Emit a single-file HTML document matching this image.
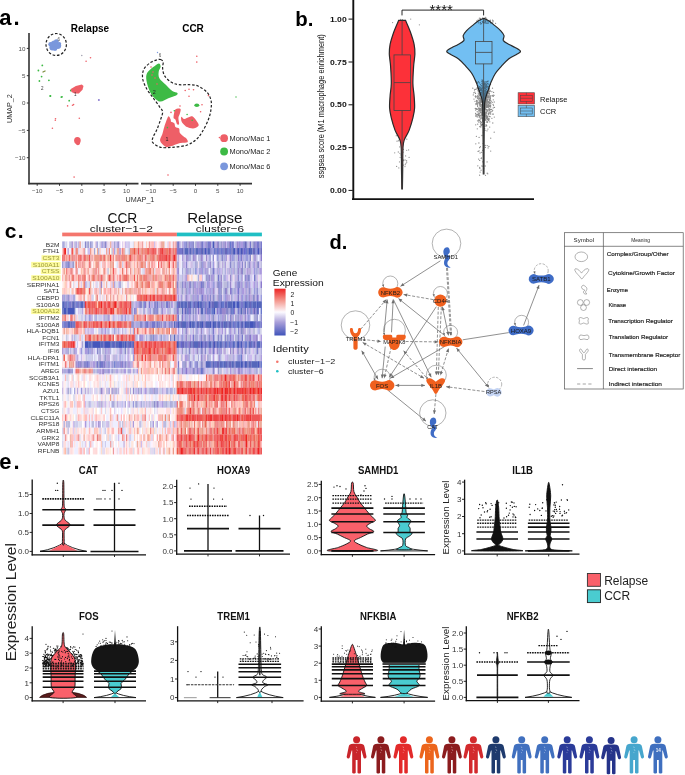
<!DOCTYPE html>
<html><head><meta charset="utf-8"><style>
html,body{margin:0;padding:0;background:#fff;width:685px;height:775px;overflow:hidden}
svg{display:block;font-family:"Liberation Sans",sans-serif;will-change:transform}
.hm rect{height:1.02px}
.hm rect:not([width]){width:1.05px}
</style></head><body>
<svg width="685" height="775" viewBox="0 0 685 775">
<text x="-0.8" y="24.6" font-size="22" font-weight="bold" fill="#000" letter-spacing="2">a.</text>
<text x="90" y="31.5" font-size="10" text-anchor="middle" font-weight="bold" fill="#000">Relapse</text>
<text x="193" y="31.5" font-size="10" text-anchor="middle" font-weight="bold" fill="#000">CCR</text>
<line x1="29" y1="33" x2="29" y2="184.3" stroke="#333" stroke-width="1.6"/>
<line x1="28.2" y1="183.6" x2="138.5" y2="183.6" stroke="#333" stroke-width="1.6"/>
<line x1="141" y1="183.6" x2="252" y2="183.6" stroke="#333" stroke-width="1.6"/>
<line x1="26.8" y1="48.4" x2="29" y2="48.4" stroke="#333" stroke-width="1"/>
<text x="25.5" y="50.6" font-size="6.2" text-anchor="end" fill="#4d4d4d">10</text>
<line x1="26.8" y1="75.7" x2="29" y2="75.7" stroke="#333" stroke-width="1"/>
<text x="25.5" y="77.9" font-size="6.2" text-anchor="end" fill="#4d4d4d">5</text>
<line x1="26.8" y1="103" x2="29" y2="103" stroke="#333" stroke-width="1"/>
<text x="25.5" y="105.2" font-size="6.2" text-anchor="end" fill="#4d4d4d">0</text>
<line x1="26.8" y1="130.4" x2="29" y2="130.4" stroke="#333" stroke-width="1"/>
<text x="25.5" y="132.6" font-size="6.2" text-anchor="end" fill="#4d4d4d">−5</text>
<line x1="26.8" y1="157.7" x2="29" y2="157.7" stroke="#333" stroke-width="1"/>
<text x="25.5" y="159.9" font-size="6.2" text-anchor="end" fill="#4d4d4d">−10</text>
<line x1="37.2" y1="183.6" x2="37.2" y2="185.8" stroke="#333" stroke-width="1"/>
<text x="37.2" y="192.8" font-size="6.2" text-anchor="middle" fill="#4d4d4d">−10</text>
<line x1="150.9" y1="183.6" x2="150.9" y2="185.8" stroke="#333" stroke-width="1"/>
<text x="150.9" y="192.8" font-size="6.2" text-anchor="middle" fill="#4d4d4d">−10</text>
<line x1="59.5" y1="183.6" x2="59.5" y2="185.8" stroke="#333" stroke-width="1"/>
<text x="59.5" y="192.8" font-size="6.2" text-anchor="middle" fill="#4d4d4d">−5</text>
<line x1="173.2" y1="183.6" x2="173.2" y2="185.8" stroke="#333" stroke-width="1"/>
<text x="173.2" y="192.8" font-size="6.2" text-anchor="middle" fill="#4d4d4d">−5</text>
<line x1="81.8" y1="183.6" x2="81.8" y2="185.8" stroke="#333" stroke-width="1"/>
<text x="81.8" y="192.8" font-size="6.2" text-anchor="middle" fill="#4d4d4d">0</text>
<line x1="195.5" y1="183.6" x2="195.5" y2="185.8" stroke="#333" stroke-width="1"/>
<text x="195.5" y="192.8" font-size="6.2" text-anchor="middle" fill="#4d4d4d">0</text>
<line x1="104.1" y1="183.6" x2="104.1" y2="185.8" stroke="#333" stroke-width="1"/>
<text x="104.1" y="192.8" font-size="6.2" text-anchor="middle" fill="#4d4d4d">5</text>
<line x1="217.8" y1="183.6" x2="217.8" y2="185.8" stroke="#333" stroke-width="1"/>
<text x="217.8" y="192.8" font-size="6.2" text-anchor="middle" fill="#4d4d4d">5</text>
<line x1="126.4" y1="183.6" x2="126.4" y2="185.8" stroke="#333" stroke-width="1"/>
<text x="126.4" y="192.8" font-size="6.2" text-anchor="middle" fill="#4d4d4d">10</text>
<line x1="240.1" y1="183.6" x2="240.1" y2="185.8" stroke="#333" stroke-width="1"/>
<text x="240.1" y="192.8" font-size="6.2" text-anchor="middle" fill="#4d4d4d">10</text>
<text x="140" y="201.6" font-size="7.2" text-anchor="middle" fill="#333">UMAP_1</text>
<text transform="translate(11.8,108.6) rotate(-90)" font-size="7.2" text-anchor="middle" fill="#333">UMAP_2</text>
<circle cx="54.5" cy="44.8" r="4.3" fill="#7a97dc"/>
<circle cx="57.8" cy="45.6" r="3.4" fill="#7a97dc"/>
<circle cx="52.4" cy="47.6" r="3" fill="#7a97dc"/>
<circle cx="56.4" cy="41.6" r="2.4" fill="#7a97dc"/>
<circle cx="50.6" cy="44.2" r="2.3" fill="#7a97dc"/>
<circle cx="55" cy="48.6" r="2.4" fill="#7a97dc"/>
<circle cx="59.5" cy="43.5" r="1.6" fill="#7a97dc"/>
<ellipse cx="56.2" cy="44.5" rx="10.2" ry="11" fill="none" stroke="#222" stroke-width="1.2" stroke-dasharray="2.6,1.8"/>
<text x="57.5" y="40.5" font-size="4.5" fill="#555">6</text>
<circle cx="42.3" cy="65.4" r="0.9" fill="#3dba45"/>
<circle cx="38.4" cy="70.5" r="0.9" fill="#3dba45"/>
<circle cx="41.6" cy="76.6" r="0.9" fill="#3dba45"/>
<circle cx="39.4" cy="81" r="0.9" fill="#3dba45"/>
<circle cx="48.9" cy="80.3" r="0.9" fill="#3dba45"/>
<circle cx="50.4" cy="96" r="0.9" fill="#3dba45"/>
<circle cx="61.3" cy="97.1" r="0.9" fill="#3dba45"/>
<circle cx="70.8" cy="90.5" r="0.9" fill="#3dba45"/>
<circle cx="62" cy="96.8" r="0.9" fill="#3dba45"/>
<circle cx="69.2" cy="100.7" r="0.9" fill="#3dba45"/>
<circle cx="50.3" cy="96" r="0.9" fill="#3dba45"/>
<path d="M42.5,72.3 L45.5,70.8" stroke="#7a8a3a" stroke-width="1.2"/>
<text x="42.3" y="89.5" font-size="4.5" text-anchor="middle" fill="#333">2</text>
<path d="M70.8,89 75.9,86.1 81.8,84.4 83.5,86.1 82.5,89.8 78.8,93.4 74.5,93.4 71.5,92Z" fill="#ee5f67" stroke="none" stroke-width="1"/>
<text x="75.2" y="96" font-size="4.5" text-anchor="middle" fill="#333">1</text>
<ellipse cx="77.4" cy="140.5" rx="3.3" ry="3.6" fill="#ee5f67"/>
<ellipse cx="77.9" cy="143.2" rx="2" ry="2" fill="#ee5f67"/>
<circle cx="67.6" cy="105.9" r="0.8" fill="#ee5f67"/>
<circle cx="73.6" cy="104.6" r="0.8" fill="#ee5f67"/>
<circle cx="72.5" cy="105.3" r="0.8" fill="#ee5f67"/>
<circle cx="55.5" cy="118.8" r="0.8" fill="#ee5f67"/>
<circle cx="55.3" cy="120.3" r="0.8" fill="#ee5f67"/>
<circle cx="79.3" cy="118.3" r="0.8" fill="#ee5f67"/>
<circle cx="52.4" cy="128.3" r="0.8" fill="#ee5f67"/>
<circle cx="74.1" cy="177.1" r="0.8" fill="#ee5f67"/>
<circle cx="86.1" cy="61.3" r="0.8" fill="#ee5f67"/>
<circle cx="90.5" cy="57.7" r="0.8" fill="#ee5f67"/>
<circle cx="81.8" cy="55.5" r="0.7" fill="#99a"/>
<circle cx="98.9" cy="99.9" r="1" fill="#8a7bd0"/>
<path d="M158.7,63.4C160,63.3 160.6,65.2 160.6,66.6C160.6,68 158.9,69.9 158.7,71.8C158.5,73.7 158.2,76 159.4,78.2C160.6,80.4 163.7,82.6 165.8,84.7C168,86.8 170.4,89.7 172.3,91.1C174.2,92.5 176.8,92.3 177.4,93.1C178,93.8 177.6,94.8 176.1,95.6C174.6,96.4 171,97.2 168.4,98.2C165.8,99.2 162.8,101.4 160.6,101.5C158.4,101.6 157.2,100.4 155.5,98.9C153.8,97.4 151.8,95.4 150.3,92.4C148.8,89.4 147,84 146.5,80.8C146,77.6 146,75.3 147.1,73.1C148.2,70.8 151,68.9 152.9,67.3C154.8,65.7 157.4,63.5 158.7,63.4Z" fill="#3dba45"/>
<path d="M168.5,116.3C169.3,115.9 170.3,118.7 170.7,119.6C171.1,120.5 170.5,121.2 171.1,121.8C171.7,122.4 173.6,122.3 174.3,123.2C175,124.1 174.6,126 175.4,126.9C176.2,127.8 178.4,127.4 179.1,128.4C179.8,129.4 179.2,131.5 179.8,132.7C180.4,133.9 181.6,134.7 182.7,135.7C183.8,136.7 185.6,137.5 186.4,138.6C187.2,139.7 188.5,141.5 187.5,142.2C186.5,142.9 183.5,142.3 180.5,143C177.5,143.7 172.2,146 169.6,146.6C167,147.2 166.8,147.6 165.2,146.6C163.6,145.6 160.6,142.9 160.1,140.8C159.6,138.7 161.7,136.3 162.3,134.2C162.9,132.1 163.2,130.5 163.8,128.4C164.4,126.3 165.2,123.8 166,121.8C166.8,119.8 167.7,116.7 168.5,116.3Z" fill="#ee5f67"/>
<path d="M175.4,109.4C176.5,108.6 179.8,108.3 180.5,109C181.2,109.7 180.2,112.3 179.8,113.8C179.5,115.3 178.5,116.4 178.4,118.1C178.3,119.8 179.3,123 179.1,124C178.8,125 177.5,124.7 176.9,124C176.3,123.3 176,120.6 175.4,119.6C174.8,118.6 173.8,119.1 173.6,118.1C173.4,117.1 173.7,115.2 174,113.8C174.3,112.3 174.3,110.2 175.4,109.4Z" fill="#ee5f67"/>
<path d="M181.3,116.7C181.7,116.3 182.9,118.9 184.2,118.9C185.5,119 187.8,117.4 189.3,117C190.8,116.6 191.5,115.7 193,116.7C194.5,117.7 197.2,121.6 198.1,123.2C198.9,124.8 198.9,125.3 198.1,126.2C197.2,127.1 194.8,128.3 193,128.4C191.2,128.5 188.4,127.4 187.1,126.9C185.8,126.4 185.8,126.3 184.9,125.4C184,124.5 182.2,122.9 181.6,121.4C181,120 180.9,117.1 181.3,116.7Z" fill="#ee5f67"/>
<circle cx="174.3" cy="110.8" r="0.8" fill="#3dba45"/>
<circle cx="187.1" cy="114.5" r="0.8" fill="#3dba45"/>
<circle cx="192.2" cy="120.3" r="0.8" fill="#3dba45"/>
<circle cx="167.4" cy="127.6" r="0.8" fill="#3dba45"/>
<ellipse cx="196.8" cy="105.3" rx="2.5" ry="1.8" fill="#3dba45"/>
<path d="M160.6,59.5C161.7,59.9 162.9,60.7 163.2,62.1C163.5,63.5 162.4,65.7 162.6,67.9C162.8,70.2 163.1,73.2 164.5,75.6C165.9,78 168.6,80.6 171,82.1C173.4,83.6 175.7,84.3 178.7,84.7C181.7,85.1 185.8,84.5 189,84.7C192.2,84.9 195,84.7 198,86C201,87.3 204.9,90 207.1,92.4C209.3,94.8 210.3,97.4 211,100.2C211.7,103 211.4,106 211,109.2C210.6,112.4 209.9,115.6 208.4,119.5C206.9,123.4 204.1,129 201.9,132.4C199.8,135.8 198.1,138 195.5,140.2C192.9,142.3 190.4,144.1 186.5,145.3C182.6,146.5 176.6,147 172.3,147.3C168,147.6 163.8,148.1 160.6,147.3C157.4,146.5 154.2,144.3 152.9,142.7C151.6,141.1 152.2,139.8 152.9,137.6C153.6,135.4 155.5,132.8 156.8,129.8C158.1,126.8 159.6,122.5 160.6,119.5C161.6,116.5 162.8,114 162.6,111.8C162.4,109.6 161,109 159.4,106.6C157.8,104.2 155.1,100.6 152.9,97.6C150.8,94.6 148.2,91.7 146.5,88.5C144.8,85.3 143,81.4 142.6,78.2C142.2,75 142.6,71.8 143.9,69.2C145.2,66.6 148.2,64.2 150.3,62.7C152.5,61.2 155.1,60.4 156.8,59.9C158.5,59.4 159.5,59.1 160.6,59.5Z" fill="none" stroke="#222" stroke-width="1.2" stroke-dasharray="2.6,1.8"/>
<circle cx="196.8" cy="56.3" r="0.8" fill="#ee5f67"/>
<circle cx="196.8" cy="62.1" r="0.8" fill="#ee5f67"/>
<circle cx="185.2" cy="90.5" r="0.8" fill="#ee5f67"/>
<circle cx="189" cy="89.2" r="0.8" fill="#ee5f67"/>
<circle cx="193.5" cy="89.8" r="0.8" fill="#ee5f67"/>
<circle cx="189" cy="96.3" r="0.8" fill="#ee5f67"/>
<circle cx="208.4" cy="95.6" r="0.8" fill="#ee5f67"/>
<circle cx="202" cy="104.7" r="0.8" fill="#ee5f67"/>
<circle cx="200.6" cy="111.8" r="0.8" fill="#ee5f67"/>
<circle cx="180" cy="106" r="0.8" fill="#ee5f67"/>
<circle cx="171" cy="112.4" r="0.8" fill="#ee5f67"/>
<circle cx="219.4" cy="137.6" r="0.8" fill="#ee5f67"/>
<circle cx="168" cy="175" r="0.8" fill="#ee5f67"/>
<circle cx="151" cy="67" r="0.8" fill="#ee5f67"/>
<circle cx="153" cy="72" r="0.8" fill="#ee5f67"/>
<circle cx="155" cy="78" r="0.8" fill="#ee5f67"/>
<circle cx="157" cy="84" r="0.8" fill="#ee5f67"/>
<circle cx="152" cy="75" r="0.8" fill="#ee5f67"/>
<circle cx="236" cy="97" r="0.7" fill="#3dba45"/>
<circle cx="157.5" cy="52.5" r="0.7" fill="#7a97dc"/>
<text x="158.8" y="57.2" font-size="4.5" fill="#555">6</text>
<text x="154.2" y="93.7" font-size="5.4" text-anchor="middle" fill="#222">2</text>
<text x="167.1" y="140.5" font-size="5.4" text-anchor="middle" fill="#222">1</text>
<circle cx="224.1" cy="138.2" r="3.9" fill="#ee5f67"/>
<text x="229.6" y="140.8" font-size="7.4" fill="#222">Mono/Mac 1</text>
<circle cx="224.1" cy="151.5" r="3.9" fill="#3dba45"/>
<text x="229.6" y="154.1" font-size="7.4" fill="#222">Mono/Mac 2</text>
<circle cx="224.1" cy="166.3" r="3.9" fill="#7a97dc"/>
<text x="229.6" y="168.9" font-size="7.4" fill="#222">Mono/Mac 6</text>
<text x="295.2" y="26.1" font-size="20.4" font-weight="bold" fill="#000">b.</text>
<line x1="353.3" y1="0" x2="353.3" y2="199.8" stroke="#111" stroke-width="1.9"/>
<line x1="352" y1="199.2" x2="534" y2="199.2" stroke="#111" stroke-width="1.8"/>
<line x1="348.5" y1="19.1" x2="352.8" y2="19.1" stroke="#111" stroke-width="1"/>
<text x="329.9" y="21.7" font-size="7.4" font-weight="bold" fill="#111" textLength="16.8" lengthAdjust="spacingAndGlyphs">1.00</text>
<line x1="348.5" y1="62" x2="352.8" y2="62" stroke="#111" stroke-width="1"/>
<text x="329.9" y="64.6" font-size="7.4" font-weight="bold" fill="#111" textLength="16.8" lengthAdjust="spacingAndGlyphs">0.75</text>
<line x1="348.5" y1="104.8" x2="352.8" y2="104.8" stroke="#111" stroke-width="1"/>
<text x="329.9" y="107.4" font-size="7.4" font-weight="bold" fill="#111" textLength="16.8" lengthAdjust="spacingAndGlyphs">0.50</text>
<line x1="348.5" y1="147.6" x2="352.8" y2="147.6" stroke="#111" stroke-width="1"/>
<text x="329.9" y="150.2" font-size="7.4" font-weight="bold" fill="#111" textLength="16.8" lengthAdjust="spacingAndGlyphs">0.25</text>
<line x1="348.5" y1="190.4" x2="352.8" y2="190.4" stroke="#111" stroke-width="1"/>
<text x="329.9" y="193" font-size="7.4" font-weight="bold" fill="#111" textLength="16.8" lengthAdjust="spacingAndGlyphs">0.00</text>
<text transform="translate(324,106.2) rotate(-90)" font-size="9" text-anchor="middle" fill="#111" textLength="144" lengthAdjust="spacingAndGlyphs">ssgsea score (M1 macrophage enrichment)</text>
<path d="M402,15.4 V10.1 H483.6 V15.4" fill="none" stroke="#111" stroke-width="0.9"/>
<text x="441.2" y="15.3" font-size="15" text-anchor="middle" fill="#111">****</text>
<path d="M402.1,143.8h0M403.7,134.2h0M405.3,164.7h0M403.5,160h0M402.2,149.5h0M399.5,139.1h0M402.8,136.6h0M403.5,165.1h0M405.1,160h0M396.3,135.7h0M400.1,157.3h0M406.7,162.2h0M403.1,152.2h0M401,154.9h0M399.7,146.9h0M401.9,131.6h0M408.6,149.9h0M399.1,140h0M405.9,163.3h0M399.5,161.9h0M398.3,152h0M401.8,145.2h0M403.6,160.5h0M404.6,129.7h0M406.8,139.2h0M403.4,149.4h0M398.8,167.9h0M402.6,135.8h0M399.9,153.3h0M403.3,139.1h0M398.3,140.8h0M406.7,150.3h0M403.4,130.5h0M401.1,137.2h0M402.5,137.5h0M397,141.2h0M403.8,129.7h0M405.6,155.9h0M409.1,157.4h0M396.6,166.4h0M405,166.6h0M402.3,159h0M394.7,152.8h0M406.6,160.7h0M401.4,145.8h0M405.1,20.5h0M392.6,22.6h0M410.7,19.1h0M404.9,27.6h0M402.8,23h0M401.4,29.8h0M404.2,23.7h0M402.5,19.6h0M403.7,20.9h0M400.7,19.4h0M399.4,24.4h0M402.1,20.3h0M419.4,24.8h0M402.8,29.9h0" stroke="#1a1a1a" stroke-opacity="0.45" stroke-width="1.3" stroke-linecap="round"/>
<path d="M405.5,20.3C406.3,22.2 409,28 410.4,32C411.8,36 413.4,40.6 414.1,44.3C414.9,48 415,50.4 414.9,54.1C414.8,57.8 413.9,61.5 413.6,66.4C413.3,71.3 412.8,78.6 412.9,83.5C413,88.4 413.8,91.7 414.1,95.8C414.4,99.9 414.8,104.3 414.6,108C414.4,111.7 413.8,114.2 412.9,117.9C412,121.6 410.6,126.4 409.2,130.1C407.8,133.8 405.3,137 404.3,139.9C403.3,142.8 403.3,142.4 403,147.3C402.7,152.2 402.8,162.5 402.7,169.4C402.6,176.3 402.5,185.7 402.4,189L401.8,189C401.8,185.7 401.6,176.3 401.5,169.4C401.4,162.5 401.5,152.2 401.2,147.3C400.9,142.4 400.9,142.8 399.9,139.9C398.9,137 396.4,133.8 395,130.1C393.6,126.4 392.2,121.6 391.3,117.9C390.4,114.2 389.8,111.7 389.6,108C389.4,104.3 389.8,99.9 390.1,95.8C390.4,91.7 391.2,88.4 391.3,83.5C391.4,78.6 390.9,71.3 390.6,66.4C390.3,61.5 389.4,57.8 389.3,54.1C389.2,50.4 389.4,48 390.1,44.3C390.9,40.6 392.4,36 393.8,32C395.2,28 397.9,22.2 398.7,20.3Z" fill="#fc3139" stroke="#2a2a2a" stroke-width="1.2"/>
<rect x="394" y="54.9" width="16.5" height="55.6" fill="none" stroke="#444" stroke-width="0.8"/>
<line x1="394" y1="82.6" x2="410.5" y2="82.6" stroke="#444" stroke-width="0.8"/>
<line x1="402.1" y1="20.5" x2="402.1" y2="54.9" stroke="#444" stroke-width="0.8"/>
<line x1="402.1" y1="110.5" x2="402.1" y2="189" stroke="#444" stroke-width="0.8"/>
<path d="M484.2,18.6C485,19 487.2,19.8 489,21C490.8,22.2 493.2,24.3 495.2,25.9C497.2,27.5 499.3,29.2 500.8,30.8C502.3,32.4 503.6,34.1 504,35.7C504.4,37.3 502.6,39.1 503.4,40.6C504.3,42.1 507.2,43.4 509.1,44.5C511.1,45.6 513.2,46.4 515.1,47.5C517,48.6 520,50.1 520.4,51.2C520.8,52.3 519.2,52.8 517.2,54.1C515.2,55.4 511.2,57 508.6,59C506,61 503.5,64 501.3,66.4C499.1,68.9 496.8,71.2 495.2,73.7C493.6,76.2 492.6,78.6 491.5,81.1C490.4,83.6 489.6,86.2 488.8,88.5C488,90.8 487.2,92.6 486.6,94.6C486,96.6 485.4,97.6 485,100.7C484.6,103.8 484.5,100.8 484.3,113C484.1,125.2 484,163.7 483.9,173.8L483.3,173.8C483.2,163.7 483.1,125.2 482.9,113C482.7,100.8 482.6,103.8 482.2,100.7C481.8,97.6 481.2,96.6 480.6,94.6C480,92.6 479.2,90.8 478.4,88.5C477.6,86.2 476.8,83.6 475.7,81.1C474.6,78.6 473.6,76.2 472,73.7C470.4,71.2 468.1,68.9 465.9,66.4C463.7,64 461.2,61 458.6,59C456,57 452,55.4 450,54.1C448,52.8 446.4,52.3 446.8,51.2C447.2,50.1 450.2,48.6 452.1,47.5C454,46.4 456.2,45.6 458.1,44.5C460.1,43.4 462.9,42.1 463.8,40.6C464.7,39.1 462.8,37.3 463.2,35.7C463.6,34.1 464.9,32.4 466.4,30.8C467.9,29.2 470,27.5 472,25.9C474,24.3 476.4,22.2 478.2,21C480,19.8 482.2,19 483,18.6Z" fill="#72bff2" stroke="#2a2a2a" stroke-width="1.2"/>
<path d="M488.4,103h0M487.4,91.8h0M482.6,99.1h0M484.2,122.9h0M486.4,101.5h0M483.5,114.4h0M479.9,108.5h0M481.9,98h0M477.9,87.3h0M482.7,84.1h0M482.4,100.1h0M478.5,102.8h0M484.5,101.1h0M480.4,110.3h0M475.9,97.6h0M475.3,96.5h0M487.8,86.4h0M486.6,125.9h0M484.8,106.9h0M493.2,107.9h0M485.7,87.8h0M487.9,97.9h0M485.9,94.3h0M481,89.5h0M480.3,115.7h0M480.4,121.5h0M483.3,118.4h0M490,113.3h0M481.8,125.3h0M481.1,86.2h0M490.6,107h0M482.2,93.9h0M486.5,121.9h0M483.5,106.7h0M479.9,105.5h0M486.2,107.4h0M475.9,104.6h0M485,116.6h0M485.3,118.8h0M490.4,90.9h0M483.1,115h0M483.6,111.5h0M486,115.2h0M484.1,109.2h0M486.5,89.4h0M484.5,103.8h0M481.2,108.4h0M481.5,124.7h0M486.5,93.2h0M482.9,86.3h0M480.8,90.4h0M477.4,83h0M483.4,90.3h0M480.8,100.5h0M493.6,92.4h0M483,88.3h0M483.9,113.4h0M483.2,100.1h0M480,90.4h0M485.6,116.4h0M484.8,85.8h0M488.4,91.6h0M482.8,101.8h0M485.7,117.3h0M482.9,110.1h0M485,87.8h0M486.9,97.5h0M487,97.9h0M481.8,94.3h0M488.2,88.4h0M484.4,116.1h0M480.3,101.1h0M490.4,105.4h0M486,102.5h0M485.9,86.4h0M485.6,109.8h0M489.8,91.5h0M486.4,82h0M486.6,106.8h0M477.2,88.6h0M484.4,94.5h0M486.8,111.8h0M490,109.2h0M481.5,105.7h0M490.4,98.4h0M478.2,89.5h0M485.3,98.7h0M490.1,96.9h0M487.1,100.7h0M485.6,92.1h0M488.2,81.1h0M483.9,102.6h0M480.9,123.2h0M483.3,113.7h0M480.9,126h0M489.8,105.2h0M478.8,110.4h0M483.2,93h0M485.9,97.7h0M485.7,115.3h0M490.3,97.4h0M485.9,124.8h0M475.5,93.4h0M478.7,120.8h0M483.3,100.4h0M481.3,101.8h0M488.9,97h0M483,90.8h0M481.6,116h0M486,97.4h0M480.3,110.1h0M480.1,104.1h0M488,106.4h0M481.5,104.7h0M475.3,108.4h0M477,109.1h0M483.9,117.5h0M482.7,104.3h0M486.6,100.8h0M482.9,90.6h0M484.7,83.2h0M483.6,105.7h0M485,106h0M487.9,129.1h0M482.3,104.8h0M483.6,92.4h0M486.8,98h0M479.6,93.2h0M485.5,97.4h0M485.3,99.3h0M481.5,85.6h0M484.7,98.7h0M486.9,106.6h0M479.5,86.8h0M488.3,87.6h0M480.8,93.6h0M486.8,93h0M479.8,98.6h0M479.6,97.8h0M488.3,102.4h0M482.2,100.6h0M485.4,91.7h0M477.5,120.8h0M489.4,85.5h0M480.7,104.2h0M484,96.5h0M478.4,108.3h0M479.2,116.8h0M478.2,93.1h0M482.9,97.3h0M483.4,101.1h0M488.7,113.8h0M484.1,106.6h0M488.2,120.4h0M484.3,103h0M482,105h0M478.9,111.2h0M475.6,116h0M480.4,84.7h0M485.1,120.3h0M483.2,84.6h0M487.5,116.3h0M483.1,105.6h0M488,95.6h0M481.1,105.9h0M486.2,105.6h0M479.4,88.3h0M485.9,93.7h0M485.7,93.9h0M484.4,98h0M483.6,102.6h0M481.4,101.9h0M477.7,95.3h0M479.5,95.9h0M484.2,86.3h0M482.3,107h0M487.2,117.1h0M481.3,113.5h0M485.7,85.6h0M486.4,105.4h0M488.4,106.6h0M486.1,98.8h0M474.8,92.2h0M489.3,97.1h0M487.5,83.6h0M482.1,94.5h0M484.4,102.5h0M484.1,91.3h0M486.8,106.9h0M489.5,93.7h0M492.8,123h0M484.3,87.3h0M485,81.6h0M479.2,108.1h0M484.3,84.6h0M480.6,108.9h0M474,99.1h0M484.2,94.2h0M489.6,103.7h0M475,89.4h0M481.4,107h0M486.3,105.2h0M489.1,108.6h0M477.3,116.9h0M491.2,101.3h0M487.3,97.5h0M482,101.4h0M487.6,119.4h0M487,99.3h0M480.8,87.6h0M483.7,111.9h0M485.3,90.3h0M488.5,105.6h0M482.6,112.5h0M483.1,96.7h0M489.2,99.5h0M488.8,119.5h0M482.7,106.2h0M482.3,111.9h0M477.3,104.6h0M489.1,97.3h0M477.9,90.7h0M489.9,100.2h0M482.2,118h0M483.2,96.7h0M483.7,91.8h0M478,98.7h0M482.6,95.6h0M479.3,92.5h0M490.8,112h0M482,98.8h0M482.7,107.5h0M488.9,93.4h0M480.8,90.5h0M480.2,94.7h0M485.8,99.4h0M486.1,117.9h0M478.8,102.4h0M480,101.3h0M487.3,100.9h0M482.8,104.2h0M483.5,93.7h0M480.1,103.2h0M487,96.4h0M481.9,83.7h0M489.5,89.2h0M485.6,108.7h0M484.7,106.4h0M477.6,105.2h0M485.9,104.8h0M486.7,86.3h0M477.8,109.3h0M482.4,96.8h0M485.1,96.2h0M482.8,88h0M486.4,104.5h0M482.7,102.5h0M476,109.6h0M482.4,112.3h0M482,88.2h0M475.8,81.8h0M480.6,98.4h0M480.2,110.1h0M480,87.8h0M483.7,120.9h0M479.8,95.3h0M483,89.9h0M488,106.7h0M484.6,114.6h0M480.3,94.7h0M479.7,126.6h0M488.7,114.8h0M482.7,99.5h0M485.7,96.9h0M485.8,114.1h0M482.2,110.8h0M479.3,113.6h0M489.2,116.4h0M478.4,81.7h0M477.5,98.2h0M489.3,90.9h0M480.5,121.9h0M486.1,84.9h0M483.8,96.7h0M484,106.3h0M485.7,104h0M483.7,85h0M482.7,90.8h0M481,96.5h0M485,84h0M485,96.3h0M480,116.2h0M486.3,94.9h0M482.7,87.4h0M483.9,102.1h0M490,106.9h0M486.9,109.6h0M486.1,104.5h0M487,107.3h0M484.4,103.3h0M485.1,107.1h0M483.7,98.1h0M484.2,113.9h0M486.8,87.7h0M484.8,112.6h0M484.1,100h0M483,109.6h0M486,112.4h0M488.2,109.8h0M485.2,98.8h0M485.6,118.8h0M490.2,99h0M485.5,97h0M486.6,102h0M478.7,108.1h0M485,99.3h0M474.5,90h0M483.4,101.2h0M483.9,106.7h0M484.5,103.4h0M485.4,117.1h0M482.1,108h0M482.9,114.4h0M475.6,110.1h0M483.2,104.7h0M488.5,96.9h0M483.1,106.5h0M490.7,96.2h0M486.1,110.2h0M488.6,93.6h0M482.6,108.1h0M477.4,100.9h0M479.5,109.2h0M481.9,111.3h0M485,95.2h0M479.3,104.3h0M485.9,101.2h0M478.5,99.2h0M480,99.3h0M483.8,95.7h0M482.8,101.4h0M484.9,83.9h0M482.1,99.8h0M490.9,103.7h0M477.5,87.9h0M480.6,110.4h0M479.9,116.3h0M486.8,96.7h0M485.3,112h0M483.1,107h0M482.8,97.2h0M486.3,115.9h0M484.8,102.2h0M488.1,111.1h0M483.3,100.6h0M493.5,105.6h0M488.4,104.6h0M486.8,85.2h0M479.5,86.6h0M483.1,95.1h0M485,104h0M481.9,104.5h0M485.1,130.3h0M491.2,109.3h0M485.8,112.6h0M490.6,105.5h0M480,90.2h0M475.9,103.6h0M487.9,93.5h0M484.2,97h0M479.2,109.6h0M481.2,105h0M482.6,90.1h0M482.1,101.4h0M487.2,94.8h0M485.7,114.6h0M479.6,100.9h0M479.4,93.1h0M487,104.3h0M483.5,111.9h0M484.3,97.8h0M485.8,103.3h0M481,118.1h0M475.7,124.8h0M477.9,82.6h0M482.7,90.8h0M481,124.5h0M482.2,114h0M479.8,103.7h0M483.5,126.7h0M492.2,95.3h0M485.2,104h0M480.5,100.4h0M482.9,86.4h0M485.2,119.6h0M487.6,100.1h0M488.8,91.8h0M480.5,101.8h0M485.5,109.4h0M484.4,98.3h0M488.9,112.7h0M473.7,92.8h0M482.6,124.3h0M485.2,97.5h0M487.5,97.3h0M482.8,88.4h0M489.3,88.3h0M487.7,99.3h0M479.1,117.1h0M486.3,99.6h0M483.1,102.5h0M487,111.2h0M483.1,95.5h0M484.4,109.1h0M479.4,103.5h0M482.7,121.1h0M483.5,104.9h0M484.2,102.7h0M485,92.9h0M485.1,115.1h0M485.4,109.9h0M490.4,102.3h0M485.1,94.6h0M484.7,113.2h0M479.5,90.5h0M480,119.1h0M485.7,102.1h0M476.9,103h0M483.2,81.3h0M482.6,93.6h0M484.2,103h0M477.3,87.4h0M481.2,112.3h0M476.1,89.2h0M478.8,107.8h0M486,90.6h0M485.7,105.3h0M472.8,88.2h0M482.5,91.2h0M487,94.8h0M479.7,105.9h0M483,108.2h0M487.8,96.7h0M487.5,83.7h0M475.8,113.9h0M483,99.9h0M481.4,89.6h0M483.8,93.1h0M475.5,95.9h0M487,115.1h0M486.9,92.9h0M477.7,124.2h0M481.6,97.5h0M482.5,108.1h0M488.4,86.7h0M486.4,98.5h0M480.8,127.1h0M487.1,97.5h0M485.6,100.8h0M494.2,102h0M484.9,109h0M485.1,103.4h0M482.6,84.1h0M479,110.2h0M483.2,102.5h0M493.1,96.4h0M484.9,109.9h0M483.9,93.4h0M483.3,98.7h0M493.1,104.4h0M490.1,116.7h0M494.3,117.1h0M478.7,94.8h0M484.6,104.3h0M481.2,102.4h0M490.2,109.6h0M482.7,104.5h0M482.5,115.2h0M484.8,98.1h0M490.8,96h0M485.2,106.2h0M486.1,109.2h0M482.8,105.8h0M492,111.3h0M483.4,132.7h0M487.2,102.3h0M482.3,114.1h0M480.4,99.2h0M484.1,112h0M477,101.8h0M481.8,90.8h0M482.6,90.5h0M482.1,81.7h0M488.5,106.5h0M480.6,121.5h0M492.4,114.1h0M481.7,105.6h0M486.1,101.3h0M487,130.8h0M487.8,83.2h0M484,103.4h0M478.7,115.4h0M483.3,118.7h0M482.6,83.5h0M486.2,113.5h0M484.4,96.2h0M481.6,94.2h0M483.5,91.4h0M486.9,97.7h0M477.3,128.8h0M478.1,115.5h0M493.7,95.1h0M485.5,101.3h0M483.6,84.1h0M488.2,93.4h0M493.3,96.2h0M484.9,90h0M482.1,80h0M483.2,115.4h0M485.5,87.8h0M485.3,112.5h0M478.2,113h0M486.3,122.1h0M490.7,100.3h0M488.3,105.1h0M480.9,110.7h0M479.2,113.7h0M486.1,96h0M483.5,90.9h0M487.6,90.9h0M480,112.3h0M485.7,106.7h0M487.4,91.5h0M484.8,104.9h0M486.4,98.1h0M484.5,115.5h0M481.4,114h0M476.5,100.4h0M476.4,114.7h0M485.7,86.5h0M489,118.4h0M486.6,93h0M481.6,109h0M490.2,109.6h0M482.7,98.2h0M484.2,112.1h0M483.9,122.8h0M486.4,105.6h0M486.5,91.9h0M485.8,87.9h0M480.2,95.7h0M489.7,127.1h0M482.1,100.3h0M485.9,84.8h0M483.5,106.1h0M483.9,114.6h0M487.4,81.4h0M480.6,106.6h0M486.1,89.3h0M481.9,107.5h0M484.6,98.3h0M482.9,100.4h0M481.8,114.3h0M482.9,97.8h0M487.8,103.4h0M479.9,110.6h0M494.1,95.3h0M479.6,94.9h0M486.7,104.7h0M482.4,106.7h0M482.6,87h0M488.7,90.5h0M479.6,120.3h0M481,101.4h0M485.1,112.9h0M485.9,99.3h0M481.7,107.3h0M475.6,113.4h0M489.3,119.8h0M485.2,95.9h0M484.6,103.2h0M483.6,91.2h0M477.8,114.4h0M484.9,112.4h0M485.1,96.7h0M486.6,102h0M480.3,98.6h0M485.3,107.9h0M485.3,88.7h0M489.5,102.5h0M489.1,105.5h0M482.1,96.7h0M479.8,102.1h0M482.3,87.6h0M480.6,93.8h0M485.9,120.2h0M480.2,110.1h0M482.2,94.4h0M480.2,115.5h0M490.5,105.6h0M483.3,112.1h0M483.5,114.6h0M489,109.6h0M488.8,92.5h0M482.7,97.5h0M482.3,80.9h0M484.3,88.4h0M480.5,109.8h0M483.8,87.5h0M481.3,105.3h0M487.2,117.5h0M482.6,93.2h0M478.6,119.8h0M480.7,123.8h0M480.4,101.9h0M484,118.5h0M480.1,101h0M484.3,87.9h0M489.5,102h0M482.2,92h0M486.7,112.8h0M489.1,94.5h0M487,107.2h0M487.3,105.7h0M482.8,97.4h0M485.1,113.9h0M487.9,105.9h0M485.1,104.5h0M481.6,125.4h0M483.2,91h0M484.8,110.1h0M491.9,91.7h0M489.8,121.8h0M484.2,90.4h0M493.3,99.8h0M488.2,107.6h0M483.4,94.7h0M494.5,107.4h0M477.6,106.5h0M482.6,106.1h0M477.5,96.7h0M487.7,103.9h0M483.1,111.7h0M481.3,102.5h0M481,97.7h0M483.4,91.4h0M479,114.5h0M483.4,85.2h0M486.6,84.1h0M488.4,101.4h0M481.7,92.6h0M484.3,108.4h0M481.6,97.2h0M479.1,102.7h0M481.5,122.4h0M480,100.5h0M484.9,115.5h0M475,101.3h0M485.7,103.9h0M482.8,119.9h0M484.2,84.1h0M487.4,110.1h0M479.1,94.7h0M485.3,105.2h0M478,85.8h0M483.9,102.8h0M486.9,118.7h0M486.3,92.6h0M483.4,117.1h0M489.5,100.6h0M483.6,110.9h0M481.4,99.9h0M484.5,115h0M492.5,88.2h0M487.7,117.9h0M488,86.8h0M485.5,86.6h0M486,98.4h0M485.6,83.1h0M485.9,97.5h0M484.5,97.7h0M488.1,96.2h0M482.2,87.8h0M484.4,101.4h0M484.2,111.9h0M488.3,106.7h0M490,100.2h0M480.3,89h0M479,100.8h0M485.1,93.5h0M486.2,120.1h0M483.6,97h0M481.4,115h0M480.7,93.6h0M494.2,132.2h0M486.8,107.2h0M483.6,107.6h0M483.6,89.4h0M492.2,102.4h0M483.9,100.6h0M483.7,100.9h0M476.2,96.3h0M482.9,104.9h0M480.7,97.8h0M484.1,92.8h0M485.5,100h0M482.4,98.7h0M483.3,105.2h0M483,109h0M486.7,117.7h0M482.3,83.5h0M483.3,86.5h0M486.4,116.3h0M482.8,82.3h0M486,117h0M481.8,112.3h0M478.9,98.6h0M486.3,92.5h0M483.1,99.9h0M489.4,95.8h0M487.9,101.4h0M487.2,101.6h0M478.5,91.4h0M482.4,114.1h0M486.9,104.9h0M484.6,109.6h0M481,89h0M486,102.4h0M485,107.6h0M483.6,93.6h0M480.3,112.6h0M487,95.7h0M485.1,119.3h0M480,102.1h0M480.6,100.7h0M486.3,103.5h0M488.5,106.9h0M478.8,90.9h0M487.5,116.9h0M484.1,91.4h0M483.5,90.3h0M487.2,105.4h0M478.8,91.4h0M482.3,108.2h0M479.3,117.3h0M473.3,94.9h0M488.6,114.3h0M482.5,106.5h0M478.4,96.7h0M477.1,116.7h0M484.4,96.3h0M490.6,106.4h0M485.2,93.5h0M486.7,94.7h0M484.7,128.7h0M487,97.6h0M483.1,110.8h0M487.7,121.7h0M486.3,102.3h0M482.6,109.3h0M481.6,110.1h0M486.1,99.5h0M482.3,88.4h0M486.3,91.5h0M490.5,95.8h0M481,118.8h0M482.3,103.8h0M486.2,102h0M491.9,118.3h0M478.9,122.2h0M482.9,96.9h0M484.2,98.6h0M481.9,109.1h0M492.5,95.7h0M491.8,109.6h0M488.8,95.9h0M488.6,120.4h0M485.7,93.9h0M479.4,93.7h0M485.6,102h0M483.2,99.8h0M481.1,109h0M486.6,106.7h0M485.8,109.2h0M482.6,91.2h0M486.3,97.4h0M484.2,83h0M486.1,84.6h0M483.8,96.5h0M490.1,112.3h0M484.1,91.3h0M482.9,80.8h0M486.1,94.6h0M484,100.9h0M482.4,89.9h0M483.7,89.9h0M484.6,84.8h0M493.5,114.1h0M488.6,118.6h0M489.6,110.9h0M485.1,101.7h0M481.8,81.7h0M477.2,114.7h0M483.4,105.6h0M484.8,98.2h0M479.4,102.4h0M476.8,101.3h0M483.6,118.5h0M480.2,111.8h0M487.5,122.3h0M484.5,105.9h0M480.9,106.3h0M482.8,100.6h0M489.4,106.3h0M484.7,114.8h0M482.6,109.1h0M477.6,96.9h0M479.2,88.3h0M483,101.4h0M488,106.9h0M483.1,109.6h0M482.6,97.1h0M480.2,108.8h0M482.8,85.8h0M488.2,113.6h0M476.4,108.7h0M486.3,100.4h0M490.6,114h0M485,91.9h0M482.8,85.1h0M486.7,97.9h0M477.1,103.9h0M485,100.8h0M480.9,118h0M481.4,92.7h0M482.6,113.3h0M485.3,103.1h0M487.7,93.2h0M490.5,84.4h0M480.2,94.8h0M479.2,94h0M480.6,92.5h0M483,89.3h0M481.4,105.5h0M480.5,104h0M482.4,104.5h0M484,90.2h0M481.1,100.2h0M485.6,101.5h0M481.7,88.6h0M483.6,108.9h0M492.7,110.6h0M485,88.4h0M489,98h0M478.4,108.3h0M483.6,113.8h0M483.7,98.7h0M480.4,104.4h0M488.7,97.9h0M481.3,90.9h0M480,110.4h0M484.8,99.8h0M482.4,92.1h0M482.8,92.1h0M483.6,105.1h0M485,104.7h0M479.6,110.6h0M489.6,103.2h0M482.6,99.4h0M480.9,102.1h0M483.6,108.1h0M486.4,100.1h0M478.3,115.2h0M482.6,96.5h0M486.2,86.6h0M486.6,125.2h0M476.2,115.8h0M478.6,97.2h0M483.1,110.6h0M485.4,100.1h0M489.8,110.3h0M487.1,117h0M488.3,84.1h0M477.8,103h0M482.7,103.8h0M487.2,101h0M486,87.2h0M479.3,115.1h0M481.1,117.3h0M487.1,93.9h0M476.6,101.8h0M486.2,94.9h0M481.8,96h0M483.6,102.1h0M480.1,94.5h0M488.2,106.8h0M485.2,126.2h0M479.6,82.9h0M482.1,106.9h0M477.2,111.7h0M490.7,151.1h0M483.2,143.5h0M481.9,166h0M481.2,158.5h0M485.4,147.4h0M480.1,172.1h0M481.5,158h0M480.1,152.9h0M480.4,146.7h0M479.6,175.2h0M488.9,146.4h0M478.9,143h0M482.7,161.8h0M475.8,143.8h0M482.7,150.3h0M478.6,159.1h0M477.8,165.8h0M485.5,175.3h0M487.8,173.8h0M487.1,161.9h0M476.4,136.3h0M479.7,167.5h0M479.6,147.7h0M479.7,160.4h0M487.2,145.6h0M487.2,173.2h0M485.2,166h0M479.1,150.8h0M481.1,170.2h0M483.2,166.3h0M483.7,168.6h0M481.9,135.5h0M479.1,137.4h0M481.7,152.3h0M488.1,147.9h0M479.8,168.4h0M478.1,151.4h0M490.7,138.2h0M485.2,145.4h0M483.3,166.6h0M488.3,23h0M487.7,21.1h0M478.7,22.8h0M490.5,21.1h0M480.5,19.9h0M480.4,23.9h0M483.9,18.4h0M483.5,18.6h0M484.5,18.2h0M480.4,22.4h0M490.3,20.2h0M495.6,23.3h0M485,22.5h0M480.5,19.9h0M483.9,21.9h0M485.1,20.9h0M480.5,18.4h0M492.5,20.1h0M487.6,23.2h0M486,20.5h0M485.7,21.5h0M486.6,18.9h0M484.9,23.1h0M482.4,21.4h0M485.7,17.5h0M479.4,18.2h0M482.8,17.8h0M482.8,22.5h0M490.7,22.9h0M476.8,20.9h0M489.1,20.9h0M478.1,20h0M485.7,18.7h0M483.9,20.2h0M493.2,21h0M492.7,22.2h0M486.4,23.2h0M481.4,23.7h0M483.3,22.6h0M486.2,23.2h0" stroke="#1a1a1a" stroke-opacity="0.5" stroke-width="1.3" stroke-linecap="round"/>
<rect x="475.5" y="41.4" width="16.5" height="22.5" fill="none" stroke="#444" stroke-width="0.8"/>
<line x1="475.5" y1="52.4" x2="492" y2="52.4" stroke="#444" stroke-width="0.8"/>
<line x1="483.6" y1="18.8" x2="483.6" y2="41.4" stroke="#444" stroke-width="0.8"/>
<line x1="483.6" y1="63.9" x2="483.6" y2="174" stroke="#444" stroke-width="0.8"/>
<rect x="518.1" y="92.7" width="16.5" height="11.3" fill="#fc3139" stroke="#555" stroke-width="0.6"/>
<rect x="520.5" y="95.3" width="11.7" height="6" fill="none" stroke="#444" stroke-width="0.5"/>
<line x1="520.5" y1="98.3" x2="532.2" y2="98.3" stroke="#444" stroke-width="0.5"/>
<line x1="526.4" y1="92.7" x2="526.4" y2="95.3" stroke="#444" stroke-width="0.5"/>
<line x1="526.4" y1="101.3" x2="526.4" y2="104" stroke="#444" stroke-width="0.5"/>
<rect x="518.1" y="105.4" width="16.5" height="11.3" fill="#72bff2" stroke="#555" stroke-width="0.6"/>
<rect x="520.5" y="108" width="11.7" height="6" fill="none" stroke="#444" stroke-width="0.5"/>
<line x1="520.5" y1="111" x2="532.2" y2="111" stroke="#444" stroke-width="0.5"/>
<line x1="526.4" y1="105.4" x2="526.4" y2="108" stroke="#444" stroke-width="0.5"/>
<line x1="526.4" y1="114" x2="526.4" y2="116.7" stroke="#444" stroke-width="0.5"/>
<text x="540" y="102.2" font-size="7.5" fill="#111">Relapse</text>
<text x="540" y="114.1" font-size="7.5" fill="#111">CCR</text>
<text x="4.8" y="238" font-size="21" font-weight="bold" fill="#000" letter-spacing="1.2">c.</text>
<g class="hm" transform="translate(62.2,241.4) scale(1.3313,6.6531)"><g transform="translate(0,0)"><rect x="0" width="2" fill="#aad"/><rect x="2" fill="#dde"/><rect x="3" fill="#cce"/><rect x="4" fill="#fff"/><rect x="5" fill="#cce"/><rect x="6" fill="#bbd"/><rect x="7" fill="#98c"/><rect x="8" fill="#ede"/><rect x="9" fill="#bbd"/><rect x="10" fill="#a9d"/><rect x="11" fill="#dde"/><rect x="12" fill="#bad"/><rect x="13" fill="#e98"/><rect x="14" fill="#eef"/><rect x="15" fill="#dde"/><rect x="16" fill="#eef"/><rect x="17" fill="#88c"/><rect x="18" fill="#bbd"/><rect x="19" fill="#88c"/><rect x="20" fill="#dde"/><rect x="21" fill="#88c"/><rect x="22" fill="#aad"/><rect x="23" fill="#eef"/><rect x="24" fill="#fee"/><rect x="25" fill="#bad"/><rect x="26" fill="#aad"/><rect x="27" fill="#eef"/><rect x="28" fill="#cce"/><rect x="29" fill="#bad"/><rect x="30" fill="#99d"/><rect x="31" fill="#bad"/><rect x="32" fill="#88c"/><rect x="33" fill="#bad"/><rect x="34" width="2" fill="#ede"/><rect x="36" fill="#ea9"/><rect x="37" fill="#cbe"/><rect x="38" fill="#dce"/><rect x="39" fill="#99c"/><rect x="40" fill="#cbe"/><rect x="41" fill="#aad"/><rect x="42" fill="#98c"/><rect x="43" fill="#edf"/><rect x="44" fill="#fff"/><rect x="45" fill="#dce"/><rect x="46" fill="#fee"/><rect x="47" fill="#cbe"/><rect x="48" fill="#cce"/><rect x="49" fill="#cbe"/><rect x="50" fill="#cce"/><rect x="51" width="2" fill="#eef"/><rect x="53" fill="#dde"/><rect x="54" fill="#fcb"/><rect x="55" fill="#fdd"/><rect x="56" fill="#fdc"/><rect x="57" fill="#e98"/><rect x="58" width="2" fill="#fcc"/><rect x="60" fill="#e99"/><rect x="61" fill="#fee"/><rect x="62" fill="#eef"/><rect x="63" fill="#fcb"/><rect x="64" fill="#fee"/><rect x="65" fill="#e99"/><rect x="66" fill="#fcc"/><rect x="67" fill="#faa"/><rect x="68" fill="#fbb"/><rect x="69" fill="#cbe"/><rect x="70" fill="#fcc"/><rect x="71" fill="#fef"/><rect x="72" fill="#fee"/><rect x="73" fill="#fcc"/><rect x="74" fill="#eaa"/><rect x="75" width="2" fill="#ea9"/><rect x="77" fill="#eef"/><rect x="78" fill="#fee"/><rect x="79" fill="#dce"/><rect x="80" fill="#fbb"/><rect x="81" fill="#fcc"/><rect x="82" fill="#eef"/><rect x="83" fill="#eaa"/><rect x="84" fill="#fcc"/><rect x="85" fill="#e99"/><rect x="86" fill="#88c"/><rect x="87" fill="#77c"/><rect x="88" fill="#a9d"/><rect x="89" fill="#dde"/><rect x="90" fill="#bad"/><rect x="91" width="2" fill="#99d"/><rect x="93" fill="#88c"/><rect x="94" fill="#99c"/><rect x="95" fill="#98c"/><rect x="96" fill="#99d"/><rect x="97" fill="#77c"/><rect x="98" fill="#88c"/><rect x="99" fill="#dde"/><rect x="100" fill="#99c"/><rect x="101" width="2" fill="#a9d"/><rect x="103" fill="#98c"/><rect x="104" fill="#88c"/><rect x="105" fill="#77c"/><rect x="106" fill="#99d"/><rect x="107" fill="#a9d"/><rect x="108" fill="#99c"/><rect x="109" width="2" fill="#77c"/><rect x="111" fill="#87c"/><rect x="112" fill="#aad"/><rect x="113" fill="#45b"/><rect x="114" fill="#99c"/><rect x="115" fill="#a9d"/><rect x="116" fill="#98c"/><rect x="117" fill="#88c"/><rect x="118" fill="#aad"/><rect x="119" fill="#99c"/><rect x="120" fill="#bad"/><rect x="121" fill="#88c"/><rect x="122" fill="#98c"/><rect x="123" fill="#cbe"/><rect x="124" fill="#88c"/><rect x="125" fill="#98c"/><rect x="126" fill="#67c"/><rect x="127" width="2" fill="#77c"/><rect x="129" fill="#cce"/><rect x="130" fill="#aad"/><rect x="131" fill="#98c"/><rect x="132" fill="#a9d"/><rect x="133" fill="#77c"/><rect x="134" width="2" fill="#a9d"/><rect x="136" fill="#77c"/><rect x="137" fill="#66b"/><rect x="138" fill="#88c"/><rect x="139" fill="#aad"/><rect x="140" fill="#bad"/><rect x="141" fill="#77c"/><rect x="142" fill="#bbd"/><rect x="143" fill="#99c"/><rect x="144" fill="#88c"/><rect x="145" fill="#87c"/><rect x="146" width="2" fill="#77c"/><rect x="148" fill="#88c"/><rect x="149" fill="#77c"/></g><g transform="translate(0,1)"><rect x="0" fill="#fbb"/><rect x="1" fill="#e33"/><rect x="2" fill="#e22"/><rect x="3" fill="#fee"/><rect x="4" fill="#a9d"/><rect x="5" fill="#fee"/><rect x="6" fill="#eef"/><rect x="7" fill="#e33"/><rect x="8" fill="#fba"/><rect x="9" fill="#dde"/><rect x="10" fill="#e77"/><rect x="11" fill="#e98"/><rect x="12" fill="#dce"/><rect x="13" width="2" fill="#fdd"/><rect x="15" fill="#fcc"/><rect x="16" fill="#e88"/><rect x="17" fill="#dde"/><rect x="18" fill="#fff"/><rect x="19" width="2" fill="#cbe"/><rect x="21" fill="#e87"/><rect x="22" width="2" fill="#fdd"/><rect x="24" fill="#99c"/><rect x="25" fill="#fff"/><rect x="26" fill="#ea9"/><rect x="27" fill="#aad"/><rect x="28" fill="#fcb"/><rect x="29" fill="#eef"/><rect x="30" fill="#fee"/><rect x="31" width="2" fill="#eef"/><rect x="33" fill="#e98"/><rect x="34" fill="#dce"/><rect x="35" fill="#e87"/><rect x="36" fill="#ffe"/><rect x="37" fill="#bbd"/><rect x="38" fill="#faa"/><rect x="39" fill="#a9d"/><rect x="40" fill="#dde"/><rect x="41" fill="#ea9"/><rect x="42" fill="#e99"/><rect x="43" fill="#98c"/><rect x="44" fill="#fcc"/><rect x="45" fill="#e77"/><rect x="46" fill="#e98"/><rect x="47" fill="#dde"/><rect x="48" fill="#eef"/><rect x="49" fill="#dde"/><rect x="50" fill="#bbd"/><rect x="51" fill="#e87"/><rect x="52" fill="#e76"/><rect x="53" fill="#e87"/><rect x="54" fill="#e43"/><rect x="55" fill="#e87"/><rect x="56" fill="#e99"/><rect x="57" fill="#e44"/><rect x="58" fill="#e99"/><rect x="59" fill="#e98"/><rect x="60" fill="#e76"/><rect x="61" fill="#e77"/><rect x="62" width="2" fill="#e87"/><rect x="64" fill="#e22"/><rect x="65" fill="#e87"/><rect x="66" fill="#e77"/><rect x="67" fill="#e44"/><rect x="68" fill="#e55"/><rect x="69" width="2" fill="#e66"/><rect x="71" fill="#fcc"/><rect x="72" fill="#e88"/><rect x="73" width="2" fill="#e55"/><rect x="75" fill="#e33"/><rect x="76" fill="#e55"/><rect x="77" fill="#e77"/><rect x="78" width="2" fill="#e76"/><rect x="80" fill="#e55"/><rect x="81" fill="#e66"/><rect x="82" fill="#e88"/><rect x="83" fill="#e77"/><rect x="84" fill="#e98"/><rect x="85" fill="#e44"/><rect x="86" fill="#87c"/><rect x="87" width="3" fill="#77c"/><rect x="90" fill="#66b"/><rect x="91" fill="#77c"/><rect x="92" width="3" fill="#56b"/><rect x="95" fill="#77c"/><rect x="96" fill="#56b"/><rect x="97" fill="#66b"/><rect x="98" fill="#67c"/><rect x="99" fill="#88c"/><rect x="100" width="2" fill="#56b"/><rect x="102" fill="#77c"/><rect x="103" fill="#45b"/><rect x="104" fill="#66b"/><rect x="105" fill="#56b"/><rect x="106" fill="#66b"/><rect x="107" fill="#45b"/><rect x="108" fill="#77c"/><rect x="109" width="2" fill="#56b"/><rect x="111" fill="#88c"/><rect x="112" fill="#77c"/><rect x="113" fill="#99d"/><rect x="114" fill="#67c"/><rect x="115" fill="#66b"/><rect x="116" fill="#67c"/><rect x="117" fill="#77c"/><rect x="118" fill="#66b"/><rect x="119" fill="#67c"/><rect x="120" fill="#77c"/><rect x="121" fill="#56b"/><rect x="122" width="2" fill="#66b"/><rect x="124" fill="#45b"/><rect x="125" fill="#77c"/><rect x="126" fill="#67c"/><rect x="127" fill="#66b"/><rect x="128" fill="#56b"/><rect x="129" fill="#45b"/><rect x="130" fill="#77c"/><rect x="131" fill="#66b"/><rect x="132" fill="#45b"/><rect x="133" fill="#66b"/><rect x="134" fill="#45b"/><rect x="135" fill="#66b"/><rect x="136" width="2" fill="#66c"/><rect x="138" fill="#67c"/><rect x="139" fill="#66b"/><rect x="140" fill="#45b"/><rect x="141" width="2" fill="#56b"/><rect x="143" width="2" fill="#66b"/><rect x="145" fill="#67c"/><rect x="146" fill="#77c"/><rect x="147" fill="#45b"/><rect x="148" fill="#77c"/><rect x="149" fill="#66b"/></g><g transform="translate(0,2)"><rect x="0" fill="#e55"/><rect x="1" fill="#e66"/><rect x="2" fill="#faa"/><rect x="3" fill="#e87"/><rect x="4" fill="#faa"/><rect x="5" fill="#e66"/><rect x="6" fill="#ea9"/><rect x="7" fill="#e77"/><rect x="8" width="2" fill="#e99"/><rect x="10" fill="#e88"/><rect x="11" fill="#fbb"/><rect x="12" fill="#e65"/><rect x="13" fill="#e55"/><rect x="14" fill="#e88"/><rect x="15" fill="#faa"/><rect x="16" fill="#e55"/><rect x="17" fill="#e77"/><rect x="18" width="2" fill="#e98"/><rect x="20" fill="#e55"/><rect x="21" fill="#eaa"/><rect x="22" fill="#e99"/><rect x="23" fill="#fcc"/><rect x="24" width="4" fill="#e98"/><rect x="28" fill="#e66"/><rect x="29" fill="#e87"/><rect x="30" fill="#ea9"/><rect x="31" fill="#e44"/><rect x="32" fill="#ea9"/><rect x="33" fill="#fcb"/><rect x="34" fill="#e87"/><rect x="35" fill="#ea9"/><rect x="36" fill="#e22"/><rect x="37" fill="#fba"/><rect x="38" fill="#e88"/><rect x="39" fill="#fdd"/><rect x="40" fill="#e87"/><rect x="41" fill="#e99"/><rect x="42" width="2" fill="#e88"/><rect x="44" fill="#e98"/><rect x="45" fill="#e77"/><rect x="46" fill="#e65"/><rect x="47" fill="#e98"/><rect x="48" fill="#e87"/><rect x="49" fill="#fba"/><rect x="50" fill="#e76"/><rect x="51" fill="#e44"/><rect x="52" fill="#e87"/><rect x="53" fill="#faa"/><rect x="54" fill="#e88"/><rect x="55" fill="#faa"/><rect x="56" fill="#e98"/><rect x="57" fill="#e87"/><rect x="58" fill="#e55"/><rect x="59" fill="#e98"/><rect x="60" fill="#e88"/><rect x="61" fill="#fbb"/><rect x="62" fill="#e66"/><rect x="63" fill="#e88"/><rect x="64" width="2" fill="#ea9"/><rect x="66" fill="#e87"/><rect x="67" fill="#e66"/><rect x="68" fill="#e76"/><rect x="69" fill="#e88"/><rect x="70" fill="#ea9"/><rect x="71" fill="#e87"/><rect x="72" fill="#e77"/><rect x="73" fill="#e22"/><rect x="74" fill="#e66"/><rect x="75" fill="#e55"/><rect x="76" fill="#e33"/><rect x="77" fill="#e55"/><rect x="78" fill="#e33"/><rect x="79" fill="#e55"/><rect x="80" fill="#e44"/><rect x="81" fill="#e76"/><rect x="82" fill="#e88"/><rect x="83" fill="#e55"/><rect x="84" fill="#e22"/><rect x="85" fill="#e44"/><rect x="86" fill="#cce"/><rect x="87" fill="#bad"/><rect x="88" fill="#ede"/><rect x="89" fill="#eef"/><rect x="90" fill="#a9d"/><rect x="91" fill="#bad"/><rect x="92" fill="#cce"/><rect x="93" fill="#98c"/><rect x="94" fill="#87c"/><rect x="95" width="2" fill="#aad"/><rect x="97" fill="#cce"/><rect x="98" fill="#98c"/><rect x="99" fill="#a9d"/><rect x="100" fill="#98c"/><rect x="101" fill="#eef"/><rect x="102" fill="#bbd"/><rect x="103" fill="#aad"/><rect x="104" fill="#98c"/><rect x="105" fill="#a9d"/><rect x="106" fill="#cce"/><rect x="107" fill="#dde"/><rect x="108" fill="#98c"/><rect x="109" fill="#cbe"/><rect x="110" width="2" fill="#aad"/><rect x="112" fill="#eef"/><rect x="113" fill="#88c"/><rect x="114" fill="#fef"/><rect x="115" fill="#eef"/><rect x="116" fill="#99d"/><rect x="117" fill="#aad"/><rect x="118" fill="#bbd"/><rect x="119" fill="#aad"/><rect x="120" fill="#88c"/><rect x="121" width="2" fill="#aad"/><rect x="123" fill="#a9d"/><rect x="124" fill="#ede"/><rect x="125" fill="#cbe"/><rect x="126" fill="#98c"/><rect x="127" width="2" fill="#99d"/><rect x="129" fill="#aad"/><rect x="130" width="2" fill="#bbd"/><rect x="132" fill="#87c"/><rect x="133" fill="#99d"/><rect x="134" fill="#77c"/><rect x="135" fill="#bad"/><rect x="136" fill="#99d"/><rect x="137" fill="#aad"/><rect x="138" width="2" fill="#99d"/><rect x="140" fill="#aad"/><rect x="141" fill="#88c"/><rect x="142" fill="#fee"/><rect x="143" fill="#bbd"/><rect x="144" fill="#a9d"/><rect x="145" fill="#98c"/><rect x="146" fill="#cce"/><rect x="147" fill="#eef"/><rect x="148" fill="#cce"/><rect x="149" fill="#87c"/></g><g transform="translate(0,3)"><rect x="0" fill="#88c"/><rect x="1" fill="#cbe"/><rect x="2" fill="#aad"/><rect x="3" fill="#88c"/><rect x="4" fill="#77c"/><rect x="5" fill="#99c"/><rect x="6" fill="#bad"/><rect x="7" fill="#aad"/><rect x="8" fill="#99c"/><rect x="9" fill="#dde"/><rect x="10" fill="#e65"/><rect x="11" fill="#fdd"/><rect x="12" fill="#e88"/><rect x="13" fill="#e99"/><rect x="14" fill="#fbb"/><rect x="15" fill="#e88"/><rect x="16" fill="#e98"/><rect x="17" fill="#fcc"/><rect x="18" fill="#fdc"/><rect x="19" fill="#fcc"/><rect x="20" fill="#e77"/><rect x="21" fill="#e88"/><rect x="22" fill="#fff"/><rect x="23" fill="#fcc"/><rect x="24" fill="#fdc"/><rect x="25" fill="#e87"/><rect x="26" fill="#e98"/><rect x="27" fill="#e88"/><rect x="28" fill="#fdd"/><rect x="29" fill="#eef"/><rect x="30" fill="#fbb"/><rect x="31" fill="#eaa"/><rect x="32" fill="#fbb"/><rect x="33" fill="#fee"/><rect x="34" fill="#fbb"/><rect x="35" fill="#fcc"/><rect x="36" fill="#e98"/><rect x="37" fill="#ea9"/><rect x="38" fill="#e98"/><rect x="39" fill="#fff"/><rect x="40" fill="#eef"/><rect x="41" fill="#dde"/><rect x="42" fill="#fcc"/><rect x="43" fill="#e77"/><rect x="44" fill="#fba"/><rect x="45" fill="#cce"/><rect x="46" fill="#fcc"/><rect x="47" fill="#faa"/><rect x="48" fill="#e55"/><rect x="49" fill="#e88"/><rect x="50" fill="#e98"/><rect x="51" fill="#eaa"/><rect x="52" fill="#fcc"/><rect x="53" fill="#fdc"/><rect x="54" fill="#faa"/><rect x="55" fill="#fdd"/><rect x="56" fill="#e98"/><rect x="57" fill="#fbb"/><rect x="58" fill="#e99"/><rect x="59" width="2" fill="#e87"/><rect x="61" fill="#e98"/><rect x="62" fill="#e99"/><rect x="63" fill="#eef"/><rect x="64" fill="#faa"/><rect x="65" fill="#e98"/><rect x="66" fill="#fdd"/><rect x="67" fill="#e77"/><rect x="68" fill="#fbb"/><rect x="69" fill="#faa"/><rect x="70" fill="#fdd"/><rect x="71" fill="#fff"/><rect x="72" fill="#e55"/><rect x="73" fill="#fcc"/><rect x="74" fill="#e77"/><rect x="75" fill="#fbb"/><rect x="76" fill="#e98"/><rect x="77" fill="#fcc"/><rect x="78" fill="#fcb"/><rect x="79" fill="#e87"/><rect x="80" fill="#e44"/><rect x="81" fill="#fdd"/><rect x="82" fill="#fbb"/><rect x="83" fill="#e66"/><rect x="84" fill="#fcc"/><rect x="85" fill="#e87"/><rect x="86" width="2" fill="#aad"/><rect x="88" fill="#ede"/><rect x="89" fill="#eef"/><rect x="90" fill="#bbd"/><rect x="91" fill="#a9d"/><rect x="92" fill="#cbe"/><rect x="93" fill="#88c"/><rect x="94" fill="#cbe"/><rect x="95" fill="#dde"/><rect x="96" fill="#dce"/><rect x="97" fill="#bad"/><rect x="98" width="2" fill="#cce"/><rect x="100" fill="#88c"/><rect x="101" fill="#bbd"/><rect x="102" fill="#ede"/><rect x="103" fill="#aad"/><rect x="104" fill="#99c"/><rect x="105" fill="#99d"/><rect x="106" fill="#98c"/><rect x="107" fill="#bad"/><rect x="108" fill="#dce"/><rect x="109" width="2" fill="#aad"/><rect x="111" fill="#98c"/><rect x="112" fill="#cce"/><rect x="113" fill="#99d"/><rect x="114" fill="#dce"/><rect x="115" fill="#eef"/><rect x="116" fill="#bbd"/><rect x="117" fill="#99c"/><rect x="118" fill="#bad"/><rect x="119" fill="#dde"/><rect x="120" fill="#bad"/><rect x="121" fill="#bbd"/><rect x="122" fill="#a9d"/><rect x="123" fill="#dde"/><rect x="124" fill="#dce"/><rect x="125" fill="#cce"/><rect x="126" fill="#88c"/><rect x="127" fill="#aad"/><rect x="128" fill="#bbd"/><rect x="129" fill="#aad"/><rect x="130" fill="#cce"/><rect x="131" fill="#aad"/><rect x="132" fill="#a9d"/><rect x="133" fill="#88c"/><rect x="134" fill="#cbe"/><rect x="135" fill="#88c"/><rect x="136" fill="#dce"/><rect x="137" fill="#88c"/><rect x="138" fill="#dde"/><rect x="139" fill="#aad"/><rect x="140" fill="#88c"/><rect x="141" fill="#bad"/><rect x="142" fill="#cbe"/><rect x="143" fill="#aad"/><rect x="144" fill="#a9d"/><rect x="145" fill="#bad"/><rect x="146" fill="#99c"/><rect x="147" fill="#88c"/><rect x="148" fill="#cbe"/><rect x="149" fill="#bbd"/></g><g transform="translate(0,4)"><rect x="0" fill="#fcc"/><rect x="1" fill="#e98"/><rect x="2" fill="#fdc"/><rect x="3" fill="#e66"/><rect x="4" width="2" fill="#fbb"/><rect x="6" width="2" fill="#e88"/><rect x="8" fill="#fdd"/><rect x="9" fill="#fef"/><rect x="10" fill="#e88"/><rect x="11" fill="#eaa"/><rect x="12" fill="#eef"/><rect x="13" fill="#fee"/><rect x="14" fill="#fba"/><rect x="15" fill="#fcb"/><rect x="16" fill="#e88"/><rect x="17" fill="#faa"/><rect x="18" fill="#fcc"/><rect x="19" fill="#e98"/><rect x="20" width="2" fill="#fdd"/><rect x="22" fill="#fbb"/><rect x="23" fill="#ea9"/><rect x="24" fill="#e99"/><rect x="25" fill="#e77"/><rect x="26" fill="#fcc"/><rect x="27" fill="#e88"/><rect x="28" fill="#fdc"/><rect x="29" width="2" fill="#fee"/><rect x="31" fill="#e76"/><rect x="32" fill="#fbb"/><rect x="33" fill="#fdd"/><rect x="34" fill="#bbd"/><rect x="35" fill="#fed"/><rect x="36" fill="#ea9"/><rect x="37" fill="#fcb"/><rect x="38" fill="#e55"/><rect x="39" width="2" fill="#fbb"/><rect x="41" fill="#fee"/><rect x="42" fill="#eef"/><rect x="43" fill="#fcc"/><rect x="44" fill="#fdd"/><rect x="45" fill="#e65"/><rect x="46" fill="#fcc"/><rect x="47" fill="#fee"/><rect x="48" fill="#e77"/><rect x="49" fill="#fcc"/><rect x="50" fill="#fee"/><rect x="51" fill="#e88"/><rect x="52" fill="#fcb"/><rect x="53" fill="#ede"/><rect x="54" fill="#ea9"/><rect x="55" fill="#fba"/><rect x="56" fill="#fbb"/><rect x="57" fill="#e98"/><rect x="58" fill="#e99"/><rect x="59" fill="#eef"/><rect x="60" fill="#dde"/><rect x="61" fill="#cce"/><rect x="62" fill="#faa"/><rect x="63" fill="#e98"/><rect x="64" fill="#e88"/><rect x="65" fill="#e87"/><rect x="66" fill="#e76"/><rect x="67" fill="#fbb"/><rect x="68" fill="#e98"/><rect x="69" fill="#dde"/><rect x="70" width="4" fill="#fbb"/><rect x="74" fill="#fee"/><rect x="75" fill="#eaa"/><rect x="76" fill="#e87"/><rect x="77" fill="#fcc"/><rect x="78" fill="#eaa"/><rect x="79" fill="#fdd"/><rect x="80" fill="#e98"/><rect x="81" fill="#fef"/><rect x="82" fill="#fcb"/><rect x="83" fill="#eaa"/><rect x="84" fill="#fba"/><rect x="85" fill="#fcc"/><rect x="86" fill="#a9d"/><rect x="87" fill="#98c"/><rect x="88" width="2" fill="#eef"/><rect x="90" fill="#aad"/><rect x="91" fill="#cce"/><rect x="92" fill="#bbd"/><rect x="93" fill="#a9d"/><rect x="94" fill="#88c"/><rect x="95" fill="#bbd"/><rect x="96" fill="#aad"/><rect x="97" fill="#cce"/><rect x="98" fill="#bbd"/><rect x="99" fill="#cce"/><rect x="100" fill="#67c"/><rect x="101" fill="#cbe"/><rect x="102" fill="#cce"/><rect x="103" fill="#88c"/><rect x="104" fill="#a9d"/><rect x="105" fill="#99d"/><rect x="106" fill="#aad"/><rect x="107" fill="#a9d"/><rect x="108" fill="#aad"/><rect x="109" fill="#98c"/><rect x="110" fill="#eef"/><rect x="111" fill="#bbd"/><rect x="112" fill="#aad"/><rect x="113" fill="#77c"/><rect x="114" fill="#aad"/><rect x="115" fill="#cbe"/><rect x="116" fill="#aad"/><rect x="117" fill="#bad"/><rect x="118" fill="#99d"/><rect x="119" fill="#cbe"/><rect x="120" fill="#bbd"/><rect x="121" fill="#cce"/><rect x="122" fill="#aad"/><rect x="123" fill="#dce"/><rect x="124" fill="#aad"/><rect x="125" fill="#bad"/><rect x="126" fill="#bbd"/><rect x="127" fill="#99d"/><rect x="128" fill="#bad"/><rect x="129" fill="#aad"/><rect x="130" fill="#bbd"/><rect x="131" fill="#aad"/><rect x="132" fill="#98c"/><rect x="133" fill="#aad"/><rect x="134" fill="#98c"/><rect x="135" fill="#88c"/><rect x="136" width="2" fill="#bbd"/><rect x="138" fill="#cbe"/><rect x="139" fill="#98c"/><rect x="140" width="2" fill="#bad"/><rect x="142" fill="#bbd"/><rect x="143" fill="#cbe"/><rect x="144" fill="#99d"/><rect x="145" width="2" fill="#aad"/><rect x="147" fill="#bbd"/><rect x="148" width="2" fill="#a9d"/></g><g transform="translate(0,5)"><rect x="0" fill="#faa"/><rect x="1" fill="#fdd"/><rect x="2" fill="#ea9"/><rect x="3" fill="#e98"/><rect x="4" fill="#fbb"/><rect x="5" fill="#e99"/><rect x="6" fill="#fcc"/><rect x="7" fill="#e76"/><rect x="8" fill="#e77"/><rect x="9" fill="#fbb"/><rect x="10" fill="#faa"/><rect x="11" fill="#fcb"/><rect x="12" fill="#e66"/><rect x="13" fill="#e88"/><rect x="14" fill="#fbb"/><rect x="15" fill="#e77"/><rect x="16" fill="#e65"/><rect x="17" fill="#e88"/><rect x="18" fill="#fee"/><rect x="19" fill="#fbb"/><rect x="20" fill="#e88"/><rect x="21" fill="#fcc"/><rect x="22" fill="#e87"/><rect x="23" fill="#e76"/><rect x="24" fill="#e77"/><rect x="25" fill="#faa"/><rect x="26" fill="#ea9"/><rect x="27" fill="#e77"/><rect x="28" fill="#e99"/><rect x="29" fill="#e66"/><rect x="30" fill="#e88"/><rect x="31" fill="#ea9"/><rect x="32" fill="#fcc"/><rect x="33" fill="#fee"/><rect x="34" fill="#e98"/><rect x="35" fill="#e55"/><rect x="36" fill="#e77"/><rect x="37" fill="#fba"/><rect x="38" fill="#e77"/><rect x="39" fill="#eaa"/><rect x="40" fill="#fdd"/><rect x="41" fill="#faa"/><rect x="42" fill="#fcc"/><rect x="43" fill="#e55"/><rect x="44" fill="#fbb"/><rect x="45" fill="#e98"/><rect x="46" fill="#e55"/><rect x="47" fill="#e76"/><rect x="48" fill="#e55"/><rect x="49" fill="#e76"/><rect x="50" fill="#fcb"/><rect x="51" fill="#faa"/><rect x="52" fill="#eaa"/><rect x="53" fill="#fba"/><rect x="54" fill="#e44"/><rect x="55" fill="#fed"/><rect x="56" fill="#e77"/><rect x="57" fill="#fcb"/><rect x="58" fill="#e76"/><rect x="59" fill="#e87"/><rect x="60" fill="#ea9"/><rect x="61" fill="#e55"/><rect x="62" fill="#e87"/><rect x="63" fill="#e77"/><rect x="64" fill="#e88"/><rect x="65" width="2" fill="#eaa"/><rect x="67" fill="#e99"/><rect x="68" fill="#e87"/><rect x="69" fill="#ea9"/><rect x="70" fill="#e66"/><rect x="71" fill="#faa"/><rect x="72" fill="#ea9"/><rect x="73" fill="#e99"/><rect x="74" fill="#eaa"/><rect x="75" fill="#fcb"/><rect x="76" fill="#fba"/><rect x="77" fill="#e77"/><rect x="78" width="2" fill="#e98"/><rect x="80" fill="#e77"/><rect x="81" fill="#e87"/><rect x="82" fill="#e98"/><rect x="83" fill="#e66"/><rect x="84" fill="#faa"/><rect x="85" fill="#e98"/><rect x="86" fill="#bad"/><rect x="87" fill="#a9d"/><rect x="88" width="2" fill="#cce"/><rect x="90" fill="#bbd"/><rect x="91" fill="#cbe"/><rect x="92" fill="#bad"/><rect x="93" fill="#a9d"/><rect x="94" fill="#e99"/><rect x="95" fill="#fdd"/><rect x="96" fill="#fee"/><rect x="97" fill="#fcb"/><rect x="98" fill="#eef"/><rect x="99" fill="#fee"/><rect x="100" fill="#fed"/><rect x="101" fill="#dde"/><rect x="102" fill="#aad"/><rect x="103" width="2" fill="#fcc"/><rect x="105" fill="#cbe"/><rect x="106" fill="#eef"/><rect x="107" fill="#cce"/><rect x="108" fill="#99c"/><rect x="109" fill="#88c"/><rect x="110" fill="#98c"/><rect x="111" fill="#bbd"/><rect x="112" fill="#87c"/><rect x="113" fill="#a9d"/><rect x="114" fill="#bbd"/><rect x="115" fill="#dde"/><rect x="116" fill="#bbd"/><rect x="117" fill="#77c"/><rect x="118" fill="#aad"/><rect x="119" fill="#98c"/><rect x="120" fill="#dde"/><rect x="121" width="2" fill="#aad"/><rect x="123" width="2" fill="#cbe"/><rect x="125" fill="#ede"/><rect x="126" fill="#98c"/><rect x="127" fill="#aad"/><rect x="128" fill="#ede"/><rect x="129" fill="#dce"/><rect x="130" fill="#aad"/><rect x="131" fill="#bad"/><rect x="132" fill="#88c"/><rect x="133" fill="#bbe"/><rect x="134" fill="#aad"/><rect x="135" fill="#bad"/><rect x="136" fill="#eef"/><rect x="137" fill="#88c"/><rect x="138" fill="#a9d"/><rect x="139" width="2" fill="#88c"/><rect x="141" fill="#cce"/><rect x="142" fill="#cbe"/><rect x="143" fill="#eef"/><rect x="144" fill="#77c"/><rect x="145" fill="#99c"/><rect x="146" fill="#cbe"/><rect x="147" fill="#ede"/><rect x="148" fill="#dde"/><rect x="149" fill="#cbe"/></g><g transform="translate(0,6)"><rect x="0" fill="#fee"/><rect x="1" fill="#fdc"/><rect x="2" fill="#fcb"/><rect x="3" fill="#fbb"/><rect x="4" fill="#fef"/><rect x="5" fill="#fcc"/><rect x="6" fill="#e88"/><rect x="7" fill="#fff"/><rect x="8" fill="#dde"/><rect x="9" fill="#fdd"/><rect x="10" width="2" fill="#eef"/><rect x="12" fill="#e87"/><rect x="13" fill="#fdd"/><rect x="14" fill="#dce"/><rect x="15" fill="#fdc"/><rect x="16" fill="#e65"/><rect x="17" fill="#bad"/><rect x="18" fill="#bbe"/><rect x="19" fill="#dde"/><rect x="20" fill="#cce"/><rect x="21" fill="#e98"/><rect x="22" fill="#fff"/><rect x="23" fill="#dde"/><rect x="24" fill="#fee"/><rect x="25" fill="#dce"/><rect x="26" fill="#dde"/><rect x="27" fill="#eef"/><rect x="28" fill="#eaa"/><rect x="29" fill="#98c"/><rect x="30" fill="#ede"/><rect x="31" fill="#fcb"/><rect x="32" fill="#eef"/><rect x="33" fill="#ea9"/><rect x="34" width="2" fill="#eef"/><rect x="36" fill="#fcc"/><rect x="37" fill="#cbe"/><rect x="38" fill="#ea9"/><rect x="39" fill="#a9d"/><rect x="40" width="2" fill="#dde"/><rect x="42" fill="#cbe"/><rect x="43" fill="#88c"/><rect x="44" width="2" fill="#dde"/><rect x="46" fill="#fff"/><rect x="47" width="2" fill="#fee"/><rect x="49" fill="#cbe"/><rect x="50" width="2" fill="#fee"/><rect x="52" fill="#fbb"/><rect x="53" fill="#fee"/><rect x="54" fill="#fbb"/><rect x="55" fill="#e87"/><rect x="56" fill="#e76"/><rect x="57" fill="#fbb"/><rect x="58" fill="#ea9"/><rect x="59" fill="#e98"/><rect x="60" fill="#e76"/><rect x="61" fill="#fbb"/><rect x="62" fill="#e98"/><rect x="63" fill="#e87"/><rect x="64" fill="#e55"/><rect x="65" fill="#e76"/><rect x="66" fill="#fcc"/><rect x="67" fill="#e98"/><rect x="68" fill="#faa"/><rect x="69" fill="#fba"/><rect x="70" fill="#fdd"/><rect x="71" fill="#fcb"/><rect x="72" fill="#e99"/><rect x="73" fill="#e55"/><rect x="74" width="2" fill="#e87"/><rect x="76" fill="#e98"/><rect x="77" fill="#fbb"/><rect x="78" fill="#faa"/><rect x="79" width="2" fill="#e76"/><rect x="81" fill="#e66"/><rect x="82" fill="#faa"/><rect x="83" fill="#e87"/><rect x="84" fill="#fed"/><rect x="85" fill="#e88"/><rect x="86" fill="#88c"/><rect x="87" fill="#bad"/><rect x="88" width="2" fill="#bbd"/><rect x="90" fill="#88c"/><rect x="91" fill="#a9d"/><rect x="92" fill="#98c"/><rect x="93" width="2" fill="#aad"/><rect x="95" fill="#98c"/><rect x="96" fill="#88c"/><rect x="97" fill="#aad"/><rect x="98" fill="#99c"/><rect x="99" width="2" fill="#a9d"/><rect x="101" fill="#aad"/><rect x="102" fill="#bad"/><rect x="103" fill="#98c"/><rect x="104" fill="#77c"/><rect x="105" width="2" fill="#88c"/><rect x="107" fill="#bbd"/><rect x="108" fill="#cbe"/><rect x="109" fill="#77c"/><rect x="110" fill="#a9d"/><rect x="111" fill="#cbe"/><rect x="112" fill="#a9d"/><rect x="113" fill="#99d"/><rect x="114" fill="#aad"/><rect x="115" fill="#cbe"/><rect x="116" fill="#99c"/><rect x="117" fill="#88c"/><rect x="118" fill="#77c"/><rect x="119" fill="#98c"/><rect x="120" fill="#cce"/><rect x="121" width="3" fill="#bbd"/><rect x="124" fill="#88c"/><rect x="125" fill="#cce"/><rect x="126" fill="#98c"/><rect x="127" fill="#cbe"/><rect x="128" fill="#dde"/><rect x="129" fill="#cce"/><rect x="130" fill="#98c"/><rect x="131" fill="#99d"/><rect x="132" width="2" fill="#88c"/><rect x="134" fill="#a9d"/><rect x="135" fill="#aad"/><rect x="136" fill="#bbd"/><rect x="137" fill="#a9d"/><rect x="138" fill="#99d"/><rect x="139" fill="#98c"/><rect x="140" fill="#99d"/><rect x="141" fill="#cbe"/><rect x="142" fill="#cce"/><rect x="143" fill="#cbe"/><rect x="144" fill="#a9d"/><rect x="145" fill="#aad"/><rect x="146" fill="#a9d"/><rect x="147" fill="#dde"/><rect x="148" fill="#cce"/><rect x="149" fill="#87c"/></g><g transform="translate(0,7)"><rect x="0" fill="#fcb"/><rect x="1" fill="#fbb"/><rect x="2" fill="#fcc"/><rect x="3" fill="#fcb"/><rect x="4" fill="#fdd"/><rect x="5" fill="#fdc"/><rect x="6" fill="#eef"/><rect x="7" fill="#fba"/><rect x="8" fill="#fcc"/><rect x="9" fill="#fee"/><rect x="10" fill="#e87"/><rect x="11" fill="#e55"/><rect x="12" fill="#e44"/><rect x="13" fill="#e55"/><rect x="14" fill="#e65"/><rect x="15" fill="#e76"/><rect x="16" fill="#e55"/><rect x="17" fill="#fba"/><rect x="18" fill="#fed"/><rect x="19" fill="#fdc"/><rect x="20" fill="#e55"/><rect x="21" fill="#ea9"/><rect x="22" fill="#fcc"/><rect x="23" fill="#eef"/><rect x="24" fill="#fbb"/><rect x="25" fill="#e99"/><rect x="26" width="2" fill="#fcc"/><rect x="28" fill="#bbd"/><rect x="29" fill="#ea9"/><rect x="30" fill="#fff"/><rect x="31" width="2" fill="#faa"/><rect x="33" fill="#fcc"/><rect x="34" fill="#faa"/><rect x="35" fill="#fbb"/><rect x="36" fill="#e88"/><rect x="37" fill="#fcc"/><rect x="38" fill="#fdd"/><rect x="39" fill="#faa"/><rect x="40" fill="#eaa"/><rect x="41" fill="#fdd"/><rect x="42" fill="#ea9"/><rect x="43" fill="#fdd"/><rect x="44" fill="#eef"/><rect x="45" fill="#eaa"/><rect x="46" fill="#fee"/><rect x="47" fill="#ea9"/><rect x="48" fill="#e99"/><rect x="49" fill="#faa"/><rect x="50" fill="#ea9"/><rect x="51" fill="#e98"/><rect x="52" fill="#ea9"/><rect x="53" fill="#fbb"/><rect x="54" fill="#eaa"/><rect x="55" fill="#e99"/><rect x="56" fill="#fbb"/><rect x="57" fill="#e98"/><rect x="58" fill="#e88"/><rect x="59" fill="#fdd"/><rect x="60" fill="#ea9"/><rect x="61" fill="#fcc"/><rect x="62" fill="#fba"/><rect x="63" fill="#fcb"/><rect x="64" fill="#fcc"/><rect x="65" fill="#fdd"/><rect x="66" fill="#fcb"/><rect x="67" fill="#fbb"/><rect x="68" width="2" fill="#fba"/><rect x="70" fill="#dde"/><rect x="71" fill="#e98"/><rect x="72" fill="#fbb"/><rect x="73" fill="#fcc"/><rect x="74" fill="#fbb"/><rect x="75" fill="#e99"/><rect x="76" fill="#e98"/><rect x="77" fill="#fcc"/><rect x="78" fill="#fbb"/><rect x="79" fill="#fff"/><rect x="80" fill="#e99"/><rect x="81" fill="#fcc"/><rect x="82" fill="#fed"/><rect x="83" width="2" fill="#e87"/><rect x="85" fill="#e88"/><rect x="86" fill="#a9d"/><rect x="87" fill="#bad"/><rect x="88" fill="#cbe"/><rect x="89" fill="#bbd"/><rect x="90" fill="#99c"/><rect x="91" fill="#bbd"/><rect x="92" fill="#bad"/><rect x="93" fill="#99c"/><rect x="94" fill="#99d"/><rect x="95" fill="#a9d"/><rect x="96" fill="#aad"/><rect x="97" fill="#cbe"/><rect x="98" fill="#99c"/><rect x="99" fill="#bad"/><rect x="100" fill="#98c"/><rect x="101" fill="#a9d"/><rect x="102" fill="#bad"/><rect x="103" fill="#87c"/><rect x="104" fill="#98c"/><rect x="105" width="2" fill="#a9d"/><rect x="107" fill="#cce"/><rect x="108" fill="#aad"/><rect x="109" fill="#a9d"/><rect x="110" fill="#aad"/><rect x="111" fill="#a9d"/><rect x="112" fill="#99d"/><rect x="113" fill="#98c"/><rect x="114" fill="#bad"/><rect x="115" fill="#cce"/><rect x="116" fill="#dce"/><rect x="117" fill="#99c"/><rect x="118" fill="#77c"/><rect x="119" fill="#99c"/><rect x="120" fill="#dde"/><rect x="121" fill="#aad"/><rect x="122" fill="#88c"/><rect x="123" fill="#98c"/><rect x="124" fill="#aad"/><rect x="125" fill="#dde"/><rect x="126" fill="#87c"/><rect x="127" fill="#77c"/><rect x="128" fill="#bbd"/><rect x="129" width="2" fill="#aad"/><rect x="131" fill="#a9d"/><rect x="132" fill="#77c"/><rect x="133" fill="#a9d"/><rect x="134" fill="#aad"/><rect x="135" width="2" fill="#a9d"/><rect x="137" fill="#bad"/><rect x="138" fill="#aad"/><rect x="139" fill="#bad"/><rect x="140" fill="#88c"/><rect x="141" fill="#bad"/><rect x="142" fill="#bbd"/><rect x="143" fill="#cce"/><rect x="144" fill="#99d"/><rect x="145" fill="#aad"/><rect x="146" fill="#88c"/><rect x="147" width="2" fill="#cce"/><rect x="149" fill="#bbd"/></g><g transform="translate(0,8)"><rect x="0" fill="#98c"/><rect x="1" fill="#99d"/><rect x="2" fill="#bbd"/><rect x="3" fill="#a9d"/><rect x="4" fill="#88c"/><rect x="5" fill="#bad"/><rect x="6" width="2" fill="#cbe"/><rect x="8" fill="#aad"/><rect x="9" fill="#99d"/><rect x="10" width="2" fill="#fee"/><rect x="12" fill="#fcc"/><rect x="13" fill="#faa"/><rect x="14" fill="#fbb"/><rect x="15" fill="#fdd"/><rect x="16" fill="#e87"/><rect x="17" fill="#eef"/><rect x="18" fill="#fee"/><rect x="19" fill="#fba"/><rect x="20" fill="#fcc"/><rect x="21" fill="#faa"/><rect x="22" fill="#cce"/><rect x="23" fill="#dde"/><rect x="24" fill="#fff"/><rect x="25" fill="#ea9"/><rect x="26" fill="#e88"/><rect x="27" fill="#fee"/><rect x="28" fill="#dce"/><rect x="29" fill="#fee"/><rect x="30" fill="#dde"/><rect x="31" fill="#fcc"/><rect x="32" fill="#eef"/><rect x="33" fill="#e98"/><rect x="34" fill="#fcc"/><rect x="35" fill="#fee"/><rect x="36" fill="#e98"/><rect x="37" fill="#fdd"/><rect x="38" fill="#eaa"/><rect x="39" fill="#fcc"/><rect x="40" fill="#fee"/><rect x="41" fill="#eaa"/><rect x="42" fill="#fcb"/><rect x="43" fill="#fdc"/><rect x="44" fill="#fcc"/><rect x="45" fill="#fdc"/><rect x="46" fill="#fdd"/><rect x="47" fill="#eef"/><rect x="48" fill="#e88"/><rect x="49" width="2" fill="#fed"/><rect x="51" fill="#fcc"/><rect x="52" fill="#eef"/><rect x="53" fill="#fed"/><rect x="54" fill="#fff"/><rect x="55" fill="#fee"/><rect x="56" fill="#e77"/><rect x="57" fill="#e66"/><rect x="58" fill="#e44"/><rect x="59" fill="#e65"/><rect x="60" fill="#e76"/><rect x="61" fill="#e33"/><rect x="62" fill="#e65"/><rect x="63" fill="#e33"/><rect x="64" fill="#e66"/><rect x="65" fill="#e77"/><rect x="66" fill="#e33"/><rect x="67" fill="#e65"/><rect x="68" width="2" fill="#e44"/><rect x="70" fill="#e77"/><rect x="71" fill="#e55"/><rect x="72" fill="#e66"/><rect x="73" fill="#e44"/><rect x="74" fill="#e55"/><rect x="75" fill="#e76"/><rect x="76" fill="#e55"/><rect x="77" fill="#e44"/><rect x="78" fill="#e65"/><rect x="79" fill="#e44"/><rect x="80" fill="#e65"/><rect x="81" width="2" fill="#e55"/><rect x="83" fill="#e54"/><rect x="84" fill="#e33"/><rect x="85" fill="#e44"/><rect x="86" fill="#cbe"/><rect x="87" fill="#a9d"/><rect x="88" fill="#cce"/><rect x="89" fill="#a9d"/><rect x="90" fill="#bbd"/><rect x="91" fill="#dce"/><rect x="92" fill="#aad"/><rect x="93" fill="#98c"/><rect x="94" fill="#a9d"/><rect x="95" fill="#cbe"/><rect x="96" fill="#bbd"/><rect x="97" fill="#99c"/><rect x="98" fill="#a9d"/><rect x="99" fill="#aad"/><rect x="100" fill="#98c"/><rect x="101" fill="#99d"/><rect x="102" fill="#a9d"/><rect x="103" fill="#bbd"/><rect x="104" fill="#99d"/><rect x="105" fill="#77c"/><rect x="106" fill="#98c"/><rect x="107" fill="#a9d"/><rect x="108" fill="#bad"/><rect x="109" fill="#77c"/><rect x="110" fill="#bad"/><rect x="111" fill="#88c"/><rect x="112" fill="#bad"/><rect x="113" fill="#88c"/><rect x="114" fill="#aad"/><rect x="115" fill="#bbd"/><rect x="116" fill="#bad"/><rect x="117" fill="#99c"/><rect x="118" fill="#77c"/><rect x="119" fill="#88c"/><rect x="120" fill="#dce"/><rect x="121" fill="#aad"/><rect x="122" fill="#99d"/><rect x="123" fill="#a9d"/><rect x="124" fill="#98c"/><rect x="125" fill="#bad"/><rect x="126" fill="#dce"/><rect x="127" fill="#88c"/><rect x="128" fill="#cce"/><rect x="129" fill="#cbe"/><rect x="130" fill="#bad"/><rect x="131" fill="#aad"/><rect x="132" fill="#87c"/><rect x="133" fill="#bbd"/><rect x="134" fill="#a9d"/><rect x="135" fill="#99d"/><rect x="136" fill="#aad"/><rect x="137" fill="#a9d"/><rect x="138" fill="#99c"/><rect x="139" fill="#99d"/><rect x="140" fill="#98c"/><rect x="141" width="2" fill="#bad"/><rect x="143" fill="#88c"/><rect x="144" fill="#99c"/><rect x="145" fill="#bad"/><rect x="146" fill="#77c"/><rect x="147" fill="#a9d"/><rect x="148" fill="#cce"/><rect x="149" fill="#99d"/></g><g transform="translate(0,9)"><rect x="0" width="2" fill="#56b"/><rect x="2" fill="#77c"/><rect x="3" fill="#56b"/><rect x="4" fill="#67c"/><rect x="5" width="2" fill="#77c"/><rect x="7" fill="#66b"/><rect x="8" fill="#56b"/><rect x="9" fill="#66b"/><rect x="10" fill="#67c"/><rect x="11" fill="#77c"/><rect x="12" fill="#66b"/><rect x="13" fill="#67c"/><rect x="14" width="2" fill="#56b"/><rect x="16" fill="#77c"/><rect x="17" fill="#e33"/><rect x="18" fill="#e66"/><rect x="19" width="2" fill="#e54"/><rect x="21" fill="#e55"/><rect x="22" fill="#e44"/><rect x="23" fill="#e66"/><rect x="24" fill="#e44"/><rect x="25" fill="#e54"/><rect x="26" fill="#fcb"/><rect x="27" width="2" fill="#e54"/><rect x="29" fill="#e22"/><rect x="30" fill="#e77"/><rect x="31" width="2" fill="#e55"/><rect x="33" fill="#e77"/><rect x="34" fill="#e33"/><rect x="35" fill="#e44"/><rect x="36" fill="#e65"/><rect x="37" fill="#e77"/><rect x="38" fill="#e65"/><rect x="39" width="2" fill="#e22"/><rect x="41" fill="#ea9"/><rect x="42" fill="#e88"/><rect x="43" fill="#e44"/><rect x="44" fill="#e55"/><rect x="45" fill="#e76"/><rect x="46" fill="#e44"/><rect x="47" fill="#e55"/><rect x="48" fill="#e44"/><rect x="49" fill="#e55"/><rect x="50" fill="#e77"/><rect x="51" fill="#e33"/><rect x="52" fill="#99c"/><rect x="53" fill="#bbd"/><rect x="54" fill="#cbe"/><rect x="55" fill="#99d"/><rect x="56" fill="#bad"/><rect x="57" fill="#a9d"/><rect x="58" fill="#66b"/><rect x="59" fill="#88c"/><rect x="60" fill="#bbd"/><rect x="61" fill="#67c"/><rect x="62" fill="#87c"/><rect x="63" fill="#bbd"/><rect x="64" fill="#cbe"/><rect x="65" fill="#77c"/><rect x="66" fill="#bad"/><rect x="67" fill="#99d"/><rect x="68" fill="#cbe"/><rect x="69" width="2" fill="#88c"/><rect x="71" fill="#77c"/><rect x="72" width="2" fill="#aad"/><rect x="74" fill="#98c"/><rect x="75" fill="#a9d"/><rect x="76" fill="#88c"/><rect x="77" fill="#bbd"/><rect x="78" width="2" fill="#77c"/><rect x="80" fill="#98c"/><rect x="81" fill="#bbd"/><rect x="82" fill="#87c"/><rect x="83" fill="#dce"/><rect x="84" fill="#bbd"/><rect x="85" fill="#99c"/><rect x="86" fill="#67c"/><rect x="87" width="2" fill="#66b"/><rect x="89" width="2" fill="#56b"/><rect x="91" fill="#45b"/><rect x="92" width="2" fill="#56b"/><rect x="94" width="2" fill="#66b"/><rect x="96" fill="#56b"/><rect x="97" fill="#67c"/><rect x="98" fill="#77c"/><rect x="99" fill="#66b"/><rect x="100" fill="#45b"/><rect x="101" fill="#66b"/><rect x="102" fill="#45b"/><rect x="103" width="2" fill="#56b"/><rect x="105" fill="#77c"/><rect x="106" fill="#56b"/><rect x="107" fill="#77c"/><rect x="108" fill="#88c"/><rect x="109" fill="#77c"/><rect x="110" fill="#45b"/><rect x="111" fill="#77c"/><rect x="112" width="2" fill="#66b"/><rect x="114" width="3" fill="#56b"/><rect x="117" fill="#77c"/><rect x="118" fill="#66c"/><rect x="119" fill="#56b"/><rect x="120" width="2" fill="#67c"/><rect x="122" width="2" fill="#66b"/><rect x="124" width="4" fill="#56b"/><rect x="128" width="2" fill="#45b"/><rect x="130" fill="#67c"/><rect x="131" width="2" fill="#45b"/><rect x="133" fill="#56b"/><rect x="134" width="2" fill="#77c"/><rect x="136" fill="#56b"/><rect x="137" fill="#45b"/><rect x="138" fill="#56b"/><rect x="139" fill="#45b"/><rect x="140" fill="#56b"/><rect x="141" fill="#66b"/><rect x="142" fill="#45b"/><rect x="143" width="3" fill="#56b"/><rect x="146" fill="#45b"/><rect x="147" width="3" fill="#56b"/></g><g transform="translate(0,10)"><rect x="0" fill="#56b"/><rect x="1" width="2" fill="#45b"/><rect x="3" fill="#56b"/><rect x="4" width="5" fill="#45b"/><rect x="9" fill="#56b"/><rect x="10" width="2" fill="#eef"/><rect x="12" fill="#cbe"/><rect x="13" width="2" fill="#cce"/><rect x="15" fill="#a9d"/><rect x="16" fill="#fee"/><rect x="17" fill="#e87"/><rect x="18" fill="#e66"/><rect x="19" fill="#e99"/><rect x="20" fill="#e55"/><rect x="21" fill="#e66"/><rect x="22" fill="#e54"/><rect x="23" fill="#e88"/><rect x="24" fill="#e66"/><rect x="25" fill="#e22"/><rect x="26" fill="#e77"/><rect x="27" fill="#e55"/><rect x="28" fill="#e77"/><rect x="29" fill="#e66"/><rect x="30" fill="#e87"/><rect x="31" fill="#e44"/><rect x="32" width="2" fill="#e55"/><rect x="34" fill="#e66"/><rect x="35" fill="#e87"/><rect x="36" width="2" fill="#e33"/><rect x="38" fill="#e43"/><rect x="39" fill="#eaa"/><rect x="40" fill="#fba"/><rect x="41" fill="#e76"/><rect x="42" fill="#e66"/><rect x="43" width="2" fill="#e76"/><rect x="45" fill="#e66"/><rect x="46" fill="#e44"/><rect x="47" fill="#e66"/><rect x="48" fill="#e22"/><rect x="49" fill="#e99"/><rect x="50" fill="#e54"/><rect x="51" fill="#e55"/><rect x="52" fill="#88c"/><rect x="53" fill="#cce"/><rect x="54" fill="#87c"/><rect x="55" fill="#77c"/><rect x="56" fill="#fcb"/><rect x="57" fill="#ede"/><rect x="58" fill="#bbd"/><rect x="59" fill="#dce"/><rect x="60" fill="#dde"/><rect x="61" fill="#88c"/><rect x="62" fill="#dce"/><rect x="63" fill="#dde"/><rect x="64" fill="#aad"/><rect x="65" fill="#bad"/><rect x="66" fill="#99d"/><rect x="67" fill="#cce"/><rect x="68" fill="#99c"/><rect x="69" fill="#88c"/><rect x="70" fill="#77c"/><rect x="71" fill="#88c"/><rect x="72" fill="#bbd"/><rect x="73" fill="#dce"/><rect x="74" fill="#aad"/><rect x="75" fill="#98c"/><rect x="76" width="2" fill="#cbe"/><rect x="78" fill="#dde"/><rect x="79" fill="#a9d"/><rect x="80" width="2" fill="#bbd"/><rect x="82" fill="#dde"/><rect x="83" fill="#cce"/><rect x="84" fill="#aad"/><rect x="85" fill="#99c"/><rect x="86" fill="#87c"/><rect x="87" fill="#88c"/><rect x="88" width="2" fill="#bbd"/><rect x="90" fill="#56b"/><rect x="91" fill="#a9d"/><rect x="92" fill="#66b"/><rect x="93" fill="#88c"/><rect x="94" fill="#45b"/><rect x="95" fill="#87c"/><rect x="96" fill="#77c"/><rect x="97" fill="#aad"/><rect x="98" fill="#88c"/><rect x="99" fill="#bbd"/><rect x="100" fill="#66b"/><rect x="101" fill="#cbe"/><rect x="102" fill="#87c"/><rect x="103" fill="#bad"/><rect x="104" width="2" fill="#56b"/><rect x="106" fill="#99d"/><rect x="107" fill="#77c"/><rect x="108" fill="#98c"/><rect x="109" fill="#45b"/><rect x="110" fill="#77c"/><rect x="111" fill="#88c"/><rect x="112" width="2" fill="#67c"/><rect x="114" fill="#45b"/><rect x="115" fill="#bbd"/><rect x="116" fill="#87c"/><rect x="117" fill="#99d"/><rect x="118" width="2" fill="#77c"/><rect x="120" width="3" fill="#98c"/><rect x="123" fill="#88c"/><rect x="124" fill="#66b"/><rect x="125" fill="#aad"/><rect x="126" fill="#88c"/><rect x="127" fill="#45b"/><rect x="128" fill="#67c"/><rect x="129" fill="#87c"/><rect x="130" fill="#bbd"/><rect x="131" fill="#aad"/><rect x="132" fill="#77c"/><rect x="133" fill="#88c"/><rect x="134" fill="#56b"/><rect x="135" fill="#99c"/><rect x="136" fill="#77c"/><rect x="137" fill="#66b"/><rect x="138" fill="#cbe"/><rect x="139" fill="#56b"/><rect x="140" fill="#a9d"/><rect x="141" fill="#88c"/><rect x="142" fill="#67c"/><rect x="143" fill="#98c"/><rect x="144" fill="#66b"/><rect x="145" fill="#87c"/><rect x="146" fill="#56b"/><rect x="147" fill="#77c"/><rect x="148" fill="#eef"/><rect x="149" fill="#67c"/></g><g transform="translate(0,11)"><rect x="0" fill="#e88"/><rect x="1" fill="#e98"/><rect x="2" fill="#e77"/><rect x="3" width="2" fill="#fcc"/><rect x="5" fill="#eef"/><rect x="6" width="2" fill="#e77"/><rect x="8" fill="#fcc"/><rect x="9" fill="#e98"/><rect x="10" fill="#dce"/><rect x="11" fill="#fdd"/><rect x="12" width="2" fill="#dde"/><rect x="14" width="2" fill="#cce"/><rect x="16" fill="#dde"/><rect x="17" fill="#aad"/><rect x="18" fill="#cbe"/><rect x="19" fill="#cce"/><rect x="20" fill="#99d"/><rect x="21" fill="#a9d"/><rect x="22" fill="#bad"/><rect x="23" fill="#eef"/><rect x="24" fill="#bbd"/><rect x="25" fill="#99d"/><rect x="26" fill="#dde"/><rect x="27" width="3" fill="#cce"/><rect x="30" fill="#dce"/><rect x="31" fill="#a9d"/><rect x="32" width="2" fill="#bbd"/><rect x="34" fill="#98c"/><rect x="35" fill="#bad"/><rect x="36" fill="#fdd"/><rect x="37" fill="#dce"/><rect x="38" fill="#bbd"/><rect x="39" fill="#cbe"/><rect x="40" fill="#cce"/><rect x="41" fill="#dde"/><rect x="42" fill="#cbe"/><rect x="43" fill="#cce"/><rect x="44" width="2" fill="#aad"/><rect x="46" fill="#cbe"/><rect x="47" fill="#99d"/><rect x="48" fill="#cce"/><rect x="49" fill="#bad"/><rect x="50" fill="#cce"/><rect x="51" fill="#dce"/><rect x="52" fill="#bad"/><rect x="53" fill="#aad"/><rect x="54" fill="#e87"/><rect x="55" fill="#ea9"/><rect x="56" fill="#e77"/><rect x="57" fill="#e98"/><rect x="58" fill="#e77"/><rect x="59" fill="#faa"/><rect x="60" fill="#eaa"/><rect x="61" fill="#e77"/><rect x="62" fill="#e55"/><rect x="63" fill="#fdd"/><rect x="64" fill="#e98"/><rect x="65" fill="#e88"/><rect x="66" fill="#e77"/><rect x="67" fill="#e66"/><rect x="68" fill="#e98"/><rect x="69" fill="#fcc"/><rect x="70" fill="#e98"/><rect x="71" width="2" fill="#e87"/><rect x="73" fill="#e77"/><rect x="74" fill="#e99"/><rect x="75" fill="#e44"/><rect x="76" fill="#faa"/><rect x="77" fill="#fba"/><rect x="78" fill="#e77"/><rect x="79" fill="#e87"/><rect x="80" fill="#e66"/><rect x="81" fill="#e98"/><rect x="82" fill="#e77"/><rect x="83" fill="#e55"/><rect x="84" fill="#ea9"/><rect x="85" fill="#e66"/><rect x="86" fill="#99d"/><rect x="87" fill="#77c"/><rect x="88" fill="#eef"/><rect x="89" fill="#bbd"/><rect x="90" fill="#87c"/><rect x="91" fill="#bad"/><rect x="92" fill="#99d"/><rect x="93" width="2" fill="#aad"/><rect x="95" fill="#a9d"/><rect x="96" fill="#aad"/><rect x="97" fill="#cbe"/><rect x="98" fill="#99c"/><rect x="99" fill="#cbe"/><rect x="100" fill="#88c"/><rect x="101" fill="#cbe"/><rect x="102" fill="#ede"/><rect x="103" fill="#bad"/><rect x="104" width="2" fill="#aad"/><rect x="106" fill="#99c"/><rect x="107" fill="#aad"/><rect x="108" fill="#cbe"/><rect x="109" fill="#a9d"/><rect x="110" fill="#99d"/><rect x="111" fill="#cbe"/><rect x="112" fill="#99c"/><rect x="113" fill="#88c"/><rect x="114" fill="#bbd"/><rect x="115" fill="#bad"/><rect x="116" fill="#cce"/><rect x="117" fill="#99d"/><rect x="118" width="2" fill="#aad"/><rect x="120" fill="#a9d"/><rect x="121" fill="#98c"/><rect x="122" fill="#99c"/><rect x="123" fill="#dde"/><rect x="124" fill="#99d"/><rect x="125" fill="#dce"/><rect x="126" fill="#88c"/><rect x="127" fill="#98c"/><rect x="128" fill="#aad"/><rect x="129" fill="#dde"/><rect x="130" fill="#98c"/><rect x="131" fill="#aad"/><rect x="132" fill="#99c"/><rect x="133" width="2" fill="#a9d"/><rect x="135" fill="#bad"/><rect x="136" fill="#bbd"/><rect x="137" fill="#98c"/><rect x="138" fill="#cbe"/><rect x="139" width="2" fill="#99d"/><rect x="141" fill="#cce"/><rect x="142" fill="#eef"/><rect x="143" fill="#dde"/><rect x="144" fill="#aad"/><rect x="145" fill="#99c"/><rect x="146" fill="#88c"/><rect x="147" fill="#eef"/><rect x="148" fill="#cce"/><rect x="149" fill="#88c"/></g><g transform="translate(0,12)"><rect x="0" fill="#77c"/><rect x="1" fill="#67c"/><rect x="2" fill="#77c"/><rect x="3" fill="#66b"/><rect x="4" fill="#45b"/><rect x="5" fill="#56b"/><rect x="6" width="2" fill="#66b"/><rect x="8" fill="#77c"/><rect x="9" fill="#56b"/><rect x="10" width="2" fill="#e55"/><rect x="12" fill="#e44"/><rect x="13" fill="#e66"/><rect x="14" fill="#e87"/><rect x="15" fill="#ea9"/><rect x="16" fill="#e33"/><rect x="17" width="2" fill="#e66"/><rect x="19" fill="#e88"/><rect x="20" fill="#e65"/><rect x="21" width="2" fill="#e77"/><rect x="23" fill="#e55"/><rect x="24" fill="#e54"/><rect x="25" fill="#e44"/><rect x="26" fill="#e55"/><rect x="27" fill="#e66"/><rect x="28" fill="#e55"/><rect x="29" fill="#e33"/><rect x="30" fill="#e87"/><rect x="31" fill="#e77"/><rect x="32" fill="#e66"/><rect x="33" fill="#e55"/><rect x="34" fill="#e87"/><rect x="35" fill="#e22"/><rect x="36" fill="#e65"/><rect x="37" fill="#e77"/><rect x="38" fill="#e54"/><rect x="39" fill="#e55"/><rect x="40" fill="#e98"/><rect x="41" fill="#e65"/><rect x="42" fill="#e44"/><rect x="43" fill="#e33"/><rect x="44" fill="#e66"/><rect x="45" fill="#e76"/><rect x="46" width="2" fill="#e66"/><rect x="48" fill="#e65"/><rect x="49" fill="#e99"/><rect x="50" fill="#e77"/><rect x="51" fill="#e65"/><rect x="52" fill="#77c"/><rect x="53" fill="#99c"/><rect x="54" fill="#bad"/><rect x="55" fill="#99d"/><rect x="56" width="2" fill="#aad"/><rect x="58" width="2" fill="#88c"/><rect x="60" fill="#99d"/><rect x="61" fill="#a9d"/><rect x="62" fill="#88c"/><rect x="63" width="2" fill="#77c"/><rect x="65" fill="#a9d"/><rect x="66" fill="#98c"/><rect x="67" width="3" fill="#77c"/><rect x="70" fill="#88c"/><rect x="71" fill="#77c"/><rect x="72" width="2" fill="#88c"/><rect x="74" fill="#98c"/><rect x="75" fill="#bbd"/><rect x="76" fill="#87c"/><rect x="77" fill="#88c"/><rect x="78" fill="#bad"/><rect x="79" fill="#a9d"/><rect x="80" fill="#88c"/><rect x="81" fill="#99d"/><rect x="82" fill="#66b"/><rect x="83" fill="#bad"/><rect x="84" fill="#56b"/><rect x="85" width="2" fill="#77c"/><rect x="87" fill="#45b"/><rect x="88" fill="#56b"/><rect x="89" fill="#66b"/><rect x="90" width="3" fill="#56b"/><rect x="93" width="2" fill="#77c"/><rect x="95" fill="#66b"/><rect x="96" fill="#45b"/><rect x="97" width="2" fill="#56b"/><rect x="99" fill="#67c"/><rect x="100" fill="#77c"/><rect x="101" fill="#56b"/><rect x="102" fill="#66b"/><rect x="103" width="2" fill="#56b"/><rect x="105" fill="#45b"/><rect x="106" fill="#66b"/><rect x="107" fill="#77c"/><rect x="108" width="3" fill="#56b"/><rect x="111" fill="#45b"/><rect x="112" fill="#77c"/><rect x="113" fill="#45b"/><rect x="114" width="2" fill="#56b"/><rect x="116" fill="#77c"/><rect x="117" width="2" fill="#56b"/><rect x="119" fill="#77c"/><rect x="120" fill="#66b"/><rect x="121" width="2" fill="#56b"/><rect x="123" fill="#66b"/><rect x="124" fill="#56b"/><rect x="125" fill="#66b"/><rect x="126" fill="#56b"/><rect x="127" fill="#66b"/><rect x="128" fill="#67c"/><rect x="129" fill="#77c"/><rect x="130" fill="#56b"/><rect x="131" fill="#67c"/><rect x="132" fill="#56b"/><rect x="133" fill="#67c"/><rect x="134" fill="#66b"/><rect x="135" fill="#56b"/><rect x="136" fill="#77c"/><rect x="137" fill="#45b"/><rect x="138" width="3" fill="#56b"/><rect x="141" width="3" fill="#45b"/><rect x="144" fill="#56b"/><rect x="145" fill="#55b"/><rect x="146" width="2" fill="#77c"/><rect x="148" fill="#56b"/><rect x="149" fill="#77c"/></g><g transform="translate(0,13)"><rect x="0" fill="#fdd"/><rect x="1" fill="#e98"/><rect x="2" fill="#fdd"/><rect x="3" fill="#ea9"/><rect x="4" fill="#fba"/><rect x="5" width="2" fill="#fdd"/><rect x="7" fill="#fbb"/><rect x="8" fill="#fdc"/><rect x="9" fill="#e87"/><rect x="10" fill="#e77"/><rect x="11" fill="#e87"/><rect x="12" fill="#faa"/><rect x="13" width="2" fill="#fbb"/><rect x="15" fill="#fdd"/><rect x="16" fill="#ea9"/><rect x="17" fill="#cbe"/><rect x="18" fill="#dce"/><rect x="19" fill="#bad"/><rect x="20" fill="#dce"/><rect x="21" width="3" fill="#cbe"/><rect x="24" fill="#eef"/><rect x="25" fill="#dde"/><rect x="26" fill="#fee"/><rect x="27" width="2" fill="#cce"/><rect x="29" fill="#bad"/><rect x="30" fill="#aad"/><rect x="31" fill="#cbe"/><rect x="32" fill="#a9d"/><rect x="33" fill="#cce"/><rect x="34" fill="#aad"/><rect x="35" fill="#cce"/><rect x="36" fill="#eef"/><rect x="37" width="2" fill="#cce"/><rect x="39" fill="#99d"/><rect x="40" fill="#bbd"/><rect x="41" fill="#dce"/><rect x="42" fill="#aad"/><rect x="43" fill="#dce"/><rect x="44" fill="#eef"/><rect x="45" fill="#bad"/><rect x="46" fill="#dde"/><rect x="47" fill="#cce"/><rect x="48" fill="#dce"/><rect x="49" fill="#ede"/><rect x="50" fill="#fdc"/><rect x="51" fill="#bad"/><rect x="52" fill="#fdd"/><rect x="53" fill="#aad"/><rect x="54" fill="#e66"/><rect x="55" fill="#fdd"/><rect x="56" fill="#e66"/><rect x="57" fill="#e98"/><rect x="58" fill="#fcb"/><rect x="59" fill="#fcc"/><rect x="60" fill="#faa"/><rect x="61" fill="#fba"/><rect x="62" fill="#e77"/><rect x="63" fill="#faa"/><rect x="64" fill="#fdd"/><rect x="65" fill="#e99"/><rect x="66" fill="#e88"/><rect x="67" fill="#e98"/><rect x="68" fill="#e76"/><rect x="69" fill="#fed"/><rect x="70" fill="#eaa"/><rect x="71" fill="#ea9"/><rect x="72" fill="#e87"/><rect x="73" fill="#eaa"/><rect x="74" fill="#fba"/><rect x="75" fill="#e98"/><rect x="76" fill="#e88"/><rect x="77" fill="#fcc"/><rect x="78" width="2" fill="#e98"/><rect x="80" fill="#e76"/><rect x="81" fill="#fff"/><rect x="82" fill="#e99"/><rect x="83" fill="#e98"/><rect x="84" fill="#eaa"/><rect x="85" fill="#e77"/><rect x="86" fill="#edf"/><rect x="87" fill="#a9d"/><rect x="88" fill="#dce"/><rect x="89" fill="#eef"/><rect x="90" fill="#a9d"/><rect x="91" fill="#bbd"/><rect x="92" fill="#aad"/><rect x="93" fill="#98c"/><rect x="94" fill="#bad"/><rect x="95" fill="#ede"/><rect x="96" width="2" fill="#cce"/><rect x="98" fill="#bad"/><rect x="99" fill="#dde"/><rect x="100" width="2" fill="#aad"/><rect x="102" fill="#cbe"/><rect x="103" fill="#cce"/><rect x="104" fill="#98c"/><rect x="105" fill="#bbe"/><rect x="106" fill="#bad"/><rect x="107" fill="#eef"/><rect x="108" fill="#dce"/><rect x="109" fill="#bad"/><rect x="110" fill="#aad"/><rect x="111" fill="#cce"/><rect x="112" fill="#aad"/><rect x="113" fill="#77c"/><rect x="114" fill="#cbe"/><rect x="115" fill="#bbd"/><rect x="116" fill="#ede"/><rect x="117" fill="#bad"/><rect x="118" fill="#aad"/><rect x="119" fill="#cbe"/><rect x="120" fill="#a9d"/><rect x="121" fill="#dde"/><rect x="122" fill="#a9d"/><rect x="123" fill="#dde"/><rect x="124" fill="#eef"/><rect x="125" fill="#aad"/><rect x="126" fill="#a9d"/><rect x="127" fill="#bad"/><rect x="128" fill="#cce"/><rect x="129" fill="#a9d"/><rect x="130" fill="#aad"/><rect x="131" fill="#dde"/><rect x="132" fill="#88c"/><rect x="133" fill="#bad"/><rect x="134" fill="#88c"/><rect x="135" fill="#99c"/><rect x="136" fill="#98c"/><rect x="137" fill="#bad"/><rect x="138" fill="#dde"/><rect x="139" fill="#bad"/><rect x="140" fill="#aad"/><rect x="141" fill="#bbd"/><rect x="142" fill="#cbe"/><rect x="143" width="2" fill="#bbd"/><rect x="145" fill="#dde"/><rect x="146" fill="#cce"/><rect x="147" fill="#bbe"/><rect x="148" fill="#aad"/><rect x="149" fill="#dde"/></g><g transform="translate(0,14)"><rect x="0" fill="#dde"/><rect x="1" fill="#fee"/><rect x="2" fill="#eef"/><rect x="3" fill="#bbd"/><rect x="4" fill="#dde"/><rect x="5" fill="#fef"/><rect x="6" fill="#fee"/><rect x="7" fill="#bad"/><rect x="8" fill="#dde"/><rect x="9" fill="#aad"/><rect x="10" fill="#cce"/><rect x="11" fill="#dde"/><rect x="12" fill="#dce"/><rect x="13" fill="#faa"/><rect x="14" fill="#dde"/><rect x="15" fill="#cce"/><rect x="16" fill="#eef"/><rect x="17" fill="#e76"/><rect x="18" fill="#e88"/><rect x="19" fill="#e77"/><rect x="20" width="2" fill="#e55"/><rect x="22" fill="#ea9"/><rect x="23" fill="#e87"/><rect x="24" fill="#e76"/><rect x="25" fill="#e98"/><rect x="26" fill="#e55"/><rect x="27" fill="#e77"/><rect x="28" fill="#e98"/><rect x="29" fill="#e65"/><rect x="30" fill="#ea9"/><rect x="31" fill="#e44"/><rect x="32" fill="#e66"/><rect x="33" fill="#e87"/><rect x="34" fill="#e76"/><rect x="35" width="2" fill="#e55"/><rect x="37" fill="#e87"/><rect x="38" fill="#e55"/><rect x="39" fill="#fee"/><rect x="40" fill="#ea9"/><rect x="41" width="2" fill="#e66"/><rect x="43" fill="#e88"/><rect x="44" fill="#e55"/><rect x="45" fill="#e44"/><rect x="46" fill="#e66"/><rect x="47" fill="#e87"/><rect x="48" fill="#e55"/><rect x="49" fill="#e99"/><rect x="50" fill="#e55"/><rect x="51" fill="#e76"/><rect x="52" width="2" fill="#e55"/><rect x="54" fill="#e66"/><rect x="55" fill="#aad"/><rect x="56" fill="#cce"/><rect x="57" fill="#eef"/><rect x="58" fill="#87c"/><rect x="59" width="2" fill="#a9d"/><rect x="61" fill="#bad"/><rect x="62" fill="#dde"/><rect x="63" fill="#aad"/><rect x="64" fill="#cce"/><rect x="65" fill="#bbd"/><rect x="66" width="2" fill="#99c"/><rect x="68" fill="#88c"/><rect x="69" fill="#aad"/><rect x="70" fill="#98c"/><rect x="71" fill="#bbe"/><rect x="72" fill="#dce"/><rect x="73" fill="#aad"/><rect x="74" fill="#99c"/><rect x="75" fill="#cce"/><rect x="76" fill="#99d"/><rect x="77" fill="#bbd"/><rect x="78" fill="#cbe"/><rect x="79" fill="#aad"/><rect x="80" fill="#fee"/><rect x="81" fill="#88c"/><rect x="82" fill="#aad"/><rect x="83" fill="#bbd"/><rect x="84" fill="#56b"/><rect x="85" fill="#bad"/><rect x="86" fill="#aad"/><rect x="87" fill="#99d"/><rect x="88" fill="#cbe"/><rect x="89" fill="#aad"/><rect x="90" fill="#99d"/><rect x="91" fill="#aad"/><rect x="92" fill="#bad"/><rect x="93" fill="#98c"/><rect x="94" width="2" fill="#bbd"/><rect x="96" fill="#a9d"/><rect x="97" fill="#cbe"/><rect x="98" fill="#77c"/><rect x="99" fill="#bbd"/><rect x="100" fill="#88c"/><rect x="101" fill="#aad"/><rect x="102" fill="#cce"/><rect x="103" fill="#a9d"/><rect x="104" fill="#88c"/><rect x="105" fill="#bad"/><rect x="106" width="2" fill="#99c"/><rect x="108" fill="#cce"/><rect x="109" fill="#a9d"/><rect x="110" fill="#88c"/><rect x="111" width="2" fill="#bad"/><rect x="113" fill="#77c"/><rect x="114" fill="#aad"/><rect x="115" fill="#cce"/><rect x="116" fill="#bbd"/><rect x="117" fill="#88c"/><rect x="118" fill="#aad"/><rect x="119" fill="#88c"/><rect x="120" fill="#cce"/><rect x="121" fill="#dde"/><rect x="122" fill="#88c"/><rect x="123" fill="#bbd"/><rect x="124" fill="#77c"/><rect x="125" fill="#aad"/><rect x="126" fill="#87c"/><rect x="127" fill="#99d"/><rect x="128" fill="#a9d"/><rect x="129" fill="#dde"/><rect x="130" fill="#99c"/><rect x="131" fill="#aad"/><rect x="132" fill="#88c"/><rect x="133" fill="#a9d"/><rect x="134" fill="#aad"/><rect x="135" fill="#77c"/><rect x="136" fill="#dde"/><rect x="137" fill="#99c"/><rect x="138" fill="#a9d"/><rect x="139" fill="#88c"/><rect x="140" fill="#98c"/><rect x="141" fill="#87c"/><rect x="142" fill="#aad"/><rect x="143" width="2" fill="#a9d"/><rect x="145" width="2" fill="#98c"/><rect x="147" fill="#eef"/><rect x="148" fill="#dce"/><rect x="149" fill="#a9d"/></g><g transform="translate(0,15)"><rect x="0" fill="#e76"/><rect x="1" fill="#e43"/><rect x="2" width="2" fill="#e76"/><rect x="4" fill="#e44"/><rect x="5" fill="#e66"/><rect x="6" width="2" fill="#e44"/><rect x="8" fill="#e33"/><rect x="9" fill="#e44"/><rect x="10" fill="#eef"/><rect x="11" fill="#cce"/><rect x="12" fill="#fef"/><rect x="13" fill="#fee"/><rect x="14" fill="#dce"/><rect x="15" fill="#99c"/><rect x="16" fill="#eef"/><rect x="17" width="3" fill="#45b"/><rect x="20" fill="#56b"/><rect x="21" fill="#45b"/><rect x="22" fill="#56b"/><rect x="23" width="6" fill="#45b"/><rect x="29" fill="#56b"/><rect x="30" fill="#45b"/><rect x="31" fill="#55b"/><rect x="32" width="4" fill="#45b"/><rect x="36" fill="#56b"/><rect x="37" fill="#45b"/><rect x="38" fill="#56b"/><rect x="39" fill="#55b"/><rect x="40" width="2" fill="#56b"/><rect x="42" width="3" fill="#45b"/><rect x="45" width="2" fill="#56b"/><rect x="47" fill="#45b"/><rect x="48" fill="#66b"/><rect x="49" fill="#45b"/><rect x="50" fill="#66b"/><rect x="51" fill="#45b"/><rect x="52" fill="#55b"/><rect x="53" fill="#56b"/><rect x="54" fill="#e66"/><rect x="55" fill="#e55"/><rect x="56" fill="#e33"/><rect x="57" fill="#e54"/><rect x="58" fill="#e66"/><rect x="59" fill="#e65"/><rect x="60" fill="#e55"/><rect x="61" fill="#e66"/><rect x="62" width="2" fill="#e44"/><rect x="64" fill="#e55"/><rect x="65" fill="#e44"/><rect x="66" width="2" fill="#e55"/><rect x="68" fill="#e66"/><rect x="69" width="2" fill="#e44"/><rect x="71" width="2" fill="#e66"/><rect x="73" fill="#e44"/><rect x="74" fill="#e55"/><rect x="75" fill="#e44"/><rect x="76" fill="#e54"/><rect x="77" fill="#e55"/><rect x="78" fill="#e76"/><rect x="79" fill="#e44"/><rect x="80" fill="#e54"/><rect x="81" fill="#e76"/><rect x="82" fill="#e77"/><rect x="83" fill="#e76"/><rect x="84" fill="#e54"/><rect x="85" fill="#e55"/><rect x="86" fill="#45b"/><rect x="87" fill="#56b"/><rect x="88" fill="#66b"/><rect x="89" fill="#66c"/><rect x="90" width="2" fill="#66b"/><rect x="92" width="2" fill="#77c"/><rect x="94" fill="#66b"/><rect x="95" fill="#87c"/><rect x="96" fill="#66b"/><rect x="97" fill="#56b"/><rect x="98" fill="#66b"/><rect x="99" width="3" fill="#56b"/><rect x="102" width="2" fill="#66b"/><rect x="104" fill="#45b"/><rect x="105" fill="#66b"/><rect x="106" fill="#66c"/><rect x="107" fill="#66b"/><rect x="108" fill="#77c"/><rect x="109" fill="#66b"/><rect x="110" width="2" fill="#56b"/><rect x="112" fill="#67c"/><rect x="113" fill="#66b"/><rect x="114" fill="#45b"/><rect x="115" fill="#66b"/><rect x="116" fill="#56b"/><rect x="117" fill="#67c"/><rect x="118" width="2" fill="#56b"/><rect x="120" fill="#88c"/><rect x="121" fill="#67c"/><rect x="122" fill="#66b"/><rect x="123" fill="#67c"/><rect x="124" fill="#66b"/><rect x="125" fill="#67c"/><rect x="126" fill="#77c"/><rect x="127" fill="#66c"/><rect x="128" fill="#56b"/><rect x="129" fill="#67c"/><rect x="130" fill="#88c"/><rect x="131" fill="#56b"/><rect x="132" fill="#45b"/><rect x="133" fill="#66b"/><rect x="134" fill="#45b"/><rect x="135" fill="#88c"/><rect x="136" fill="#77c"/><rect x="137" width="2" fill="#67c"/><rect x="139" fill="#88c"/><rect x="140" fill="#56b"/><rect x="141" fill="#66b"/><rect x="142" fill="#45b"/><rect x="143" fill="#77c"/><rect x="144" fill="#66b"/><rect x="145" fill="#87c"/><rect x="146" width="3" fill="#56b"/><rect x="149" fill="#77c"/></g><g transform="translate(0,16)"><rect x="0" fill="#98c"/><rect x="1" fill="#cbe"/><rect x="2" fill="#bbd"/><rect x="3" fill="#a9d"/><rect x="4" fill="#99c"/><rect x="5" fill="#dde"/><rect x="6" fill="#aad"/><rect x="7" fill="#dce"/><rect x="8" fill="#bbd"/><rect x="9" fill="#98c"/><rect x="10" fill="#a9d"/><rect x="11" fill="#eef"/><rect x="12" fill="#fee"/><rect x="13" fill="#cbe"/><rect x="14" fill="#99d"/><rect x="15" fill="#cce"/><rect x="16" fill="#dde"/><rect x="17" width="2" fill="#a9d"/><rect x="19" fill="#77c"/><rect x="20" fill="#aad"/><rect x="21" fill="#99d"/><rect x="22" fill="#98c"/><rect x="23" fill="#cce"/><rect x="24" fill="#cbe"/><rect x="25" fill="#eef"/><rect x="26" fill="#88c"/><rect x="27" fill="#aad"/><rect x="28" fill="#88c"/><rect x="29" fill="#eef"/><rect x="30" width="2" fill="#bbd"/><rect x="32" fill="#a9d"/><rect x="33" fill="#aad"/><rect x="34" fill="#a9d"/><rect x="35" fill="#bad"/><rect x="36" fill="#aad"/><rect x="37" fill="#eef"/><rect x="38" width="2" fill="#dde"/><rect x="40" fill="#dce"/><rect x="41" width="2" fill="#cce"/><rect x="43" fill="#98c"/><rect x="44" fill="#a9d"/><rect x="45" fill="#bbe"/><rect x="46" fill="#bbd"/><rect x="47" fill="#88c"/><rect x="48" fill="#dde"/><rect x="49" fill="#98c"/><rect x="50" fill="#cbe"/><rect x="51" fill="#dde"/><rect x="52" fill="#aad"/><rect x="53" fill="#a9d"/><rect x="54" fill="#e44"/><rect x="55" fill="#e55"/><rect x="56" fill="#e54"/><rect x="57" fill="#e66"/><rect x="58" fill="#e65"/><rect x="59" fill="#e98"/><rect x="60" fill="#e55"/><rect x="61" fill="#e33"/><rect x="62" fill="#e66"/><rect x="63" fill="#e65"/><rect x="64" fill="#e44"/><rect x="65" fill="#e33"/><rect x="66" fill="#e43"/><rect x="67" fill="#e76"/><rect x="68" fill="#e66"/><rect x="69" fill="#e33"/><rect x="70" fill="#e66"/><rect x="71" fill="#e55"/><rect x="72" fill="#e66"/><rect x="73" fill="#e65"/><rect x="74" fill="#e99"/><rect x="75" fill="#e65"/><rect x="76" fill="#e88"/><rect x="77" width="2" fill="#e76"/><rect x="79" fill="#e33"/><rect x="80" fill="#e44"/><rect x="81" fill="#e55"/><rect x="82" fill="#e66"/><rect x="83" fill="#e76"/><rect x="84" fill="#e54"/><rect x="85" fill="#e66"/><rect x="86" fill="#bad"/><rect x="87" fill="#aad"/><rect x="88" fill="#cce"/><rect x="89" fill="#cbe"/><rect x="90" fill="#99c"/><rect x="91" fill="#cce"/><rect x="92" fill="#bbd"/><rect x="93" fill="#aad"/><rect x="94" fill="#cce"/><rect x="95" fill="#88c"/><rect x="96" fill="#bbd"/><rect x="97" fill="#cbe"/><rect x="98" fill="#bad"/><rect x="99" fill="#cbe"/><rect x="100" fill="#aad"/><rect x="101" fill="#98c"/><rect x="102" fill="#bbd"/><rect x="103" fill="#bbe"/><rect x="104" fill="#88c"/><rect x="105" fill="#99c"/><rect x="106" fill="#cbe"/><rect x="107" fill="#88c"/><rect x="108" fill="#cce"/><rect x="109" fill="#bbd"/><rect x="110" width="2" fill="#a9d"/><rect x="112" fill="#bad"/><rect x="113" fill="#77c"/><rect x="114" fill="#a9d"/><rect x="115" fill="#dce"/><rect x="116" fill="#98c"/><rect x="117" fill="#aad"/><rect x="118" fill="#88c"/><rect x="119" fill="#a9d"/><rect x="120" fill="#dde"/><rect x="121" width="2" fill="#bad"/><rect x="123" fill="#dde"/><rect x="124" fill="#cce"/><rect x="125" fill="#fef"/><rect x="126" fill="#98c"/><rect x="127" fill="#bbd"/><rect x="128" fill="#98c"/><rect x="129" width="2" fill="#dce"/><rect x="131" fill="#a9d"/><rect x="132" fill="#99c"/><rect x="133" fill="#bad"/><rect x="134" fill="#99d"/><rect x="135" fill="#98c"/><rect x="136" fill="#dce"/><rect x="137" fill="#88c"/><rect x="138" fill="#bbd"/><rect x="139" fill="#cbe"/><rect x="140" fill="#aad"/><rect x="141" fill="#cce"/><rect x="142" fill="#dce"/><rect x="143" fill="#cbe"/><rect x="144" fill="#cce"/><rect x="145" fill="#bbd"/><rect x="146" fill="#77c"/><rect x="147" fill="#bbd"/><rect x="148" fill="#cbe"/><rect x="149" fill="#aad"/></g><g transform="translate(0,17)"><rect x="0" fill="#dde"/><rect x="1" fill="#e43"/><rect x="2" width="2" fill="#fee"/><rect x="4" fill="#eaa"/><rect x="5" fill="#e99"/><rect x="6" fill="#e55"/><rect x="7" fill="#e88"/><rect x="8" fill="#faa"/><rect x="9" fill="#e99"/><rect x="10" fill="#cbe"/><rect x="11" fill="#bad"/><rect x="12" fill="#dce"/><rect x="13" fill="#eef"/><rect x="14" fill="#cbe"/><rect x="15" width="2" fill="#ede"/><rect x="17" fill="#dde"/><rect x="18" fill="#bbd"/><rect x="19" width="3" fill="#cce"/><rect x="22" fill="#bbd"/><rect x="23" fill="#eef"/><rect x="24" fill="#cce"/><rect x="25" fill="#dde"/><rect x="26" fill="#eef"/><rect x="27" fill="#bad"/><rect x="28" fill="#99c"/><rect x="29" width="2" fill="#dce"/><rect x="31" fill="#aad"/><rect x="32" fill="#99c"/><rect x="33" width="3" fill="#bad"/><rect x="36" fill="#eef"/><rect x="37" fill="#dce"/><rect x="38" fill="#bbd"/><rect x="39" fill="#bad"/><rect x="40" fill="#aad"/><rect x="41" fill="#cce"/><rect x="42" fill="#dce"/><rect x="43" fill="#99d"/><rect x="44" fill="#cce"/><rect x="45" fill="#bbe"/><rect x="46" fill="#cce"/><rect x="47" fill="#cbe"/><rect x="48" fill="#eef"/><rect x="49" fill="#a9d"/><rect x="50" fill="#dce"/><rect x="51" fill="#dde"/><rect x="52" fill="#fff"/><rect x="53" fill="#99d"/><rect x="54" fill="#e88"/><rect x="55" fill="#fbb"/><rect x="56" fill="#e76"/><rect x="57" width="2" fill="#ea9"/><rect x="59" fill="#e77"/><rect x="60" fill="#e33"/><rect x="61" fill="#fcc"/><rect x="62" fill="#e43"/><rect x="63" fill="#faa"/><rect x="64" fill="#e66"/><rect x="65" fill="#e76"/><rect x="66" fill="#e55"/><rect x="67" fill="#e88"/><rect x="68" fill="#e99"/><rect x="69" fill="#e98"/><rect x="70" fill="#e77"/><rect x="71" fill="#faa"/><rect x="72" width="3" fill="#e76"/><rect x="75" fill="#e77"/><rect x="76" width="2" fill="#e66"/><rect x="78" fill="#e88"/><rect x="79" fill="#e87"/><rect x="80" fill="#fba"/><rect x="81" fill="#faa"/><rect x="82" fill="#fcc"/><rect x="83" fill="#e55"/><rect x="84" fill="#ea9"/><rect x="85" fill="#e88"/><rect x="86" fill="#dce"/><rect x="87" fill="#cbe"/><rect x="88" fill="#fee"/><rect x="89" fill="#bbd"/><rect x="90" fill="#cbe"/><rect x="91" fill="#ede"/><rect x="92" width="2" fill="#a9d"/><rect x="94" fill="#98c"/><rect x="95" fill="#aad"/><rect x="96" fill="#dde"/><rect x="97" fill="#cce"/><rect x="98" fill="#bad"/><rect x="99" fill="#bbe"/><rect x="100" width="2" fill="#dde"/><rect x="102" fill="#aad"/><rect x="103" fill="#eef"/><rect x="104" fill="#98c"/><rect x="105" fill="#aad"/><rect x="106" width="2" fill="#bad"/><rect x="108" fill="#ede"/><rect x="109" fill="#88c"/><rect x="110" width="2" fill="#bbd"/><rect x="112" fill="#eef"/><rect x="113" fill="#a9d"/><rect x="114" fill="#dce"/><rect x="115" fill="#eef"/><rect x="116" fill="#dde"/><rect x="117" fill="#bad"/><rect x="118" fill="#77c"/><rect x="119" fill="#cce"/><rect x="120" width="2" fill="#dde"/><rect x="122" width="2" fill="#cbe"/><rect x="124" fill="#a9d"/><rect x="125" width="2" fill="#bbd"/><rect x="127" fill="#bad"/><rect x="128" fill="#aad"/><rect x="129" fill="#cbe"/><rect x="130" fill="#cce"/><rect x="131" fill="#aad"/><rect x="132" width="2" fill="#99d"/><rect x="134" fill="#67c"/><rect x="135" fill="#bad"/><rect x="136" fill="#cbe"/><rect x="137" fill="#cce"/><rect x="138" fill="#eef"/><rect x="139" fill="#aad"/><rect x="140" width="3" fill="#cbe"/><rect x="143" fill="#dde"/><rect x="144" fill="#cce"/><rect x="145" fill="#98c"/><rect x="146" width="2" fill="#cce"/><rect x="148" fill="#bbd"/><rect x="149" fill="#a9d"/></g><g transform="translate(0,18)"><rect x="0" fill="#fdd"/><rect x="1" fill="#fee"/><rect x="2" fill="#e77"/><rect x="3" fill="#faa"/><rect x="4" fill="#eef"/><rect x="5" fill="#e98"/><rect x="6" width="2" fill="#ea9"/><rect x="8" fill="#e99"/><rect x="9" fill="#fdd"/><rect x="10" fill="#98c"/><rect x="11" fill="#a9d"/><rect x="12" fill="#77c"/><rect x="13" fill="#87c"/><rect x="14" fill="#99c"/><rect x="15" fill="#a9d"/><rect x="16" width="2" fill="#88c"/><rect x="18" width="2" fill="#77c"/><rect x="20" fill="#99d"/><rect x="21" width="2" fill="#bad"/><rect x="23" width="2" fill="#a9d"/><rect x="25" fill="#99c"/><rect x="26" fill="#77c"/><rect x="27" fill="#99c"/><rect x="28" fill="#56b"/><rect x="29" width="2" fill="#77c"/><rect x="31" fill="#66b"/><rect x="32" fill="#a9d"/><rect x="33" fill="#99d"/><rect x="34" fill="#88c"/><rect x="35" fill="#99d"/><rect x="36" fill="#cbe"/><rect x="37" fill="#88c"/><rect x="38" fill="#aad"/><rect x="39" fill="#67c"/><rect x="40" fill="#88c"/><rect x="41" width="2" fill="#99d"/><rect x="43" fill="#77c"/><rect x="44" fill="#98c"/><rect x="45" fill="#77c"/><rect x="46" fill="#a9d"/><rect x="47" fill="#88c"/><rect x="48" fill="#aad"/><rect x="49" fill="#98c"/><rect x="50" fill="#a9d"/><rect x="51" fill="#aad"/><rect x="52" fill="#a9d"/><rect x="53" fill="#fbb"/><rect x="54" fill="#fdd"/><rect x="55" fill="#fdc"/><rect x="56" width="2" fill="#e88"/><rect x="58" fill="#fee"/><rect x="59" fill="#fdd"/><rect x="60" fill="#fcb"/><rect x="61" width="2" fill="#fbb"/><rect x="63" fill="#fdd"/><rect x="64" fill="#fbb"/><rect x="65" fill="#fba"/><rect x="66" fill="#e98"/><rect x="67" width="2" fill="#fee"/><rect x="69" fill="#faa"/><rect x="70" fill="#fcb"/><rect x="71" fill="#fdd"/><rect x="72" fill="#fee"/><rect x="73" fill="#e77"/><rect x="74" fill="#fee"/><rect x="75" fill="#e87"/><rect x="76" fill="#faa"/><rect x="77" fill="#fbb"/><rect x="78" fill="#fcc"/><rect x="79" fill="#e98"/><rect x="80" fill="#ea9"/><rect x="81" fill="#dde"/><rect x="82" fill="#fff"/><rect x="83" fill="#eef"/><rect x="84" fill="#faa"/><rect x="85" fill="#e88"/><rect x="86" fill="#dce"/><rect x="87" fill="#77c"/><rect x="88" fill="#fee"/><rect x="89" fill="#fef"/><rect x="90" fill="#aad"/><rect x="91" fill="#88c"/><rect x="92" fill="#99c"/><rect x="93" fill="#bad"/><rect x="94" fill="#dde"/><rect x="95" fill="#a9d"/><rect x="96" fill="#88c"/><rect x="97" fill="#99d"/><rect x="98" fill="#dde"/><rect x="99" fill="#bbe"/><rect x="100" fill="#77c"/><rect x="101" fill="#88c"/><rect x="102" fill="#cce"/><rect x="103" fill="#bbd"/><rect x="104" fill="#88c"/><rect x="105" fill="#99c"/><rect x="106" fill="#bad"/><rect x="107" fill="#aad"/><rect x="108" width="3" fill="#56b"/><rect x="111" fill="#67c"/><rect x="112" fill="#66b"/><rect x="113" fill="#56b"/><rect x="114" fill="#77c"/><rect x="115" fill="#45b"/><rect x="116" width="2" fill="#66b"/><rect x="118" width="2" fill="#56b"/><rect x="120" fill="#67c"/><rect x="121" width="2" fill="#56b"/><rect x="123" fill="#66b"/><rect x="124" fill="#56b"/><rect x="125" width="2" fill="#66b"/><rect x="127" width="2" fill="#56b"/><rect x="129" fill="#88c"/><rect x="130" width="4" fill="#56b"/><rect x="134" fill="#45b"/><rect x="135" fill="#56b"/><rect x="136" fill="#77c"/><rect x="137" fill="#45b"/><rect x="138" fill="#56b"/><rect x="139" fill="#66b"/><rect x="140" fill="#56b"/><rect x="141" fill="#66b"/><rect x="142" width="5" fill="#56b"/><rect x="147" fill="#45b"/><rect x="148" fill="#66b"/><rect x="149" fill="#67c"/></g><g transform="translate(0,19)"><rect x="0" fill="#98c"/><rect x="1" width="2" fill="#aad"/><rect x="3" fill="#a9d"/><rect x="4" width="2" fill="#88c"/><rect x="6" fill="#98c"/><rect x="7" fill="#88c"/><rect x="8" fill="#eef"/><rect x="9" fill="#edf"/><rect x="10" fill="#e66"/><rect x="11" fill="#e87"/><rect x="12" fill="#e66"/><rect x="13" fill="#ea9"/><rect x="14" fill="#fcc"/><rect x="15" fill="#ea9"/><rect x="16" fill="#e76"/><rect x="17" fill="#e88"/><rect x="18" fill="#e99"/><rect x="19" fill="#ea9"/><rect x="20" fill="#e88"/><rect x="21" fill="#e87"/><rect x="22" fill="#e88"/><rect x="23" fill="#bbd"/><rect x="24" fill="#aad"/><rect x="25" fill="#bbd"/><rect x="26" fill="#aad"/><rect x="27" fill="#a9d"/><rect x="28" fill="#98c"/><rect x="29" fill="#cbe"/><rect x="30" width="2" fill="#98c"/><rect x="32" fill="#aad"/><rect x="33" fill="#a9d"/><rect x="34" fill="#88c"/><rect x="35" fill="#a9d"/><rect x="36" fill="#cce"/><rect x="37" fill="#88c"/><rect x="38" width="2" fill="#bbd"/><rect x="40" fill="#a9d"/><rect x="41" fill="#aad"/><rect x="42" fill="#cbe"/><rect x="43" fill="#bbd"/><rect x="44" fill="#bad"/><rect x="45" fill="#bbd"/><rect x="46" width="2" fill="#a9d"/><rect x="48" fill="#dde"/><rect x="49" width="2" fill="#aad"/><rect x="51" fill="#a9d"/><rect x="52" fill="#ede"/><rect x="53" fill="#aad"/><rect x="54" fill="#bbd"/><rect x="55" fill="#cbe"/><rect x="56" fill="#a9d"/><rect x="57" fill="#fba"/><rect x="58" fill="#eef"/><rect x="59" fill="#e98"/><rect x="60" fill="#fdc"/><rect x="61" fill="#faa"/><rect x="62" width="2" fill="#fbb"/><rect x="64" fill="#ea9"/><rect x="65" fill="#fba"/><rect x="66" fill="#fcb"/><rect x="67" fill="#faa"/><rect x="68" fill="#fcb"/><rect x="69" fill="#fdd"/><rect x="70" fill="#fbb"/><rect x="71" fill="#ea9"/><rect x="72" fill="#fee"/><rect x="73" fill="#fcb"/><rect x="74" fill="#fcc"/><rect x="75" fill="#e99"/><rect x="76" fill="#fed"/><rect x="77" fill="#e77"/><rect x="78" fill="#fba"/><rect x="79" fill="#ea9"/><rect x="80" fill="#e77"/><rect x="81" fill="#fdd"/><rect x="82" fill="#fbb"/><rect x="83" width="2" fill="#e88"/><rect x="85" fill="#fdc"/><rect x="86" fill="#bbd"/><rect x="87" fill="#88c"/><rect x="88" fill="#bbd"/><rect x="89" fill="#cbe"/><rect x="90" fill="#98c"/><rect x="91" fill="#99d"/><rect x="92" fill="#a9d"/><rect x="93" fill="#87c"/><rect x="94" fill="#a9d"/><rect x="95" fill="#bad"/><rect x="96" fill="#aad"/><rect x="97" fill="#a9d"/><rect x="98" fill="#88c"/><rect x="99" fill="#99c"/><rect x="100" fill="#a9d"/><rect x="101" fill="#88c"/><rect x="102" fill="#a9d"/><rect x="103" fill="#98c"/><rect x="104" fill="#67c"/><rect x="105" fill="#77c"/><rect x="106" fill="#88c"/><rect x="107" fill="#cbe"/><rect x="108" fill="#cce"/><rect x="109" fill="#bad"/><rect x="110" width="2" fill="#cce"/><rect x="112" fill="#cbe"/><rect x="113" fill="#88c"/><rect x="114" fill="#bad"/><rect x="115" fill="#eef"/><rect x="116" fill="#dce"/><rect x="117" fill="#99c"/><rect x="118" width="2" fill="#bbd"/><rect x="120" fill="#ede"/><rect x="121" width="2" fill="#cce"/><rect x="123" fill="#cbe"/><rect x="124" fill="#bad"/><rect x="125" fill="#dde"/><rect x="126" fill="#a9d"/><rect x="127" fill="#bad"/><rect x="128" fill="#bbd"/><rect x="129" width="2" fill="#bad"/><rect x="131" fill="#cbe"/><rect x="132" width="2" fill="#98c"/><rect x="134" fill="#a9d"/><rect x="135" fill="#aad"/><rect x="136" fill="#cbe"/><rect x="137" fill="#bad"/><rect x="138" fill="#cbe"/><rect x="139" fill="#aad"/><rect x="140" fill="#a9d"/><rect x="141" fill="#aad"/><rect x="142" fill="#bad"/><rect x="143" fill="#cbe"/><rect x="144" fill="#bbd"/><rect x="145" width="2" fill="#aad"/><rect x="147" fill="#dde"/><rect x="148" fill="#bbd"/><rect x="149" fill="#a9d"/></g><g transform="translate(0,20)"><rect x="0" width="2" fill="#eef"/><rect x="2" fill="#fbb"/><rect x="3" width="2" fill="#dde"/><rect x="5" fill="#fee"/><rect x="6" fill="#fff"/><rect x="7" fill="#fcc"/><rect x="8" fill="#dde"/><rect x="9" fill="#fff"/><rect x="10" fill="#fee"/><rect x="11" fill="#fdd"/><rect x="12" fill="#fcb"/><rect x="13" fill="#fff"/><rect x="14" fill="#eef"/><rect x="15" fill="#ede"/><rect x="16" fill="#fcc"/><rect x="17" fill="#fee"/><rect x="18" fill="#eef"/><rect x="19" fill="#fff"/><rect x="20" width="2" fill="#fdd"/><rect x="22" fill="#fee"/><rect x="23" fill="#fff"/><rect x="24" fill="#fee"/><rect x="25" fill="#fdd"/><rect x="26" fill="#fcc"/><rect x="27" fill="#fdd"/><rect x="28" fill="#ede"/><rect x="29" fill="#fee"/><rect x="30" fill="#edf"/><rect x="31" fill="#fdd"/><rect x="32" fill="#eef"/><rect x="33" fill="#fdc"/><rect x="34" fill="#eef"/><rect x="35" fill="#fdd"/><rect x="36" fill="#faa"/><rect x="37" width="2" fill="#fee"/><rect x="39" fill="#eef"/><rect x="40" fill="#fff"/><rect x="41" fill="#fee"/><rect x="42" width="2" fill="#eef"/><rect x="44" fill="#fff"/><rect x="45" fill="#fef"/><rect x="46" fill="#fdd"/><rect x="47" fill="#fef"/><rect x="48" fill="#fcc"/><rect x="49" fill="#ede"/><rect x="50" fill="#fdc"/><rect x="51" width="2" fill="#fee"/><rect x="53" fill="#eef"/><rect x="54" fill="#fcc"/><rect x="55" width="2" fill="#fee"/><rect x="57" fill="#fcb"/><rect x="58" fill="#eef"/><rect x="59" fill="#fee"/><rect x="60" fill="#fdc"/><rect x="61" fill="#fff"/><rect x="62" fill="#fbb"/><rect x="63" fill="#fee"/><rect x="64" width="2" fill="#fdd"/><rect x="66" width="2" fill="#fee"/><rect x="68" width="2" fill="#fff"/><rect x="70" fill="#fee"/><rect x="71" fill="#fff"/><rect x="72" fill="#fcc"/><rect x="73" fill="#fee"/><rect x="74" fill="#fdd"/><rect x="75" fill="#fff"/><rect x="76" fill="#fef"/><rect x="77" fill="#fdd"/><rect x="78" width="2" fill="#fee"/><rect x="80" fill="#fdd"/><rect x="81" fill="#fef"/><rect x="82" fill="#dde"/><rect x="83" fill="#fcc"/><rect x="84" fill="#fff"/><rect x="85" fill="#fee"/><rect x="86" fill="#fdd"/><rect x="87" fill="#dce"/><rect x="88" fill="#fcb"/><rect x="89" fill="#fcc"/><rect x="90" width="3" fill="#fee"/><rect x="93" width="2" fill="#eef"/><rect x="95" width="3" fill="#fee"/><rect x="98" fill="#fff"/><rect x="99" fill="#fee"/><rect x="100" width="2" fill="#fff"/><rect x="102" fill="#fdc"/><rect x="103" fill="#fef"/><rect x="104" fill="#eef"/><rect x="105" fill="#fef"/><rect x="106" width="2" fill="#fee"/><rect x="108" fill="#e65"/><rect x="109" fill="#fbb"/><rect x="110" fill="#e88"/><rect x="111" width="2" fill="#e98"/><rect x="113" fill="#eaa"/><rect x="114" fill="#e88"/><rect x="115" fill="#e55"/><rect x="116" fill="#e77"/><rect x="117" fill="#e99"/><rect x="118" fill="#e77"/><rect x="119" fill="#e66"/><rect x="120" fill="#e87"/><rect x="121" fill="#e77"/><rect x="122" fill="#e22"/><rect x="123" fill="#e66"/><rect x="124" fill="#e76"/><rect x="125" fill="#e77"/><rect x="126" fill="#e66"/><rect x="127" fill="#e55"/><rect x="128" fill="#e65"/><rect x="129" fill="#e66"/><rect x="130" fill="#e76"/><rect x="131" fill="#fbb"/><rect x="132" fill="#e87"/><rect x="133" fill="#e98"/><rect x="134" width="2" fill="#e77"/><rect x="136" fill="#e76"/><rect x="137" fill="#e44"/><rect x="138" fill="#e55"/><rect x="139" fill="#e88"/><rect x="140" fill="#e76"/><rect x="141" fill="#e66"/><rect x="142" fill="#e77"/><rect x="143" fill="#e44"/><rect x="144" fill="#e88"/><rect x="145" width="2" fill="#fbb"/><rect x="147" fill="#e55"/><rect x="148" fill="#e87"/><rect x="149" fill="#e77"/></g><g transform="translate(0,21)"><rect x="0" fill="#dce"/><rect x="1" width="2" fill="#fee"/><rect x="3" fill="#eef"/><rect x="4" fill="#dde"/><rect x="5" fill="#fef"/><rect x="6" width="2" fill="#fdd"/><rect x="8" fill="#ede"/><rect x="9" fill="#eef"/><rect x="10" fill="#fdd"/><rect x="11" fill="#fee"/><rect x="12" fill="#fbb"/><rect x="13" width="2" fill="#fee"/><rect x="15" fill="#fff"/><rect x="16" fill="#fcc"/><rect x="17" fill="#ffe"/><rect x="18" fill="#fff"/><rect x="19" fill="#eef"/><rect x="20" fill="#fee"/><rect x="21" fill="#eef"/><rect x="22" fill="#fff"/><rect x="23" fill="#fee"/><rect x="24" fill="#fdd"/><rect x="25" fill="#fee"/><rect x="26" width="2" fill="#fdd"/><rect x="28" fill="#dde"/><rect x="29" fill="#fee"/><rect x="30" fill="#eef"/><rect x="31" fill="#fee"/><rect x="32" fill="#ede"/><rect x="33" width="2" fill="#eef"/><rect x="35" fill="#fed"/><rect x="36" fill="#fbb"/><rect x="37" fill="#fee"/><rect x="38" fill="#fed"/><rect x="39" fill="#dde"/><rect x="40" fill="#fee"/><rect x="41" fill="#eef"/><rect x="42" fill="#dde"/><rect x="43" fill="#eef"/><rect x="44" fill="#fee"/><rect x="45" fill="#eef"/><rect x="46" fill="#fdd"/><rect x="47" fill="#eef"/><rect x="48" fill="#fcc"/><rect x="49" fill="#eef"/><rect x="50" width="2" fill="#fee"/><rect x="52" fill="#fdd"/><rect x="53" fill="#dde"/><rect x="54" width="2" fill="#fdd"/><rect x="56" fill="#fdc"/><rect x="57" fill="#fff"/><rect x="58" fill="#fee"/><rect x="59" fill="#eef"/><rect x="60" fill="#fee"/><rect x="61" fill="#fdd"/><rect x="62" fill="#fcb"/><rect x="63" fill="#eef"/><rect x="64" width="3" fill="#fee"/><rect x="67" fill="#fdd"/><rect x="68" width="2" fill="#fff"/><rect x="70" fill="#eef"/><rect x="71" fill="#fef"/><rect x="72" fill="#fff"/><rect x="73" fill="#fcc"/><rect x="74" fill="#fee"/><rect x="75" fill="#fdd"/><rect x="76" width="2" fill="#fee"/><rect x="78" fill="#fff"/><rect x="79" fill="#fee"/><rect x="80" fill="#fdd"/><rect x="81" fill="#fef"/><rect x="82" fill="#eef"/><rect x="83" fill="#fcc"/><rect x="84" fill="#fff"/><rect x="85" fill="#fdd"/><rect x="86" fill="#e76"/><rect x="87" fill="#e98"/><rect x="88" width="2" fill="#e66"/><rect x="90" fill="#e76"/><rect x="91" fill="#e88"/><rect x="92" fill="#faa"/><rect x="93" fill="#e87"/><rect x="94" width="2" fill="#e77"/><rect x="96" fill="#e66"/><rect x="97" width="2" fill="#ea9"/><rect x="99" fill="#e76"/><rect x="100" fill="#e98"/><rect x="101" fill="#e99"/><rect x="102" fill="#e66"/><rect x="103" fill="#fcc"/><rect x="104" fill="#e77"/><rect x="105" fill="#fbb"/><rect x="106" fill="#e98"/><rect x="107" fill="#e99"/><rect x="108" fill="#e98"/><rect x="109" fill="#e99"/><rect x="110" fill="#fcc"/><rect x="111" width="2" fill="#e87"/><rect x="113" fill="#fbb"/><rect x="114" fill="#e77"/><rect x="115" fill="#e88"/><rect x="116" fill="#fba"/><rect x="117" fill="#fcb"/><rect x="118" fill="#e66"/><rect x="119" fill="#e77"/><rect x="120" fill="#e98"/><rect x="121" fill="#e44"/><rect x="122" fill="#e76"/><rect x="123" fill="#e54"/><rect x="124" fill="#e66"/><rect x="125" fill="#e44"/><rect x="126" fill="#fcc"/><rect x="127" fill="#e88"/><rect x="128" fill="#e98"/><rect x="129" fill="#e33"/><rect x="130" fill="#e66"/><rect x="131" fill="#e87"/><rect x="132" fill="#faa"/><rect x="133" fill="#fdd"/><rect x="134" fill="#e88"/><rect x="135" fill="#eaa"/><rect x="136" fill="#e55"/><rect x="137" fill="#e76"/><rect x="138" fill="#e77"/><rect x="139" fill="#e88"/><rect x="140" fill="#e66"/><rect x="141" fill="#e98"/><rect x="142" fill="#e65"/><rect x="143" fill="#e76"/><rect x="144" fill="#e98"/><rect x="145" fill="#e77"/><rect x="146" fill="#e66"/><rect x="147" fill="#e99"/><rect x="148" fill="#e55"/><rect x="149" fill="#e76"/></g><g transform="translate(0,22)"><rect x="0" fill="#bad"/><rect x="1" fill="#fee"/><rect x="2" fill="#eef"/><rect x="3" fill="#dce"/><rect x="4" fill="#99c"/><rect x="5" fill="#dde"/><rect x="6" fill="#aad"/><rect x="7" fill="#eef"/><rect x="8" fill="#fff"/><rect x="9" fill="#99d"/><rect x="10" fill="#fee"/><rect x="11" fill="#bad"/><rect x="12" fill="#ede"/><rect x="13" fill="#eef"/><rect x="14" fill="#99d"/><rect x="15" fill="#dce"/><rect x="16" fill="#dde"/><rect x="17" fill="#bad"/><rect x="18" fill="#dde"/><rect x="19" fill="#bad"/><rect x="20" fill="#dde"/><rect x="21" fill="#cce"/><rect x="22" fill="#dce"/><rect x="23" fill="#fff"/><rect x="24" fill="#dce"/><rect x="25" fill="#cce"/><rect x="26" fill="#dde"/><rect x="27" fill="#ede"/><rect x="28" fill="#bbd"/><rect x="29" fill="#98c"/><rect x="30" fill="#bad"/><rect x="31" fill="#dce"/><rect x="32" fill="#fee"/><rect x="33" fill="#bbd"/><rect x="34" fill="#bad"/><rect x="35" fill="#aad"/><rect x="36" fill="#fee"/><rect x="37" fill="#98c"/><rect x="38" fill="#bbd"/><rect x="39" fill="#bad"/><rect x="40" fill="#99c"/><rect x="41" fill="#cce"/><rect x="42" fill="#bad"/><rect x="43" fill="#fff"/><rect x="44" width="2" fill="#fee"/><rect x="46" fill="#dde"/><rect x="47" fill="#dce"/><rect x="48" fill="#faa"/><rect x="49" fill="#bad"/><rect x="50" fill="#fdd"/><rect x="51" fill="#aad"/><rect x="52" fill="#fff"/><rect x="53" fill="#98c"/><rect x="54" fill="#cce"/><rect x="55" fill="#aad"/><rect x="56" fill="#cbe"/><rect x="57" fill="#99c"/><rect x="58" fill="#bbd"/><rect x="59" fill="#a9d"/><rect x="60" fill="#dde"/><rect x="61" fill="#cbe"/><rect x="62" fill="#a9d"/><rect x="63" fill="#bad"/><rect x="64" fill="#cce"/><rect x="65" fill="#bbd"/><rect x="66" fill="#aad"/><rect x="67" fill="#99d"/><rect x="68" fill="#bad"/><rect x="69" fill="#99c"/><rect x="70" fill="#99d"/><rect x="71" fill="#aad"/><rect x="72" fill="#dce"/><rect x="73" fill="#bbd"/><rect x="74" fill="#cce"/><rect x="75" fill="#bad"/><rect x="76" fill="#cbe"/><rect x="77" fill="#dce"/><rect x="78" width="2" fill="#aad"/><rect x="80" fill="#cce"/><rect x="81" fill="#aad"/><rect x="82" fill="#99d"/><rect x="83" fill="#dde"/><rect x="84" fill="#bbd"/><rect x="85" fill="#cce"/><rect x="86" fill="#e54"/><rect x="87" fill="#e33"/><rect x="88" fill="#e22"/><rect x="89" fill="#e44"/><rect x="90" fill="#e22"/><rect x="91" fill="#e33"/><rect x="92" width="2" fill="#e55"/><rect x="94" width="2" fill="#e44"/><rect x="96" width="2" fill="#e33"/><rect x="98" fill="#e43"/><rect x="99" fill="#e33"/><rect x="100" fill="#e54"/><rect x="101" fill="#e55"/><rect x="102" fill="#e44"/><rect x="103" fill="#e55"/><rect x="104" fill="#e33"/><rect x="105" fill="#e66"/><rect x="106" fill="#e22"/><rect x="107" fill="#e66"/><rect x="108" fill="#e33"/><rect x="109" fill="#e44"/><rect x="110" fill="#e54"/><rect x="111" fill="#e44"/><rect x="112" fill="#e33"/><rect x="113" fill="#e55"/><rect x="114" width="2" fill="#e33"/><rect x="116" fill="#e22"/><rect x="117" fill="#e55"/><rect x="118" fill="#e22"/><rect x="119" fill="#e43"/><rect x="120" fill="#e22"/><rect x="121" fill="#e55"/><rect x="122" fill="#e22"/><rect x="123" width="2" fill="#e33"/><rect x="125" fill="#e43"/><rect x="126" fill="#e33"/><rect x="127" fill="#e43"/><rect x="128" fill="#e55"/><rect x="129" fill="#e22"/><rect x="130" fill="#e44"/><rect x="131" fill="#e33"/><rect x="132" width="3" fill="#e44"/><rect x="135" fill="#e33"/><rect x="136" fill="#e22"/><rect x="137" fill="#e32"/><rect x="138" fill="#e55"/><rect x="139" fill="#e33"/><rect x="140" fill="#e55"/><rect x="141" fill="#e22"/><rect x="142" fill="#e33"/><rect x="143" fill="#e22"/><rect x="144" fill="#e43"/><rect x="145" fill="#e33"/><rect x="146" fill="#e54"/><rect x="147" fill="#e22"/><rect x="148" fill="#e33"/><rect x="149" fill="#e22"/></g><g transform="translate(0,23)"><rect x="0" fill="#dde"/><rect x="1" width="2" fill="#fee"/><rect x="3" fill="#eef"/><rect x="4" fill="#dde"/><rect x="5" width="2" fill="#fee"/><rect x="7" fill="#fff"/><rect x="8" width="2" fill="#dde"/><rect x="10" fill="#fdd"/><rect x="11" fill="#fef"/><rect x="12" fill="#fdc"/><rect x="13" fill="#fdd"/><rect x="14" fill="#fff"/><rect x="15" fill="#ede"/><rect x="16" fill="#faa"/><rect x="17" width="5" fill="#eef"/><rect x="22" fill="#fee"/><rect x="23" fill="#fdd"/><rect x="24" fill="#fff"/><rect x="25" fill="#fee"/><rect x="26" fill="#fdd"/><rect x="27" fill="#fff"/><rect x="28" fill="#eef"/><rect x="29" fill="#fdd"/><rect x="30" fill="#ede"/><rect x="31" fill="#fee"/><rect x="32" fill="#dde"/><rect x="33" fill="#fee"/><rect x="34" fill="#eef"/><rect x="35" fill="#fed"/><rect x="36" fill="#e98"/><rect x="37" fill="#eef"/><rect x="38" fill="#fcc"/><rect x="39" fill="#dce"/><rect x="40" fill="#fef"/><rect x="41" fill="#fdc"/><rect x="42" width="3" fill="#fee"/><rect x="45" fill="#eef"/><rect x="46" fill="#fee"/><rect x="47" fill="#eef"/><rect x="48" fill="#fdc"/><rect x="49" fill="#edf"/><rect x="50" fill="#fdc"/><rect x="51" fill="#fff"/><rect x="52" fill="#fcc"/><rect x="53" fill="#fff"/><rect x="54" fill="#fdd"/><rect x="55" fill="#eef"/><rect x="56" fill="#fdd"/><rect x="57" fill="#fee"/><rect x="58" fill="#fff"/><rect x="59" width="2" fill="#eef"/><rect x="61" fill="#fee"/><rect x="62" fill="#fdd"/><rect x="63" fill="#eef"/><rect x="64" fill="#fee"/><rect x="65" fill="#eef"/><rect x="66" fill="#fef"/><rect x="67" fill="#fdd"/><rect x="68" width="2" fill="#eef"/><rect x="70" fill="#dde"/><rect x="71" fill="#eef"/><rect x="72" fill="#fee"/><rect x="73" fill="#fbb"/><rect x="74" fill="#fee"/><rect x="75" fill="#fcc"/><rect x="76" fill="#fee"/><rect x="77" fill="#fed"/><rect x="78" fill="#fdc"/><rect x="79" fill="#fee"/><rect x="80" fill="#fdc"/><rect x="81" fill="#dde"/><rect x="82" fill="#eef"/><rect x="83" fill="#fdc"/><rect x="84" fill="#fee"/><rect x="85" fill="#fdd"/><rect x="86" fill="#fee"/><rect x="87" fill="#dde"/><rect x="88" fill="#fbb"/><rect x="89" fill="#fdd"/><rect x="90" fill="#fee"/><rect x="91" fill="#fdd"/><rect x="92" fill="#fee"/><rect x="93" fill="#eef"/><rect x="94" fill="#e87"/><rect x="95" fill="#e65"/><rect x="96" fill="#e87"/><rect x="97" fill="#e33"/><rect x="98" fill="#e77"/><rect x="99" fill="#e22"/><rect x="100" fill="#e77"/><rect x="101" fill="#e65"/><rect x="102" fill="#e33"/><rect x="103" fill="#e66"/><rect x="104" width="2" fill="#e77"/><rect x="106" fill="#e66"/><rect x="107" fill="#e76"/><rect x="108" fill="#e65"/><rect x="109" fill="#ea9"/><rect x="110" fill="#e66"/><rect x="111" fill="#e76"/><rect x="112" fill="#e44"/><rect x="113" fill="#e55"/><rect x="114" fill="#e33"/><rect x="115" width="2" fill="#e65"/><rect x="117" fill="#e77"/><rect x="118" fill="#e98"/><rect x="119" fill="#e44"/><rect x="120" fill="#e33"/><rect x="121" fill="#e55"/><rect x="122" fill="#e33"/><rect x="123" fill="#e44"/><rect x="124" fill="#e76"/><rect x="125" fill="#e44"/><rect x="126" fill="#e77"/><rect x="127" fill="#e65"/><rect x="128" fill="#e77"/><rect x="129" fill="#e44"/><rect x="130" width="2" fill="#e66"/><rect x="132" fill="#e88"/><rect x="133" fill="#e76"/><rect x="134" fill="#e99"/><rect x="135" width="2" fill="#e65"/><rect x="137" fill="#e44"/><rect x="138" fill="#e55"/><rect x="139" fill="#e54"/><rect x="140" width="2" fill="#e66"/><rect x="142" fill="#e77"/><rect x="143" fill="#e66"/><rect x="144" fill="#e77"/><rect x="145" fill="#eaa"/><rect x="146" fill="#e87"/><rect x="147" fill="#e65"/><rect x="148" fill="#e44"/><rect x="149" fill="#e55"/></g><g transform="translate(0,24)"><rect x="0" fill="#eef"/><rect x="1" fill="#fcc"/><rect x="2" fill="#fbb"/><rect x="3" fill="#fed"/><rect x="4" fill="#eef"/><rect x="5" fill="#fee"/><rect x="6" fill="#fbb"/><rect x="7" fill="#fba"/><rect x="8" fill="#fee"/><rect x="9" fill="#cce"/><rect x="10" fill="#ede"/><rect x="11" width="3" fill="#fbb"/><rect x="14" fill="#fdd"/><rect x="15" fill="#fff"/><rect x="16" fill="#faa"/><rect x="17" fill="#cbe"/><rect x="18" fill="#dde"/><rect x="19" fill="#cce"/><rect x="20" fill="#bbd"/><rect x="21" fill="#bbe"/><rect x="22" width="2" fill="#dde"/><rect x="24" fill="#dce"/><rect x="25" fill="#dde"/><rect x="26" fill="#cbe"/><rect x="27" width="2" fill="#bbd"/><rect x="29" fill="#bad"/><rect x="30" fill="#bbd"/><rect x="31" fill="#dce"/><rect x="32" fill="#cbe"/><rect x="33" fill="#dde"/><rect x="34" fill="#ede"/><rect x="35" fill="#dce"/><rect x="36" fill="#eef"/><rect x="37" width="2" fill="#aad"/><rect x="39" fill="#bbd"/><rect x="40" fill="#dde"/><rect x="41" fill="#bad"/><rect x="42" fill="#cce"/><rect x="43" fill="#cbe"/><rect x="44" fill="#cce"/><rect x="45" fill="#bbe"/><rect x="46" fill="#dce"/><rect x="47" fill="#aad"/><rect x="48" fill="#fff"/><rect x="49" fill="#cbe"/><rect x="50" fill="#bad"/><rect x="51" width="2" fill="#dde"/><rect x="53" fill="#99d"/><rect x="54" fill="#dde"/><rect x="55" fill="#88c"/><rect x="56" fill="#bbd"/><rect x="57" fill="#cce"/><rect x="58" fill="#cbe"/><rect x="59" fill="#aad"/><rect x="60" fill="#cce"/><rect x="61" fill="#aad"/><rect x="62" fill="#dce"/><rect x="63" fill="#bbd"/><rect x="64" fill="#cbe"/><rect x="65" fill="#bbd"/><rect x="66" fill="#cbe"/><rect x="67" width="2" fill="#bbd"/><rect x="69" fill="#88c"/><rect x="70" fill="#aad"/><rect x="71" fill="#98c"/><rect x="72" fill="#aad"/><rect x="73" width="2" fill="#cbe"/><rect x="75" fill="#a9d"/><rect x="76" fill="#aad"/><rect x="77" fill="#bbd"/><rect x="78" fill="#aad"/><rect x="79" fill="#bbd"/><rect x="80" fill="#cce"/><rect x="81" fill="#aad"/><rect x="82" fill="#99c"/><rect x="83" fill="#cce"/><rect x="84" fill="#bbd"/><rect x="85" fill="#a9d"/><rect x="86" fill="#e77"/><rect x="87" fill="#fed"/><rect x="88" width="2" fill="#e76"/><rect x="90" fill="#e88"/><rect x="91" fill="#fcb"/><rect x="92" fill="#fcc"/><rect x="93" fill="#fee"/><rect x="94" fill="#e98"/><rect x="95" fill="#e99"/><rect x="96" fill="#fdd"/><rect x="97" fill="#e87"/><rect x="98" fill="#e77"/><rect x="99" fill="#ea9"/><rect x="100" fill="#fbb"/><rect x="101" fill="#e88"/><rect x="102" width="2" fill="#fbb"/><rect x="104" fill="#fba"/><rect x="105" fill="#fcb"/><rect x="106" fill="#ea9"/><rect x="107" fill="#e98"/><rect x="108" fill="#e55"/><rect x="109" fill="#faa"/><rect x="110" fill="#e98"/><rect x="111" fill="#faa"/><rect x="112" fill="#e87"/><rect x="113" fill="#fcc"/><rect x="114" fill="#e98"/><rect x="115" fill="#e55"/><rect x="116" fill="#e66"/><rect x="117" fill="#fdd"/><rect x="118" fill="#fbb"/><rect x="119" fill="#e77"/><rect x="120" fill="#e88"/><rect x="121" fill="#e66"/><rect x="122" fill="#eaa"/><rect x="123" fill="#e54"/><rect x="124" width="2" fill="#fcc"/><rect x="126" fill="#fee"/><rect x="127" fill="#e66"/><rect x="128" fill="#fba"/><rect x="129" fill="#e99"/><rect x="130" fill="#faa"/><rect x="131" fill="#fbb"/><rect x="132" fill="#fcb"/><rect x="133" fill="#faa"/><rect x="134" fill="#fcc"/><rect x="135" fill="#fcb"/><rect x="136" fill="#e76"/><rect x="137" fill="#e88"/><rect x="138" width="2" fill="#e77"/><rect x="140" fill="#fba"/><rect x="141" fill="#e87"/><rect x="142" fill="#e66"/><rect x="143" fill="#fba"/><rect x="144" fill="#e87"/><rect x="145" width="2" fill="#eef"/><rect x="147" fill="#fbb"/><rect x="148" fill="#fba"/><rect x="149" fill="#fcc"/></g><g transform="translate(0,25)"><rect x="0" fill="#dde"/><rect x="1" fill="#fdd"/><rect x="2" fill="#fee"/><rect x="3" fill="#eef"/><rect x="4" fill="#dce"/><rect x="5" fill="#ede"/><rect x="6" width="2" fill="#fee"/><rect x="8" width="3" fill="#eef"/><rect x="11" fill="#fdd"/><rect x="12" width="2" fill="#fee"/><rect x="14" width="2" fill="#eef"/><rect x="16" fill="#fcc"/><rect x="17" width="3" fill="#ede"/><rect x="20" width="2" fill="#fee"/><rect x="22" fill="#fdd"/><rect x="23" fill="#ede"/><rect x="24" fill="#fff"/><rect x="25" fill="#fdc"/><rect x="26" width="2" fill="#fff"/><rect x="28" fill="#eef"/><rect x="29" fill="#fcc"/><rect x="30" fill="#eef"/><rect x="31" fill="#fff"/><rect x="32" fill="#dde"/><rect x="33" fill="#fee"/><rect x="34" fill="#eef"/><rect x="35" fill="#fee"/><rect x="36" fill="#fbb"/><rect x="37" width="2" fill="#fff"/><rect x="39" fill="#dce"/><rect x="40" fill="#eef"/><rect x="41" fill="#fff"/><rect x="42" fill="#eef"/><rect x="43" fill="#fff"/><rect x="44" fill="#edf"/><rect x="45" fill="#eef"/><rect x="46" width="2" fill="#fee"/><rect x="48" fill="#fff"/><rect x="49" fill="#dde"/><rect x="50" fill="#fff"/><rect x="51" fill="#eef"/><rect x="52" fill="#fdd"/><rect x="53" fill="#ede"/><rect x="54" width="2" fill="#fee"/><rect x="56" fill="#fdd"/><rect x="57" fill="#eef"/><rect x="58" fill="#fed"/><rect x="59" fill="#fdd"/><rect x="60" fill="#fdc"/><rect x="61" fill="#fee"/><rect x="62" fill="#fbb"/><rect x="63" fill="#eef"/><rect x="64" width="2" fill="#fee"/><rect x="66" fill="#fdd"/><rect x="67" fill="#fee"/><rect x="68" fill="#fff"/><rect x="69" fill="#dde"/><rect x="70" fill="#eef"/><rect x="71" fill="#ede"/><rect x="72" width="5" fill="#fee"/><rect x="77" fill="#fef"/><rect x="78" width="3" fill="#fdd"/><rect x="81" fill="#edf"/><rect x="82" fill="#fee"/><rect x="83" fill="#fdc"/><rect x="84" fill="#fee"/><rect x="85" fill="#fcc"/><rect x="86" width="2" fill="#e98"/><rect x="88" fill="#e65"/><rect x="89" fill="#e87"/><rect x="90" fill="#e98"/><rect x="91" fill="#e99"/><rect x="92" fill="#dde"/><rect x="93" fill="#fba"/><rect x="94" fill="#e66"/><rect x="95" fill="#e76"/><rect x="96" fill="#e33"/><rect x="97" fill="#e87"/><rect x="98" fill="#e77"/><rect x="99" fill="#e98"/><rect x="100" fill="#fbb"/><rect x="101" fill="#ea9"/><rect x="102" fill="#e77"/><rect x="103" fill="#e87"/><rect x="104" fill="#eef"/><rect x="105" fill="#e88"/><rect x="106" fill="#e77"/><rect x="107" fill="#e76"/><rect x="108" fill="#ea9"/><rect x="109" fill="#e99"/><rect x="110" fill="#e88"/><rect x="111" fill="#fbb"/><rect x="112" fill="#fcb"/><rect x="113" fill="#e77"/><rect x="114" fill="#e99"/><rect x="115" fill="#e87"/><rect x="116" fill="#fcc"/><rect x="117" fill="#fbb"/><rect x="118" fill="#e76"/><rect x="119" fill="#e87"/><rect x="120" width="3" fill="#e88"/><rect x="123" fill="#e66"/><rect x="124" fill="#fbb"/><rect x="125" fill="#e66"/><rect x="126" fill="#fbb"/><rect x="127" fill="#faa"/><rect x="128" fill="#ea9"/><rect x="129" fill="#e98"/><rect x="130" fill="#e77"/><rect x="131" fill="#fdc"/><rect x="132" fill="#faa"/><rect x="133" fill="#e54"/><rect x="134" fill="#fcb"/><rect x="135" fill="#eaa"/><rect x="136" fill="#e88"/><rect x="137" fill="#e66"/><rect x="138" fill="#fbb"/><rect x="139" fill="#e87"/><rect x="140" fill="#e99"/><rect x="141" fill="#e55"/><rect x="142" fill="#e98"/><rect x="143" fill="#e44"/><rect x="144" fill="#fcb"/><rect x="145" fill="#e88"/><rect x="146" fill="#fdd"/><rect x="147" fill="#e88"/><rect x="148" fill="#eaa"/><rect x="149" fill="#ea9"/></g><g transform="translate(0,26)"><rect x="0" fill="#fbb"/><rect x="1" fill="#fee"/><rect x="2" fill="#e77"/><rect x="3" fill="#faa"/><rect x="4" fill="#fee"/><rect x="5" fill="#fed"/><rect x="6" fill="#fcc"/><rect x="7" fill="#fee"/><rect x="8" fill="#fed"/><rect x="9" fill="#fff"/><rect x="10" fill="#dde"/><rect x="11" fill="#fdd"/><rect x="12" fill="#faa"/><rect x="13" fill="#fcc"/><rect x="14" fill="#fdd"/><rect x="15" fill="#fee"/><rect x="16" fill="#fcb"/><rect x="17" width="2" fill="#fbb"/><rect x="19" fill="#eef"/><rect x="20" fill="#fbb"/><rect x="21" fill="#eef"/><rect x="22" fill="#fbb"/><rect x="23" fill="#eef"/><rect x="24" fill="#fdd"/><rect x="25" fill="#faa"/><rect x="26" width="3" fill="#fdd"/><rect x="29" width="2" fill="#fee"/><rect x="31" fill="#fbb"/><rect x="32" fill="#fff"/><rect x="33" width="2" fill="#eef"/><rect x="35" fill="#fee"/><rect x="36" fill="#ea9"/><rect x="37" fill="#fcc"/><rect x="38" fill="#edf"/><rect x="39" fill="#eef"/><rect x="40" fill="#fdd"/><rect x="41" fill="#e99"/><rect x="42" fill="#dde"/><rect x="43" fill="#fef"/><rect x="44" fill="#fbb"/><rect x="45" fill="#fff"/><rect x="46" fill="#faa"/><rect x="47" fill="#fff"/><rect x="48" fill="#fdd"/><rect x="49" fill="#fee"/><rect x="50" fill="#ea9"/><rect x="51" width="2" fill="#fcc"/><rect x="53" fill="#fee"/><rect x="54" fill="#ea9"/><rect x="55" fill="#fcc"/><rect x="56" width="2" fill="#fbb"/><rect x="58" fill="#fdd"/><rect x="59" fill="#dde"/><rect x="60" fill="#faa"/><rect x="61" fill="#eaa"/><rect x="62" fill="#e88"/><rect x="63" fill="#fee"/><rect x="64" fill="#eef"/><rect x="65" fill="#fcc"/><rect x="66" fill="#ffe"/><rect x="67" fill="#dce"/><rect x="68" fill="#fdd"/><rect x="69" fill="#eef"/><rect x="70" fill="#ffe"/><rect x="71" fill="#fef"/><rect x="72" fill="#fbb"/><rect x="73" fill="#ea9"/><rect x="74" fill="#fbb"/><rect x="75" fill="#ea9"/><rect x="76" fill="#fee"/><rect x="77" fill="#e87"/><rect x="78" fill="#dde"/><rect x="79" fill="#fba"/><rect x="80" fill="#e98"/><rect x="81" fill="#fff"/><rect x="82" width="3" fill="#fee"/><rect x="85" fill="#fcb"/><rect x="86" fill="#e55"/><rect x="87" fill="#e76"/><rect x="88" fill="#e44"/><rect x="89" width="2" fill="#e55"/><rect x="91" fill="#e44"/><rect x="92" fill="#e65"/><rect x="93" width="2" fill="#e33"/><rect x="95" fill="#e44"/><rect x="96" fill="#e54"/><rect x="97" width="2" fill="#e44"/><rect x="99" width="2" fill="#e55"/><rect x="101" fill="#e44"/><rect x="102" width="3" fill="#e55"/><rect x="105" fill="#e65"/><rect x="106" fill="#e44"/><rect x="107" fill="#e65"/><rect x="108" fill="#e33"/><rect x="109" width="2" fill="#e44"/><rect x="111" width="2" fill="#e33"/><rect x="113" fill="#e55"/><rect x="114" width="3" fill="#e44"/><rect x="117" fill="#e55"/><rect x="118" width="2" fill="#e44"/><rect x="120" fill="#e22"/><rect x="121" fill="#e44"/><rect x="122" fill="#e33"/><rect x="123" fill="#e44"/><rect x="124" fill="#e33"/><rect x="125" fill="#e44"/><rect x="126" fill="#e54"/><rect x="127" fill="#e55"/><rect x="128" width="3" fill="#e44"/><rect x="131" fill="#e22"/><rect x="132" width="2" fill="#e55"/><rect x="134" fill="#e66"/><rect x="135" fill="#e54"/><rect x="136" width="2" fill="#e55"/><rect x="138" width="3" fill="#e44"/><rect x="141" fill="#e33"/><rect x="142" width="6" fill="#e55"/><rect x="148" fill="#e33"/><rect x="149" fill="#e65"/></g><g transform="translate(0,27)"><rect x="0" fill="#fdd"/><rect x="1" fill="#aad"/><rect x="2" fill="#fdd"/><rect x="3" fill="#aad"/><rect x="4" width="2" fill="#bbd"/><rect x="6" fill="#eef"/><rect x="7" fill="#fee"/><rect x="8" fill="#cbe"/><rect x="9" fill="#bbd"/><rect x="10" width="2" fill="#cce"/><rect x="12" width="3" fill="#dde"/><rect x="15" fill="#fff"/><rect x="16" fill="#fef"/><rect x="17" fill="#a9d"/><rect x="18" fill="#cce"/><rect x="19" fill="#eef"/><rect x="20" fill="#cbe"/><rect x="21" fill="#eef"/><rect x="22" width="2" fill="#bbd"/><rect x="24" fill="#eef"/><rect x="25" fill="#bad"/><rect x="26" fill="#edf"/><rect x="27" fill="#98c"/><rect x="28" fill="#a9d"/><rect x="29" fill="#fff"/><rect x="30" fill="#bbd"/><rect x="31" fill="#cce"/><rect x="32" fill="#dde"/><rect x="33" fill="#cbe"/><rect x="34" fill="#bad"/><rect x="35" fill="#dde"/><rect x="36" fill="#fdd"/><rect x="37" fill="#ede"/><rect x="38" width="4" fill="#eef"/><rect x="42" fill="#fbb"/><rect x="43" fill="#bbd"/><rect x="44" fill="#eef"/><rect x="45" fill="#bbd"/><rect x="46" fill="#fbb"/><rect x="47" fill="#dde"/><rect x="48" fill="#fcc"/><rect x="49" fill="#ede"/><rect x="50" fill="#fcc"/><rect x="51" fill="#cce"/><rect x="52" fill="#fdd"/><rect x="53" fill="#a9d"/><rect x="54" width="2" fill="#fee"/><rect x="56" fill="#fdd"/><rect x="57" fill="#fee"/><rect x="58" fill="#aad"/><rect x="59" fill="#dde"/><rect x="60" fill="#ede"/><rect x="61" fill="#fdc"/><rect x="62" fill="#fdd"/><rect x="63" fill="#eef"/><rect x="64" fill="#fdd"/><rect x="65" fill="#fff"/><rect x="66" fill="#bbd"/><rect x="67" fill="#cce"/><rect x="68" fill="#a9d"/><rect x="69" fill="#ffe"/><rect x="70" fill="#cce"/><rect x="71" fill="#bad"/><rect x="72" fill="#fff"/><rect x="73" width="2" fill="#eef"/><rect x="75" fill="#fcc"/><rect x="76" fill="#aad"/><rect x="77" fill="#bbd"/><rect x="78" fill="#dde"/><rect x="79" fill="#ede"/><rect x="80" fill="#fcc"/><rect x="81" fill="#cce"/><rect x="82" fill="#ede"/><rect x="83" fill="#faa"/><rect x="84" fill="#bbd"/><rect x="85" fill="#cbe"/><rect x="86" fill="#faa"/><rect x="87" fill="#fcc"/><rect x="88" fill="#e99"/><rect x="89" fill="#e87"/><rect x="90" fill="#fbb"/><rect x="91" fill="#e87"/><rect x="92" fill="#e98"/><rect x="93" width="2" fill="#ea9"/><rect x="95" fill="#e99"/><rect x="96" fill="#fcb"/><rect x="97" fill="#ea9"/><rect x="98" fill="#fdd"/><rect x="99" fill="#e76"/><rect x="100" fill="#fdd"/><rect x="101" fill="#fba"/><rect x="102" fill="#ea9"/><rect x="103" fill="#e77"/><rect x="104" fill="#fee"/><rect x="105" fill="#e88"/><rect x="106" fill="#ea9"/><rect x="107" fill="#e65"/><rect x="108" fill="#e98"/><rect x="109" fill="#fcc"/><rect x="110" fill="#eaa"/><rect x="111" fill="#faa"/><rect x="112" width="2" fill="#fcb"/><rect x="114" fill="#ea9"/><rect x="115" fill="#e66"/><rect x="116" fill="#e88"/><rect x="117" fill="#e99"/><rect x="118" fill="#e87"/><rect x="119" fill="#e88"/><rect x="120" fill="#e98"/><rect x="121" fill="#e77"/><rect x="122" fill="#fee"/><rect x="123" fill="#e76"/><rect x="124" fill="#e88"/><rect x="125" fill="#ea9"/><rect x="126" fill="#e98"/><rect x="127" fill="#fee"/><rect x="128" fill="#e87"/><rect x="129" fill="#e99"/><rect x="130" fill="#ea9"/><rect x="131" fill="#eaa"/><rect x="132" fill="#fdd"/><rect x="133" fill="#ea9"/><rect x="134" fill="#fbb"/><rect x="135" fill="#fba"/><rect x="136" fill="#e99"/><rect x="137" width="2" fill="#fbb"/><rect x="139" width="2" fill="#e98"/><rect x="141" fill="#fcc"/><rect x="142" fill="#e88"/><rect x="143" fill="#e77"/><rect x="144" fill="#faa"/><rect x="145" fill="#e87"/><rect x="146" fill="#eef"/><rect x="147" fill="#e66"/><rect x="148" width="2" fill="#ea9"/></g><g transform="translate(0,28)"><rect x="0" fill="#cce"/><rect x="1" fill="#e88"/><rect x="2" fill="#fee"/><rect x="3" fill="#fdd"/><rect x="4" fill="#bbd"/><rect x="5" fill="#fef"/><rect x="6" fill="#fdc"/><rect x="7" fill="#fdd"/><rect x="8" fill="#dce"/><rect x="9" fill="#fcc"/><rect x="10" fill="#dde"/><rect x="11" width="2" fill="#fdd"/><rect x="13" fill="#fee"/><rect x="14" fill="#fdd"/><rect x="15" fill="#fee"/><rect x="16" fill="#fcb"/><rect x="17" fill="#fdd"/><rect x="18" fill="#eef"/><rect x="19" fill="#fee"/><rect x="20" fill="#fbb"/><rect x="21" fill="#fdd"/><rect x="22" fill="#fee"/><rect x="23" fill="#eef"/><rect x="24" fill="#fba"/><rect x="25" fill="#fbb"/><rect x="26" fill="#fcb"/><rect x="27" fill="#fdd"/><rect x="28" fill="#cce"/><rect x="29" fill="#fdd"/><rect x="30" fill="#eef"/><rect x="31" fill="#dde"/><rect x="32" fill="#cce"/><rect x="33" fill="#fee"/><rect x="34" fill="#fba"/><rect x="35" fill="#fdd"/><rect x="36" fill="#fee"/><rect x="37" width="2" fill="#fbb"/><rect x="39" fill="#fee"/><rect x="40" fill="#eef"/><rect x="41" fill="#fee"/><rect x="42" fill="#e99"/><rect x="43" fill="#fbb"/><rect x="44" fill="#e55"/><rect x="45" fill="#bbd"/><rect x="46" fill="#dde"/><rect x="47" fill="#edf"/><rect x="48" fill="#fee"/><rect x="49" fill="#ede"/><rect x="50" fill="#fcb"/><rect x="51" fill="#fbb"/><rect x="52" fill="#ede"/><rect x="53" fill="#fed"/><rect x="54" fill="#fbb"/><rect x="55" fill="#fee"/><rect x="56" fill="#ea9"/><rect x="57" fill="#fba"/><rect x="58" fill="#eef"/><rect x="59" fill="#fff"/><rect x="60" fill="#fdc"/><rect x="61" fill="#ede"/><rect x="62" fill="#fdd"/><rect x="63" fill="#fcc"/><rect x="64" fill="#fdc"/><rect x="65" fill="#fed"/><rect x="66" fill="#e88"/><rect x="67" fill="#fcc"/><rect x="68" fill="#fcb"/><rect x="69" fill="#dde"/><rect x="70" fill="#fdc"/><rect x="71" fill="#eef"/><rect x="72" fill="#fee"/><rect x="73" fill="#fdd"/><rect x="74" fill="#eef"/><rect x="75" fill="#fcb"/><rect x="76" fill="#eef"/><rect x="77" fill="#fbb"/><rect x="78" fill="#eef"/><rect x="79" fill="#faa"/><rect x="80" fill="#fbb"/><rect x="81" fill="#fcc"/><rect x="82" fill="#dce"/><rect x="83" fill="#fba"/><rect x="84" width="2" fill="#fcc"/><rect x="86" fill="#e77"/><rect x="87" fill="#ea9"/><rect x="88" fill="#fcb"/><rect x="89" fill="#e55"/><rect x="90" fill="#ea9"/><rect x="91" fill="#e98"/><rect x="92" fill="#e76"/><rect x="93" fill="#fee"/><rect x="94" fill="#e98"/><rect x="95" width="2" fill="#e66"/><rect x="97" fill="#e77"/><rect x="98" fill="#e98"/><rect x="99" fill="#e66"/><rect x="100" fill="#fcb"/><rect x="101" fill="#e87"/><rect x="102" fill="#e55"/><rect x="103" width="2" fill="#ea9"/><rect x="105" fill="#e98"/><rect x="106" fill="#ea9"/><rect x="107" fill="#fbb"/><rect x="108" fill="#e87"/><rect x="109" fill="#eaa"/><rect x="110" fill="#e99"/><rect x="111" width="2" fill="#e77"/><rect x="113" fill="#e98"/><rect x="114" fill="#e66"/><rect x="115" fill="#e77"/><rect x="116" fill="#e44"/><rect x="117" fill="#e87"/><rect x="118" fill="#e76"/><rect x="119" fill="#ea9"/><rect x="120" width="2" fill="#e33"/><rect x="122" fill="#e66"/><rect x="123" fill="#e44"/><rect x="124" fill="#e98"/><rect x="125" fill="#e65"/><rect x="126" fill="#e88"/><rect x="127" width="2" fill="#e76"/><rect x="129" fill="#e65"/><rect x="130" fill="#e98"/><rect x="131" width="2" fill="#e99"/><rect x="133" fill="#e44"/><rect x="134" fill="#eaa"/><rect x="135" fill="#e77"/><rect x="136" fill="#e54"/><rect x="137" fill="#e98"/><rect x="138" fill="#ea9"/><rect x="139" fill="#e76"/><rect x="140" fill="#e87"/><rect x="141" fill="#e98"/><rect x="142" fill="#e44"/><rect x="143" fill="#e55"/><rect x="144" fill="#e87"/><rect x="145" fill="#fba"/><rect x="146" fill="#e76"/><rect x="147" fill="#e44"/><rect x="148" width="2" fill="#e55"/></g><g transform="translate(0,29)"><rect x="0" fill="#dde"/><rect x="1" fill="#eef"/><rect x="2" fill="#e99"/><rect x="3" fill="#fcc"/><rect x="4" fill="#fff"/><rect x="5" fill="#fee"/><rect x="6" fill="#ea9"/><rect x="7" fill="#fbb"/><rect x="8" fill="#fcc"/><rect x="9" fill="#dce"/><rect x="10" fill="#fcc"/><rect x="11" fill="#fbb"/><rect x="12" fill="#e88"/><rect x="13" fill="#dde"/><rect x="14" fill="#fee"/><rect x="15" fill="#fef"/><rect x="16" fill="#ea9"/><rect x="17" fill="#fee"/><rect x="18" fill="#fdd"/><rect x="19" width="2" fill="#fcc"/><rect x="21" fill="#fdd"/><rect x="22" fill="#fbb"/><rect x="23" fill="#e99"/><rect x="24" fill="#fcc"/><rect x="25" fill="#fee"/><rect x="26" fill="#e77"/><rect x="27" fill="#eaa"/><rect x="28" fill="#e98"/><rect x="29" fill="#fdd"/><rect x="30" fill="#eef"/><rect x="31" fill="#fee"/><rect x="32" fill="#fff"/><rect x="33" fill="#dde"/><rect x="34" fill="#fcb"/><rect x="35" width="2" fill="#dde"/><rect x="37" fill="#fdd"/><rect x="38" fill="#fff"/><rect x="39" fill="#fee"/><rect x="40" fill="#dde"/><rect x="41" fill="#eef"/><rect x="42" fill="#cbe"/><rect x="43" fill="#eef"/><rect x="44" fill="#fee"/><rect x="45" fill="#e88"/><rect x="46" fill="#faa"/><rect x="47" fill="#eef"/><rect x="48" fill="#e77"/><rect x="49" fill="#fdd"/><rect x="50" fill="#dce"/><rect x="51" fill="#cce"/><rect x="52" width="2" fill="#eef"/><rect x="54" fill="#fcb"/><rect x="55" fill="#fff"/><rect x="56" fill="#fdd"/><rect x="57" fill="#fff"/><rect x="58" fill="#fcc"/><rect x="59" fill="#fcb"/><rect x="60" fill="#fef"/><rect x="61" fill="#e98"/><rect x="62" fill="#fdd"/><rect x="63" fill="#fee"/><rect x="64" fill="#e87"/><rect x="65" fill="#fba"/><rect x="66" fill="#fcc"/><rect x="67" fill="#cce"/><rect x="68" fill="#fcc"/><rect x="69" width="2" fill="#fff"/><rect x="71" fill="#faa"/><rect x="72" fill="#fee"/><rect x="73" fill="#e76"/><rect x="74" fill="#fcb"/><rect x="75" fill="#fbb"/><rect x="76" fill="#fdd"/><rect x="77" fill="#fcc"/><rect x="78" fill="#e98"/><rect x="79" fill="#fbb"/><rect x="80" fill="#fee"/><rect x="81" fill="#eef"/><rect x="82" fill="#faa"/><rect x="83" fill="#e99"/><rect x="84" fill="#fef"/><rect x="85" fill="#fcc"/><rect x="86" fill="#e55"/><rect x="87" fill="#e66"/><rect x="88" fill="#e55"/><rect x="89" fill="#e44"/><rect x="90" fill="#e77"/><rect x="91" width="2" fill="#e66"/><rect x="93" fill="#e54"/><rect x="94" fill="#e66"/><rect x="95" fill="#e33"/><rect x="96" fill="#e44"/><rect x="97" fill="#e33"/><rect x="98" fill="#e66"/><rect x="99" fill="#e77"/><rect x="100" fill="#ea9"/><rect x="101" fill="#e65"/><rect x="102" fill="#e22"/><rect x="103" fill="#e66"/><rect x="104" fill="#e87"/><rect x="105" fill="#e65"/><rect x="106" fill="#e66"/><rect x="107" fill="#e65"/><rect x="108" fill="#e44"/><rect x="109" fill="#e66"/><rect x="110" fill="#e76"/><rect x="111" fill="#e66"/><rect x="112" fill="#e43"/><rect x="113" fill="#e99"/><rect x="114" fill="#e66"/><rect x="115" fill="#e44"/><rect x="116" fill="#e55"/><rect x="117" fill="#e66"/><rect x="118" width="2" fill="#e44"/><rect x="120" fill="#e43"/><rect x="121" fill="#e55"/><rect x="122" width="2" fill="#e44"/><rect x="124" width="3" fill="#e65"/><rect x="127" fill="#e66"/><rect x="128" fill="#e77"/><rect x="129" fill="#e44"/><rect x="130" fill="#e22"/><rect x="131" fill="#e55"/><rect x="132" fill="#e88"/><rect x="133" fill="#e54"/><rect x="134" fill="#e65"/><rect x="135" fill="#e66"/><rect x="136" fill="#e33"/><rect x="137" fill="#e54"/><rect x="138" fill="#e22"/><rect x="139" width="2" fill="#e76"/><rect x="141" fill="#e65"/><rect x="142" fill="#e55"/><rect x="143" fill="#e76"/><rect x="144" fill="#e65"/><rect x="145" width="2" fill="#e87"/><rect x="147" fill="#e54"/><rect x="148" fill="#e44"/><rect x="149" fill="#e55"/></g><g transform="translate(0,30)"><rect x="0" fill="#cce"/><rect x="1" width="2" fill="#fdd"/><rect x="3" fill="#eef"/><rect x="4" fill="#ede"/><rect x="5" fill="#eef"/><rect x="6" fill="#ea9"/><rect x="7" fill="#faa"/><rect x="8" fill="#eef"/><rect x="9" fill="#fdd"/><rect x="10" width="2" fill="#eef"/><rect x="12" fill="#fee"/><rect x="13" fill="#fdc"/><rect x="14" fill="#eef"/><rect x="15" fill="#dde"/><rect x="16" fill="#eef"/><rect x="17" fill="#dce"/><rect x="18" fill="#fdd"/><rect x="19" fill="#fff"/><rect x="20" fill="#cce"/><rect x="21" fill="#faa"/><rect x="22" fill="#ede"/><rect x="23" fill="#eef"/><rect x="24" fill="#fff"/><rect x="25" width="2" fill="#fee"/><rect x="27" fill="#fff"/><rect x="28" fill="#fef"/><rect x="29" fill="#fcb"/><rect x="30" fill="#cce"/><rect x="31" fill="#eef"/><rect x="32" fill="#cce"/><rect x="33" width="3" fill="#eef"/><rect x="36" fill="#e99"/><rect x="37" fill="#dde"/><rect x="38" fill="#fdd"/><rect x="39" fill="#fff"/><rect x="40" fill="#eef"/><rect x="41" fill="#fff"/><rect x="42" fill="#fdd"/><rect x="43" width="3" fill="#eef"/><rect x="46" fill="#bad"/><rect x="47" fill="#fee"/><rect x="48" fill="#fcc"/><rect x="49" fill="#fee"/><rect x="50" fill="#dde"/><rect x="51" fill="#eef"/><rect x="52" fill="#fdc"/><rect x="53" fill="#fee"/><rect x="54" fill="#fff"/><rect x="55" fill="#eef"/><rect x="56" fill="#ea9"/><rect x="57" fill="#fdd"/><rect x="58" fill="#fcb"/><rect x="59" fill="#cbe"/><rect x="60" fill="#fdd"/><rect x="61" fill="#eef"/><rect x="62" fill="#fee"/><rect x="63" fill="#fcc"/><rect x="64" fill="#dde"/><rect x="65" fill="#ede"/><rect x="66" fill="#eef"/><rect x="67" fill="#fef"/><rect x="68" width="2" fill="#fee"/><rect x="70" fill="#fdd"/><rect x="71" fill="#fee"/><rect x="72" fill="#ea9"/><rect x="73" fill="#faa"/><rect x="74" fill="#fcc"/><rect x="75" fill="#fee"/><rect x="76" fill="#fba"/><rect x="77" fill="#fff"/><rect x="78" fill="#fcc"/><rect x="79" width="2" fill="#fee"/><rect x="81" fill="#fed"/><rect x="82" fill="#fee"/><rect x="83" fill="#fcb"/><rect x="84" fill="#fcc"/><rect x="85" fill="#fdd"/><rect x="86" width="2" fill="#e77"/><rect x="88" fill="#e22"/><rect x="89" fill="#e76"/><rect x="90" fill="#ea9"/><rect x="91" fill="#e66"/><rect x="92" fill="#e88"/><rect x="93" fill="#e55"/><rect x="94" fill="#e66"/><rect x="95" fill="#e87"/><rect x="96" fill="#e65"/><rect x="97" fill="#e87"/><rect x="98" fill="#e65"/><rect x="99" fill="#e44"/><rect x="100" fill="#e55"/><rect x="101" fill="#e44"/><rect x="102" fill="#e65"/><rect x="103" fill="#e55"/><rect x="104" fill="#e77"/><rect x="105" fill="#ea9"/><rect x="106" fill="#e44"/><rect x="107" fill="#e87"/><rect x="108" fill="#e66"/><rect x="109" fill="#fba"/><rect x="110" fill="#e88"/><rect x="111" fill="#eaa"/><rect x="112" fill="#e98"/><rect x="113" fill="#fba"/><rect x="114" fill="#e87"/><rect x="115" fill="#e55"/><rect x="116" fill="#e44"/><rect x="117" fill="#e87"/><rect x="118" fill="#e66"/><rect x="119" fill="#e44"/><rect x="120" fill="#e55"/><rect x="121" fill="#e33"/><rect x="122" fill="#e76"/><rect x="123" fill="#e55"/><rect x="124" fill="#e66"/><rect x="125" fill="#e32"/><rect x="126" fill="#ea9"/><rect x="127" fill="#e55"/><rect x="128" fill="#e76"/><rect x="129" fill="#e55"/><rect x="130" fill="#e87"/><rect x="131" fill="#fbb"/><rect x="132" width="2" fill="#e66"/><rect x="134" width="2" fill="#e98"/><rect x="136" fill="#e88"/><rect x="137" fill="#e77"/><rect x="138" fill="#e22"/><rect x="139" fill="#e76"/><rect x="140" fill="#faa"/><rect x="141" fill="#e55"/><rect x="142" fill="#e87"/><rect x="143" fill="#e98"/><rect x="144" fill="#e66"/><rect x="145" fill="#e76"/><rect x="146" fill="#e87"/><rect x="147" fill="#e44"/><rect x="148" fill="#e43"/><rect x="149" fill="#fbb"/></g><g transform="translate(0,31)"><rect x="0" fill="#eef"/><rect x="1" fill="#fcb"/><rect x="2" fill="#fba"/><rect x="3" fill="#dde"/><rect x="4" fill="#bbd"/><rect x="5" fill="#ede"/><rect x="6" width="2" fill="#fdd"/><rect x="8" fill="#fee"/><rect x="9" width="3" fill="#eef"/><rect x="12" fill="#fdd"/><rect x="13" width="2" fill="#fbb"/><rect x="15" fill="#ede"/><rect x="16" fill="#faa"/><rect x="17" fill="#fff"/><rect x="18" fill="#dde"/><rect x="19" fill="#dce"/><rect x="20" fill="#fbb"/><rect x="21" width="2" fill="#fff"/><rect x="23" width="2" fill="#fdd"/><rect x="25" fill="#fcc"/><rect x="26" fill="#fee"/><rect x="27" fill="#fff"/><rect x="28" fill="#eef"/><rect x="29" fill="#fdc"/><rect x="30" fill="#dde"/><rect x="31" fill="#dce"/><rect x="32" fill="#fee"/><rect x="33" fill="#fdc"/><rect x="34" fill="#fdd"/><rect x="35" fill="#fee"/><rect x="36" fill="#fed"/><rect x="37" fill="#fff"/><rect x="38" fill="#e99"/><rect x="39" fill="#fef"/><rect x="40" fill="#fee"/><rect x="41" fill="#ede"/><rect x="42" fill="#eef"/><rect x="43" fill="#fcc"/><rect x="44" fill="#fdd"/><rect x="45" fill="#eef"/><rect x="46" fill="#fbb"/><rect x="47" fill="#fee"/><rect x="48" fill="#fbb"/><rect x="49" fill="#fef"/><rect x="50" fill="#fdc"/><rect x="51" width="2" fill="#fcc"/><rect x="53" fill="#dde"/><rect x="54" fill="#fdd"/><rect x="55" fill="#fff"/><rect x="56" fill="#fcc"/><rect x="57" fill="#fbb"/><rect x="58" fill="#fee"/><rect x="59" fill="#eef"/><rect x="60" fill="#fcc"/><rect x="61" fill="#fdc"/><rect x="62" width="2" fill="#fee"/><rect x="64" width="2" fill="#fdd"/><rect x="66" fill="#dde"/><rect x="67" fill="#dce"/><rect x="68" fill="#dde"/><rect x="69" fill="#cce"/><rect x="70" width="2" fill="#fdd"/><rect x="72" fill="#eef"/><rect x="73" fill="#ea9"/><rect x="74" fill="#fef"/><rect x="75" fill="#fee"/><rect x="76" fill="#e99"/><rect x="77" fill="#eef"/><rect x="78" fill="#fdc"/><rect x="79" fill="#fcb"/><rect x="80" fill="#ea9"/><rect x="81" fill="#fdd"/><rect x="82" fill="#fee"/><rect x="83" fill="#e98"/><rect x="84" fill="#fee"/><rect x="85" fill="#fdd"/><rect x="86" fill="#e54"/><rect x="87" fill="#e87"/><rect x="88" fill="#e44"/><rect x="89" fill="#e22"/><rect x="90" fill="#e33"/><rect x="91" fill="#e44"/><rect x="92" fill="#e66"/><rect x="93" fill="#e87"/><rect x="94" fill="#e77"/><rect x="95" width="2" fill="#e66"/><rect x="97" fill="#e65"/><rect x="98" fill="#e66"/><rect x="99" fill="#e33"/><rect x="100" fill="#e99"/><rect x="101" fill="#e66"/><rect x="102" fill="#e44"/><rect x="103" fill="#e77"/><rect x="104" fill="#e88"/><rect x="105" width="2" fill="#e66"/><rect x="107" fill="#e77"/><rect x="108" fill="#e44"/><rect x="109" fill="#e66"/><rect x="110" fill="#e99"/><rect x="111" fill="#e44"/><rect x="112" fill="#e99"/><rect x="113" fill="#e77"/><rect x="114" fill="#e87"/><rect x="115" fill="#e44"/><rect x="116" width="2" fill="#e55"/><rect x="118" width="2" fill="#e76"/><rect x="120" width="2" fill="#e55"/><rect x="122" fill="#e66"/><rect x="123" fill="#e33"/><rect x="124" fill="#e55"/><rect x="125" fill="#e22"/><rect x="126" fill="#e55"/><rect x="127" fill="#e66"/><rect x="128" fill="#e65"/><rect x="129" width="2" fill="#e44"/><rect x="131" fill="#e88"/><rect x="132" width="2" fill="#e77"/><rect x="134" fill="#e66"/><rect x="135" fill="#e55"/><rect x="136" fill="#e98"/><rect x="137" fill="#e76"/><rect x="138" fill="#e44"/><rect x="139" fill="#e99"/><rect x="140" width="2" fill="#e66"/><rect x="142" fill="#e76"/><rect x="143" fill="#e44"/><rect x="144" fill="#e55"/><rect x="145" fill="#e66"/><rect x="146" fill="#e55"/><rect x="147" fill="#e22"/><rect x="148" fill="#e44"/><rect x="149" fill="#e55"/></g></g>
<path d="M62.2,368.6 H138 M62.2,373.9 H99 M104,373.9 H138" stroke="#fff" stroke-width="0.8" opacity="0.85"/>
<rect x="41.5" y="255.2" width="19.1" height="5.6" fill="#fcfa9c"/>
<rect x="31.2" y="261.9" width="29.4" height="5.6" fill="#fcfa9c"/>
<rect x="40.8" y="268.5" width="19.8" height="5.6" fill="#fcfa9c"/>
<rect x="31.2" y="275.2" width="29.4" height="5.6" fill="#fcfa9c"/>
<rect x="31.2" y="308.5" width="29.4" height="5.6" fill="#fcfa9c"/>
<g transform="matrix(1.18,0,0,1,-10.69,0)" font-size="5.6" text-anchor="end" fill="#333"><text x="59.4" y="246.7">B2M</text><text x="59.4" y="253.4">FTH1</text><text x="59.4" y="260" fill="#9b993e">CST3</text><text x="59.4" y="266.7" fill="#9b993e">S100A11</text><text x="59.4" y="273.3" fill="#9b993e">CTSS</text><text x="59.4" y="280" fill="#9b993e">S100A10</text><text x="59.4" y="286.6">SERPINA1</text><text x="59.4" y="293.3">SAT1</text><text x="59.4" y="300">CEBPD</text><text x="59.4" y="306.6">S100A9</text><text x="59.4" y="313.3" fill="#9b993e">S100A12</text><text x="59.4" y="319.9">IFITM2</text><text x="59.4" y="326.6">S100A8</text><text x="59.4" y="333.2">HLA-DQB1</text><text x="59.4" y="339.9">FCN1</text><text x="59.4" y="346.5">IFITM3</text><text x="59.4" y="353.2">IFI6</text><text x="59.4" y="359.8">HLA-DPA1</text><text x="59.4" y="366.5">IFITM1</text><text x="59.4" y="373.1">AREG</text><text x="59.4" y="379.8">SCGB3A1</text><text x="59.4" y="386.4">KCNE5</text><text x="59.4" y="393.1">AZU1</text><text x="59.4" y="399.7">TKTL1</text><text x="59.4" y="406.4">RPS26</text><text x="59.4" y="413.1">CTSG</text><text x="59.4" y="419.7">CLEC11A</text><text x="59.4" y="426.4">RPS18</text><text x="59.4" y="433">ARMH1</text><text x="59.4" y="439.7">GRK2</text><text x="59.4" y="446.3">VAMP8</text><text x="59.4" y="453">RFLNB</text></g>
<rect x="62.2" y="232.6" width="114.7" height="3.7" fill="#f4766d"/>
<rect x="176.9" y="232.6" width="85" height="3.7" fill="#1fbfc4"/>
<text x="107.5" y="223" font-size="14" fill="#111" textLength="29.8" lengthAdjust="spacingAndGlyphs">CCR</text>
<text x="187.2" y="223" font-size="14.5" fill="#111" textLength="55.2" lengthAdjust="spacingAndGlyphs">Relapse</text>
<text x="89.7" y="231.8" font-size="9.5" fill="#111" textLength="63.2" lengthAdjust="spacingAndGlyphs">cluster−1−2</text>
<text x="195.8" y="231.8" font-size="9.5" fill="#111" textLength="48.2" lengthAdjust="spacingAndGlyphs">cluster−6</text>
<text x="272.8" y="275.6" font-size="8.6" fill="#111" textLength="24.4" lengthAdjust="spacingAndGlyphs">Gene</text>
<text x="272.8" y="285.8" font-size="8.6" fill="#111" textLength="50.9" lengthAdjust="spacingAndGlyphs">Expression</text>
<defs><linearGradient id="ge" x1="0" y1="0" x2="0" y2="1"><stop offset="0" stop-color="#ec2424"/><stop offset="0.25" stop-color="#f4968c"/><stop offset="0.5" stop-color="#fcfaff"/><stop offset="0.72" stop-color="#a89ed9"/><stop offset="1" stop-color="#4054ba"/></linearGradient></defs>
<rect x="274.4" y="288.7" width="11.2" height="46.8" fill="url(#ge)"/>
<text x="290.5" y="296.5" font-size="6.8" fill="#222">2</text>
<text x="290.5" y="306.2" font-size="6.8" fill="#222">1</text>
<text x="290.5" y="315.3" font-size="6.8" fill="#222">0</text>
<text x="290.2" y="325" font-size="6.8" fill="#222">−1</text>
<text x="290.2" y="334.1" font-size="6.8" fill="#222">−2</text>
<text x="272.8" y="352" font-size="8.6" fill="#111" textLength="36" lengthAdjust="spacingAndGlyphs">Identity</text>
<circle cx="277.3" cy="361.7" r="1.3" fill="#f4766d"/>
<circle cx="277.3" cy="371.3" r="1.3" fill="#1fbfc4"/>
<text x="287.9" y="364.1" font-size="7" fill="#222" textLength="47.4" lengthAdjust="spacingAndGlyphs">cluster−1−2</text>
<text x="287.9" y="373.7" font-size="7" fill="#222" textLength="35.8" lengthAdjust="spacingAndGlyphs">cluster−6</text>
<text x="329.5" y="248.5" font-size="20" font-weight="bold" fill="#000">d.</text>
<circle cx="446.5" cy="243.4" r="14.3" fill="none" stroke="#808080" stroke-width="0.6"/>
<circle cx="390.3" cy="283.5" r="7.5" fill="none" stroke="#808080" stroke-width="0.6"/>
<path d="M383.7,287 381.9,284.9 384.1,284.3Z" fill="#6e6e6e" stroke="none" stroke-width="1"/>
<circle cx="440.4" cy="293.5" r="7" fill="none" stroke="#808080" stroke-width="0.6"/>
<path d="M434.2,296.8 432.5,294.6 434.7,294Z" fill="#6e6e6e" stroke="none" stroke-width="1"/>
<circle cx="355.5" cy="325.1" r="14.3" fill="none" stroke="#808080" stroke-width="0.6"/>
<circle cx="394.4" cy="330.3" r="11" fill="none" stroke="#808080" stroke-width="0.6"/>
<path d="M384.7,335.5 382.9,333.3 385.1,332.7Z" fill="#6e6e6e" stroke="none" stroke-width="1"/>
<circle cx="450.6" cy="332.3" r="7" fill="none" stroke="#808080" stroke-width="0.6"/>
<path d="M444.4,335.6 442.7,333.4 444.9,332.8Z" fill="#6e6e6e" stroke="none" stroke-width="1"/>
<circle cx="382.1" cy="377.2" r="8" fill="none" stroke="#808080" stroke-width="0.6"/>
<path d="M375.1,381 373.3,378.8 375.5,378.2Z" fill="#6e6e6e" stroke="none" stroke-width="1"/>
<circle cx="436.3" cy="375.2" r="10" fill="none" stroke="#808080" stroke-width="0.6"/>
<path d="M427.5,379.9 425.7,377.7 427.9,377.1Z" fill="#6e6e6e" stroke="none" stroke-width="1"/>
<circle cx="432.8" cy="413" r="13.2" fill="none" stroke="#808080" stroke-width="0.6"/>
<circle cx="541.2" cy="270.7" r="7" fill="none" stroke="#808080" stroke-width="0.6" stroke-dasharray="2.4,1.4"/>
<path d="M535,274 533.3,271.8 535.5,271.2Z" fill="#6e6e6e" stroke="none" stroke-width="1"/>
<circle cx="521.6" cy="322.3" r="7" fill="none" stroke="#808080" stroke-width="0.6"/>
<path d="M515.4,325.6 513.7,323.4 515.9,322.8Z" fill="#6e6e6e" stroke="none" stroke-width="1"/>
<circle cx="494.7" cy="384.2" r="7" fill="none" stroke="#808080" stroke-width="0.6" stroke-dasharray="2.4,1.4"/>
<path d="M488.5,387.5 486.8,385.3 489,384.7Z" fill="#6e6e6e" stroke="none" stroke-width="1"/>
<line x1="440.4" y1="260.8" x2="400.5" y2="286.3" stroke="#747474" stroke-width="0.8"/>
<path d="M400.5,286.3 402.7,283 404.5,285.7Z" fill="#6e6e6e" stroke="none" stroke-width="1"/>
<line x1="433.2" y1="299.6" x2="403.6" y2="294.5" stroke="#747474" stroke-width="0.8" stroke-dasharray="3,1.6"/>
<path d="M403.6,294.5 407.5,293.5 406.9,296.7Z" fill="#6e6e6e" stroke="none" stroke-width="1"/>
<line x1="446.5" y1="267.9" x2="450.6" y2="335.4" stroke="#747474" stroke-width="0.8" stroke-dasharray="3,1.6"/>
<path d="M450.6,335.4 448.8,331.9 452,331.7Z" fill="#6e6e6e" stroke="none" stroke-width="1"/>
<line x1="447.5" y1="267.9" x2="451.6" y2="335.4" stroke="#747474" stroke-width="0.8" stroke-dasharray="3,1.6"/>
<line x1="360.7" y1="329.2" x2="386.2" y2="299.6" stroke="#747474" stroke-width="0.8" stroke-dasharray="3,1.6"/>
<path d="M386.2,299.6 385.1,303.4 382.6,301.3Z" fill="#6e6e6e" stroke="none" stroke-width="1"/>
<line x1="384.2" y1="332.3" x2="387.2" y2="299.6" stroke="#747474" stroke-width="0.8"/>
<path d="M387.2,299.6 388.5,303.4 385.2,303.1Z" fill="#6e6e6e" stroke="none" stroke-width="1"/>
<line x1="391.5" y1="332.3" x2="393.2" y2="299.6" stroke="#747474" stroke-width="0.8"/>
<path d="M393.2,299.6 394.6,303.3 391.4,303.2Z" fill="#6e6e6e" stroke="none" stroke-width="1"/>
<line x1="444.5" y1="335.4" x2="398.5" y2="298.6" stroke="#747474" stroke-width="0.8"/>
<path d="M398.5,298.6 402.4,299.6 400.3,302.2Z" fill="#6e6e6e" stroke="none" stroke-width="1"/>
<line x1="393.4" y1="299.6" x2="431.2" y2="377.2" stroke="#747474" stroke-width="0.8"/>
<path d="M431.2,377.2 428.1,374.6 431.1,373.2Z" fill="#6e6e6e" stroke="none" stroke-width="1"/>
<line x1="442.4" y1="306.7" x2="448.5" y2="335.4" stroke="#747474" stroke-width="0.8"/>
<path d="M448.5,335.4 446.1,332.2 449.3,331.5Z" fill="#6e6e6e" stroke="none" stroke-width="1"/>
<path d="M442.4,306.7 444.8,309.9 441.6,310.6Z" fill="#6e6e6e" stroke="none" stroke-width="1"/>
<line x1="362.7" y1="339.4" x2="381.1" y2="341.5" stroke="#747474" stroke-width="0.8" stroke-dasharray="3,1.6"/>
<path d="M381.1,341.5 377.3,342.7 377.7,339.5Z" fill="#6e6e6e" stroke="none" stroke-width="1"/>
<line x1="405.6" y1="341.5" x2="438.3" y2="341.9" stroke="#747474" stroke-width="0.8" stroke-dasharray="3,1.6"/>
<path d="M438.3,341.9 434.6,343.5 434.7,340.2Z" fill="#6e6e6e" stroke="none" stroke-width="1"/>
<line x1="436.3" y1="306.7" x2="389.3" y2="377.2" stroke="#747474" stroke-width="0.8"/>
<path d="M389.3,377.2 390,373.3 392.7,375.1Z" fill="#6e6e6e" stroke="none" stroke-width="1"/>
<line x1="361.7" y1="350.7" x2="378" y2="379.3" stroke="#747474" stroke-width="0.8"/>
<path d="M378,379.3 374.8,376.9 377.6,375.3Z" fill="#6e6e6e" stroke="none" stroke-width="1"/>
<path d="M361.7,350.7 364.9,353.1 362.1,354.7Z" fill="#6e6e6e" stroke="none" stroke-width="1"/>
<line x1="362.7" y1="342.5" x2="424" y2="378.2" stroke="#747474" stroke-width="0.8" stroke-dasharray="3,1.6"/>
<path d="M424,378.2 420,377.8 421.7,375Z" fill="#6e6e6e" stroke="none" stroke-width="1"/>
<path d="M362.7,342.5 366.7,342.9 365,345.7Z" fill="#6e6e6e" stroke="none" stroke-width="1"/>
<line x1="385.2" y1="346.6" x2="382.1" y2="378.2" stroke="#747474" stroke-width="0.8"/>
<path d="M382.1,378.2 380.8,374.4 384.1,374.7Z" fill="#6e6e6e" stroke="none" stroke-width="1"/>
<line x1="391.3" y1="346.6" x2="384.2" y2="378.2" stroke="#747474" stroke-width="0.8" stroke-dasharray="3,1.6"/>
<path d="M384.2,378.2 383.4,374.3 386.6,375Z" fill="#6e6e6e" stroke="none" stroke-width="1"/>
<line x1="444.5" y1="346.6" x2="390.3" y2="378.2" stroke="#747474" stroke-width="0.8"/>
<path d="M390.3,378.2 392.6,375 394.3,377.8Z" fill="#6e6e6e" stroke="none" stroke-width="1"/>
<line x1="403.6" y1="350.7" x2="426" y2="377.2" stroke="#747474" stroke-width="0.8" stroke-dasharray="3,1.6"/>
<path d="M403.6,350.7 407.2,352.4 404.7,354.5Z" fill="#6e6e6e" stroke="none" stroke-width="1"/>
<line x1="395.4" y1="385.4" x2="425" y2="385.4" stroke="#747474" stroke-width="0.8"/>
<path d="M425,385.4 421.3,387 421.3,383.8Z" fill="#6e6e6e" stroke="none" stroke-width="1"/>
<path d="M395.4,385.4 399.1,383.8 399.1,387Z" fill="#6e6e6e" stroke="none" stroke-width="1"/>
<line x1="438.3" y1="307" x2="436.3" y2="375.2" stroke="#747474" stroke-width="0.8" stroke-dasharray="3,1.6"/>
<path d="M436.3,375.2 434.8,371.5 438,371.6Z" fill="#6e6e6e" stroke="none" stroke-width="1"/>
<line x1="441.3" y1="307" x2="438.3" y2="375.2" stroke="#747474" stroke-width="0.8" stroke-dasharray="3,1.6"/>
<path d="M438.3,375.2 436.8,371.5 440.1,371.6Z" fill="#6e6e6e" stroke="none" stroke-width="1"/>
<line x1="448.5" y1="348.6" x2="440.4" y2="375.2" stroke="#747474" stroke-width="0.8" stroke-dasharray="3,1.6"/>
<path d="M440.4,375.2 439.9,371.2 443,372.2Z" fill="#6e6e6e" stroke="none" stroke-width="1"/>
<path d="M448.5,348.6 449,352.6 445.9,351.6Z" fill="#6e6e6e" stroke="none" stroke-width="1"/>
<line x1="436.3" y1="389.5" x2="434.2" y2="414" stroke="#747474" stroke-width="0.8" stroke-dasharray="3,1.6"/>
<path d="M434.2,414 432.9,410.2 436.1,410.5Z" fill="#6e6e6e" stroke="none" stroke-width="1"/>
<line x1="388.2" y1="390.5" x2="426" y2="421.2" stroke="#747474" stroke-width="0.8"/>
<path d="M426,421.2 422.1,420.2 424.2,417.6Z" fill="#6e6e6e" stroke="none" stroke-width="1"/>
<line x1="484.4" y1="391.5" x2="446.2" y2="386.7" stroke="#747474" stroke-width="0.8" stroke-dasharray="3,1.6"/>
<path d="M446.2,386.7 450,385.5 449.6,388.8Z" fill="#6e6e6e" stroke="none" stroke-width="1"/>
<line x1="456.5" y1="348.1" x2="488.5" y2="387.3" stroke="#747474" stroke-width="0.8"/>
<path d="M488.5,387.3 484.9,385.5 487.5,383.4Z" fill="#6e6e6e" stroke="none" stroke-width="1"/>
<path d="M456.5,348.1 460.1,349.9 457.5,352Z" fill="#6e6e6e" stroke="none" stroke-width="1"/>
<line x1="462.7" y1="339.8" x2="508.8" y2="332.6" stroke="#747474" stroke-width="0.8"/>
<line x1="523.6" y1="325.4" x2="539.1" y2="285.1" stroke="#747474" stroke-width="0.8"/>
<path d="M539.1,285.1 539.3,289.1 536.3,287.9Z" fill="#6e6e6e" stroke="none" stroke-width="1"/>
<path d="M447.1,247.2 C449.3,247.2 450.1,250.2 449.7,252.2 C449.3,253.7 448.1,254 447.7,254.7 C450.1,255.7 450.5,258.7 448.3,260.7 C447.1,261.8 446.9,264.7 448.7,266.2 C449.5,266.8 450.3,267 450.9,267.6 C448,268 445.3,267.2 444.3,264.7 C443.5,262.2 444.5,259.2 446.1,257.6 C443.9,256.2 442.9,253.2 443.5,250.4 C444.1,248.2 445.5,247.2 447.1,247.2Z" fill="#3f6cc6"/>
<text x="445.8" y="259" font-size="5.9" text-anchor="middle" fill="#1a1a1a">SAMHD1</text>
<path d="M383.2,297.6 A5.2,5.2 0 1,1 386.1,288 Q390.3,289.5 394.5,288 A5.2,5.2 0 1,1 394.5,296.8 Q390.3,295.3 386.1,296.8 Z" fill="#f0601e" stroke="none" stroke-width="0.6"/>
<text x="390.3" y="294.5" font-size="6" text-anchor="middle" fill="#1a1a1a">NFKB2</text>
<circle cx="440.4" cy="300.6" r="6.1" fill="#f0601e"/>
<text x="440.4" y="302.7" font-size="6" text-anchor="middle" fill="#1a1a1a">CD44</text>
<path d="M349.9,329.2 C349.9,327.6 352.9,327.6 352.9,329.2 C352.9,331.5 354,333.3 355.5,333.3 C357,333.3 358.1,331.5 358.1,329.2 C358.1,327.6 361.1,327.6 361.1,329.2 C361.1,333 359.3,335.6 357.6,337 L357.6,348 C357.6,350.4 353.4,350.4 353.4,348 L353.4,337 C351.7,335.6 349.9,333 349.9,329.2Z" fill="#f0601e"/>
<text x="355.7" y="340.9" font-size="5.9" text-anchor="middle" fill="#1a1a1a">TREM1</text>
<path d="M382.8,336.5 C382.8,335 383.8,334.7 385.3,334.7 L390.8,334.7 C391.9,334.7 392.3,335.5 392.3,336.5 L392.3,337.5 L396.3,337.5 L396.3,336.5 C396.3,335.5 396.7,334.7 397.8,334.7 L403.8,334.7 C405.3,334.7 405.8,335.3 405.8,336.8 C405.8,339.2 404.3,340.3 401.8,340.3 L399.5,340.3 C399.8,341 399.8,342 399.8,343 C399.8,347.5 396.8,350 394.3,350 C391.8,350 388.8,347.5 388.8,343 C388.8,342 388.8,341 389.1,340.3 L386.8,340.3 C384.3,340.3 382.8,339.2 382.8,336.5Z" fill="#f0601e"/>
<text x="394.3" y="344" font-size="5.6" text-anchor="middle" fill="#1a1a1a">MAP3K8</text>
<path d="M444.1,347.1 A5.2,5.2 0 1,1 446.9,337.5 Q450.6,339 454.3,337.5 A5.2,5.2 0 1,1 454.3,346.3 Q450.6,344.8 446.9,346.3 Z" fill="#f0601e" stroke="none" stroke-width="0.6"/>
<text x="450.6" y="344" font-size="6" text-anchor="middle" fill="#1a1a1a">NFKBIA</text>
<path d="M375.1,390.6 A5.2,5.2 0 1,1 377.9,381 Q382.1,382.5 386.3,381 A5.2,5.2 0 1,1 386.3,389.8 Q382.1,388.3 377.9,389.8 Z" fill="#f0601e" stroke="none" stroke-width="0.6"/>
<text x="382.1" y="387.5" font-size="6" text-anchor="middle" fill="#1a1a1a">FOS</text>
<path d="M426.3,380.2 C426.3,378.6 428.3,377.9 430,378.3 C432.3,378.8 434.3,380.5 435.8,381.8 C437.3,380.5 439.3,378.8 441.6,378.3 C443.3,377.9 445.1,378.6 445.1,380.2 C445.1,383.5 440.3,387 438.3,391 C437.4,393 436.6,394 435.8,394 C435,394 434.2,393 433.3,391 C431.3,387 426.3,383.5 426.3,380.2Z" fill="#f0601e"/>
<text x="435.8" y="388.4" font-size="6" text-anchor="middle" fill="#1a1a1a">IL1B</text>
<path d="M433.6,417.4 C435.8,417.4 436.6,420.4 436.2,422.4 C435.8,423.9 434.6,424.2 434.2,424.9 C436.6,425.9 437,428.9 434.8,430.9 C433.6,432 433.4,434.9 435.2,436.4 C436,437 436.8,437.2 437.4,437.8 C434.5,438.2 431.8,437.4 430.8,434.9 C430,432.4 431,429.4 432.6,427.8 C430.4,426.4 429.4,423.4 430,420.6 C430.6,418.4 432,417.4 433.6,417.4Z" fill="#3f6cc6"/>
<text x="432.6" y="429" font-size="5.6" text-anchor="middle" fill="#1a1a1a">CAT</text>
<path d="M513.4,335.3 A4.8,4.8 0 1,1 516,326.5 Q521,327.9 526,326.5 A4.8,4.8 0 1,1 526,334.5 Q521,333.1 516,334.5 Z" fill="#3f6cc6" stroke="none" stroke-width="0.6"/>
<text x="521" y="332.6" font-size="6" text-anchor="middle" fill="#1a1a1a">HOXA9</text>
<path d="M533.6,283.7 A4.8,4.8 0 1,1 536.2,274.9 Q541.2,276.3 546.2,274.9 A4.8,4.8 0 1,1 546.2,282.9 Q541.2,281.5 536.2,282.9 Z" fill="#3f6cc6" stroke="none" stroke-width="0.6"/>
<text x="541.2" y="281" font-size="6" text-anchor="middle" fill="#1a1a1a">SATB1</text>
<path d="M489.9,396.6 A4.2,4.2 0 1,1 492.3,388.7 Q493.7,390 495.1,388.7 A4.2,4.2 0 1,1 495.1,395.9 Q493.7,394.6 492.3,395.9 Z" fill="#c3d3f3" stroke="none" stroke-width="0.6"/>
<text x="493.7" y="394.2" font-size="5.6" text-anchor="middle" fill="#1a1a1a">RPSA</text>
<rect x="564.4" y="232.7" width="118.8" height="156.3" fill="none" stroke="#555" stroke-width="0.7"/>
<line x1="603.4" y1="232.7" x2="603.4" y2="389" stroke="#555" stroke-width="0.7"/>
<line x1="564.4" y1="246.3" x2="683.2" y2="246.3" stroke="#555" stroke-width="0.7"/>
<text x="573.6" y="242.3" font-size="6" fill="#222" textLength="20.4" lengthAdjust="spacingAndGlyphs">Symbol</text>
<text x="631.3" y="242.3" font-size="6" fill="#222" textLength="18.6" lengthAdjust="spacingAndGlyphs">Meaning</text>
<text x="606.8" y="255.6" font-size="6" fill="#222" stroke="#222" stroke-width="0.18" textLength="61.8" lengthAdjust="spacingAndGlyphs">Complex/Group/Other</text>
<text x="608.1" y="274.9" font-size="6" fill="#222" stroke="#222" stroke-width="0.18" textLength="66.7" lengthAdjust="spacingAndGlyphs">Cytokine/Growth Factor</text>
<text x="606.8" y="291.8" font-size="6" fill="#222" stroke="#222" stroke-width="0.18" textLength="21.1" lengthAdjust="spacingAndGlyphs">Enzyme</text>
<text x="608.4" y="306.7" font-size="6" fill="#222" stroke="#222" stroke-width="0.18" textLength="17.7" lengthAdjust="spacingAndGlyphs">Kinase</text>
<text x="608.2" y="322.9" font-size="6" fill="#222" stroke="#222" stroke-width="0.18" textLength="64.7" lengthAdjust="spacingAndGlyphs">Transcription Regulator</text>
<text x="608.7" y="339.4" font-size="6" fill="#222" stroke="#222" stroke-width="0.18" textLength="59.4" lengthAdjust="spacingAndGlyphs">Translation Regulator</text>
<text x="608.7" y="356.5" font-size="6" fill="#222" stroke="#222" stroke-width="0.18" textLength="71.5" lengthAdjust="spacingAndGlyphs">Transmembrane Receptor</text>
<text x="608.7" y="370.7" font-size="6" fill="#222" stroke="#222" stroke-width="0.18" textLength="48.4" lengthAdjust="spacingAndGlyphs">Direct interaction</text>
<text x="608.7" y="386.1" font-size="6" fill="#222" stroke="#222" stroke-width="0.18" textLength="53.3" lengthAdjust="spacingAndGlyphs">Indirect interaction</text>
<ellipse cx="581.3" cy="256.8" rx="6.3" ry="4.8" fill="none" stroke="#666" stroke-width="0.5"/>
<path d="M575.6,268.7 c2.5,0 4.5,2.5 5.9,4.4 c1.4,-1.9 3.4,-4.4 5.9,-4.4 c1.2,0 1.6,1 1.2,2 c-1.2,2.8 -4.4,4.8 -5.8,7.4 c-0.6,0.9 -1.4,1 -2,0 c-1.4,-2.6 -4.6,-4.6 -5.8,-7.4 c-0.4,-1 0,-2 0.6,-2 z" fill="none" stroke="#666" stroke-width="0.5"/>
<path transform="translate(2.6,0)" d="M580.6,285.2 c-1.6,0.6 -2.2,2.2 -1.2,3.4 c0.8,1 2.2,1 2.8,1.6 c-1.4,0.8 -1.8,2.4 -0.6,3.4 c0.8,0.6 2,0.6 2.6,0.2 c-1.2,-0.6 -1.6,-1.8 -0.8,-2.8 c0.8,-1 1.2,-2 0.6,-3.2 c-0.6,-1.2 -1.8,-2 -3.4,-2.6 z" fill="none" stroke="#666" stroke-width="0.5"/>
<g fill="none" stroke="#666" stroke-width="0.5"><circle cx="580.3" cy="302.5" r="2.9"/><circle cx="586.7" cy="302.5" r="2.9"/><circle cx="583.5" cy="307.6" r="2.9"/></g>
<path transform="translate(2.2,0)" d="M577.5,317.6 c1.4,-0.4 2.6,0.6 4,1 c1.4,-0.4 2.6,-1.4 4,-1 c0.8,0.4 0.8,1.6 0.2,3.2 c0.6,1.6 0.6,2.8 -0.2,3.2 c-1.4,0.4 -2.6,-0.6 -4,-1 c-1.4,0.4 -2.6,1.4 -4,1 c-0.8,-0.4 -0.8,-1.6 -0.2,-3.2 c-0.6,-1.6 -0.6,-2.8 0.2,-3.2 z" fill="none" stroke="#666" stroke-width="0.5"/>
<path transform="translate(2.4,0)" d="M577.6,335.2 c1.4,-0.6 2.6,0.4 4,0.4 c1.4,0 2.6,-1 4,-0.4 c1.2,0.6 1.2,3.6 0,4.2 c-1.4,0.6 -2.6,-0.4 -4,-0.4 c-1.4,0 -2.6,1 -4,0.4 c-1.2,-0.6 -1.2,-3.6 0,-4.2 z" fill="none" stroke="#666" stroke-width="0.5"/>
<path transform="translate(2.4,0)" d="M577.4,349.4 c0.6,-0.6 1.4,-0.4 1.8,0.4 l1.4,2.4 c0.4,0.6 1.4,0.6 1.8,0 l1.4,-2.4 c0.4,-0.8 1.2,-1 1.8,-0.4 c0.6,0.6 0.2,1.6 -0.4,2.4 l-2.2,2.6 v4.4 c0,0.8 -0.6,1.2 -1.4,1.2 h-0.2 c-0.8,0 -1.4,-0.4 -1.4,-1.2 v-4.4 l-2.2,-2.6 c-0.6,-0.8 -1,-1.8 -0.4,-2.4 z" fill="none" stroke="#666" stroke-width="0.5"/>
<line x1="577.1" y1="368.6" x2="592.9" y2="368.6" stroke="#555" stroke-width="0.7"/>
<line x1="577.1" y1="384" x2="592.9" y2="384" stroke="#666" stroke-width="0.6" stroke-dasharray="3.2,2.4"/>
<text x="-0.8" y="468.7" font-size="22" font-weight="bold" fill="#000" letter-spacing="2">e.</text>
<text transform="translate(16.2,602.2) rotate(-90)" font-size="15.5" text-anchor="middle" fill="#222">Expression Level</text>
<text transform="translate(88.3,473.6) scale(1,1.18)" font-size="9.6" font-weight="bold" text-anchor="middle" fill="#111">CAT</text>
<line x1="32.2" y1="479.5" x2="32.2" y2="555.4" stroke="#111" stroke-width="1.3"/>
<line x1="31.6" y1="554.8" x2="146" y2="554.8" stroke="#111" stroke-width="1.3"/>
<line x1="29.6" y1="551.4" x2="32.2" y2="551.4" stroke="#111" stroke-width="0.9"/>
<text x="29" y="554.2" font-size="8" text-anchor="end" fill="#333">0.0</text>
<line x1="29.6" y1="532.4" x2="32.2" y2="532.4" stroke="#111" stroke-width="0.9"/>
<text x="29" y="535.2" font-size="8" text-anchor="end" fill="#333">0.5</text>
<line x1="29.6" y1="513.5" x2="32.2" y2="513.5" stroke="#111" stroke-width="0.9"/>
<text x="29" y="516.3" font-size="8" text-anchor="end" fill="#333">1.0</text>
<line x1="29.6" y1="494.5" x2="32.2" y2="494.5" stroke="#111" stroke-width="0.9"/>
<text x="29" y="497.3" font-size="8" text-anchor="end" fill="#333">1.5</text>
<line x1="63.3" y1="554.8" x2="63.3" y2="557" stroke="#111" stroke-width="0.9"/>
<line x1="114.5" y1="554.8" x2="114.5" y2="557" stroke="#111" stroke-width="0.9"/>
<path d="M40,551.4 Q56.3,548.3 63.3,542.7 Q70.3,548.3 86.6,551.4 Z" fill="#fff" stroke="#111" stroke-width="0.9"/>
<path d="M49.3,550.8 L63.3,543.5 L77.3,550.8 Z" fill="#f9606a"/>
<path d="M64.1,543.8C64.4,541.9 63.9,534.9 64.1,532.4C64.3,530 64.3,530.7 65.3,529.4C66.3,528.2 70.1,526.4 70.1,524.9C70.1,523.4 66.3,521.6 65.3,520.3C64.3,519.1 64.3,518.4 64.1,517.3C63.9,516.2 63.8,514.8 64.1,513.5C64.4,512.2 65.7,510.7 65.7,509.3C65.7,507.9 64.4,509.6 64.1,505.2C63.8,500.7 64,486.5 63.8,482.8C63.6,479.1 63,479.1 62.8,482.8C62.6,486.5 62.8,500.7 62.5,505.2C62.2,509.6 60.9,507.9 60.9,509.3C60.9,510.7 62.2,512.2 62.5,513.5C62.8,514.8 62.7,516.2 62.5,517.3C62.3,518.4 62.3,519.1 61.3,520.3C60.3,521.6 56.5,523.4 56.5,524.9C56.5,526.4 60.3,528.2 61.3,529.4C62.3,530.7 62.3,530 62.5,532.4C62.7,534.9 62.2,541.9 62.5,543.8C62.8,545.7 63.8,545.7 64.1,543.8Z" fill="#f9606a" stroke="#111" stroke-width="0.9" stroke-linejoin="round"/>
<line x1="114.5" y1="551.4" x2="114.5" y2="482.8" stroke="#111" stroke-width="1.3"/>
<line x1="40" y1="551.4" x2="86.6" y2="551.4" stroke="#111" stroke-width="1.4"/>
<line x1="42.3" y1="525.1" x2="84.3" y2="525.1" stroke="#111" stroke-width="1.6"/>
<line x1="42.3" y1="509.7" x2="84.3" y2="509.7" stroke="#111" stroke-width="1.6"/>
<line x1="42.3" y1="498.9" x2="84.3" y2="498.9" stroke="#111" stroke-width="1.6" stroke-dasharray="1.6,0.9"/>
<line x1="90.5" y1="551.4" x2="138.5" y2="551.4" stroke="#111" stroke-width="1.5"/>
<line x1="93.5" y1="525.1" x2="135.5" y2="525.1" stroke="#111" stroke-width="1.6"/>
<line x1="93.5" y1="509.7" x2="135.5" y2="509.7" stroke="#111" stroke-width="1.6"/>
<path d="M55.7,490.4h0M57.7,490.4h0M57.3,483.2h0M97,498.9h0M99,498.9h0M101,498.9h0M105,498.9h0M110,498.9h0M119,498.9h0M103,490.4h0M105,490.4h0M112,490.4h0M122,490.4h0M119,483.2h0" stroke="#111" stroke-width="1.4" stroke-linecap="round"/>
<text transform="translate(233.6,473.6) scale(1,1.18)" font-size="9.6" font-weight="bold" text-anchor="middle" fill="#111">HOXA9</text>
<line x1="176.7" y1="479.7" x2="176.7" y2="554.8" stroke="#111" stroke-width="1.3"/>
<line x1="176.1" y1="554.2" x2="290" y2="554.2" stroke="#111" stroke-width="1.3"/>
<line x1="174.1" y1="550.9" x2="176.7" y2="550.9" stroke="#111" stroke-width="0.9"/>
<text x="173.5" y="553.7" font-size="8" text-anchor="end" fill="#333">0.0</text>
<line x1="174.1" y1="534.8" x2="176.7" y2="534.8" stroke="#111" stroke-width="0.9"/>
<text x="173.5" y="537.6" font-size="8" text-anchor="end" fill="#333">0.5</text>
<line x1="174.1" y1="518.7" x2="176.7" y2="518.7" stroke="#111" stroke-width="0.9"/>
<text x="173.5" y="521.5" font-size="8" text-anchor="end" fill="#333">1.0</text>
<line x1="174.1" y1="502.6" x2="176.7" y2="502.6" stroke="#111" stroke-width="0.9"/>
<text x="173.5" y="505.4" font-size="8" text-anchor="end" fill="#333">1.5</text>
<line x1="174.1" y1="486.5" x2="176.7" y2="486.5" stroke="#111" stroke-width="0.9"/>
<text x="173.5" y="489.3" font-size="8" text-anchor="end" fill="#333">2.0</text>
<line x1="208" y1="554.2" x2="208" y2="556.4" stroke="#111" stroke-width="0.9"/>
<line x1="259.5" y1="554.2" x2="259.5" y2="556.4" stroke="#111" stroke-width="0.9"/>
<line x1="208" y1="550.9" x2="208" y2="483.9" stroke="#111" stroke-width="1.3"/>
<line x1="259.5" y1="550.9" x2="259.5" y2="515.5" stroke="#111" stroke-width="1.3"/>
<line x1="184" y1="550.9" x2="232" y2="550.9" stroke="#111" stroke-width="1.6"/>
<line x1="187" y1="528.6" x2="229" y2="528.6" stroke="#111" stroke-width="1.6"/>
<line x1="187" y1="515.5" x2="229" y2="515.5" stroke="#111" stroke-width="1.6" stroke-dasharray="1.6,0.9"/>
<line x1="189" y1="506.3" x2="227" y2="506.3" stroke="#111" stroke-width="1.4" stroke-dasharray="1.6,0.9"/>
<line x1="235.5" y1="550.9" x2="283.5" y2="550.9" stroke="#111" stroke-width="1.6"/>
<line x1="238.5" y1="528.6" x2="280.5" y2="528.6" stroke="#111" stroke-width="1.6"/>
<path d="M190,488.1h0M198.6,483.9h0M214,488.1h0M191,499.1h0M213.6,499.1h0M222.5,499.1h0M263.5,515.5h0M250,515.5h0" stroke="#111" stroke-width="1.4" stroke-linecap="round"/>
<text transform="translate(378.2,473.6) scale(1,1.18)" font-size="9.6" font-weight="bold" text-anchor="middle" fill="#111">SAMHD1</text>
<line x1="321.3" y1="480.8" x2="321.3" y2="555.2" stroke="#111" stroke-width="1.3"/>
<line x1="320.7" y1="554.6" x2="435.1" y2="554.6" stroke="#111" stroke-width="1.3"/>
<line x1="318.7" y1="550.9" x2="321.3" y2="550.9" stroke="#111" stroke-width="0.9"/>
<text x="318.1" y="553.7" font-size="8" text-anchor="end" fill="#333">0.0</text>
<line x1="318.7" y1="537.6" x2="321.3" y2="537.6" stroke="#111" stroke-width="0.9"/>
<text x="318.1" y="540.4" font-size="8" text-anchor="end" fill="#333">0.5</text>
<line x1="318.7" y1="524.3" x2="321.3" y2="524.3" stroke="#111" stroke-width="0.9"/>
<text x="318.1" y="527.1" font-size="8" text-anchor="end" fill="#333">1.0</text>
<line x1="318.7" y1="511" x2="321.3" y2="511" stroke="#111" stroke-width="0.9"/>
<text x="318.1" y="513.8" font-size="8" text-anchor="end" fill="#333">1.5</text>
<line x1="318.7" y1="497.7" x2="321.3" y2="497.7" stroke="#111" stroke-width="0.9"/>
<text x="318.1" y="500.5" font-size="8" text-anchor="end" fill="#333">2.0</text>
<line x1="318.7" y1="484.4" x2="321.3" y2="484.4" stroke="#111" stroke-width="0.9"/>
<text x="318.1" y="487.2" font-size="8" text-anchor="end" fill="#333">2.5</text>
<line x1="352.4" y1="554.6" x2="352.4" y2="556.8" stroke="#111" stroke-width="0.9"/>
<line x1="404.1" y1="554.6" x2="404.1" y2="556.8" stroke="#111" stroke-width="0.9"/>
<path d="M376,550.9C382.3,550.3 369.3,548.6 366.4,547.4C363.5,546.3 360.4,545.1 358.4,544C356.4,542.9 353.9,541.9 354.2,540.8C354.5,539.7 358.2,538.7 360.4,537.6C362.6,536.5 365.2,535.2 367.4,534.1C369.6,533.1 373.5,532.4 373.8,531.5C374.1,530.6 370.6,529.8 369.4,528.8C368.2,527.9 366.5,526.8 366.7,525.9C366.9,525 368.9,524.1 370.4,523.2C371.8,522.3 374.9,521.5 375.4,520.6C375.9,519.7 374.3,519.1 373.2,517.9C372.1,516.7 370.4,515.1 368.9,513.4C367.4,511.7 365.9,509.6 364.4,507.8C362.9,506 361.4,504.3 360.1,502.5C358.8,500.7 357.8,498.7 356.8,496.9C355.8,495.1 354.5,493.9 353.9,491.6C353.3,489.3 353.6,484.5 353.2,483.1C352.8,481.7 352,481.7 351.6,483.1C351.2,484.5 351.5,489.3 350.9,491.6C350.3,493.9 349,495.1 348,496.9C347,498.7 346,500.7 344.7,502.5C343.4,504.3 341.9,506 340.4,507.8C338.9,509.6 337.4,511.7 335.9,513.4C334.4,515.1 332.7,516.7 331.6,517.9C330.5,519.1 328.9,519.7 329.4,520.6C329.9,521.5 332.9,522.3 334.4,523.2C335.8,524.1 337.9,525 338.1,525.9C338.3,526.8 336.6,527.9 335.4,528.8C334.2,529.8 330.7,530.6 331,531.5C331.3,532.4 335.2,533.1 337.4,534.1C339.6,535.2 342.2,536.5 344.4,537.6C346.6,538.7 350.3,539.7 350.6,540.8C350.9,541.9 348.4,542.9 346.4,544C344.4,545.1 341.3,546.3 338.4,547.4C335.5,548.6 322.5,550.3 328.8,550.9C335.1,551.5 369.7,551.5 376,550.9Z" fill="#f9606a" stroke="#111" stroke-width="0.9" stroke-linejoin="round"/>
<line x1="331.4" y1="550.9" x2="373.4" y2="550.9" stroke="#111" stroke-width="1.6"/>
<line x1="331.4" y1="532.5" x2="373.4" y2="532.5" stroke="#111" stroke-width="1.6"/>
<line x1="331.4" y1="521.7" x2="373.4" y2="521.7" stroke="#111" stroke-width="1.6"/>
<line x1="331.4" y1="514" x2="373.4" y2="514" stroke="#111" stroke-width="1.6"/>
<line x1="331.4" y1="508.1" x2="373.4" y2="508.1" stroke="#111" stroke-width="1.6"/>
<line x1="332.4" y1="503.2" x2="372.4" y2="503.2" stroke="#111" stroke-width="1.3" stroke-dasharray="1.6,0.9"/>
<line x1="332.4" y1="499.1" x2="372.4" y2="499.1" stroke="#111" stroke-width="1.3" stroke-dasharray="1.6,0.9"/>
<line x1="332.4" y1="495.6" x2="372.4" y2="495.6" stroke="#111" stroke-width="1.3" stroke-dasharray="1.6,0.9"/>
<path d="M334,487.1h0M337,485.7h0M340,486.5h0M346,488.9h0M365,485.7h0M366,488.4h0M364,491h0M361,495h0" stroke="#111" stroke-width="1.4" stroke-linecap="round"/>
<path d="M380.5,550.9 Q397,549.6 404.1,547.2 Q411.2,549.6 427.7,550.9 Z" fill="#fff" stroke="#111" stroke-width="0.9"/>
<path d="M397.1,550.3 L404.1,548 L411.1,550.3 Z" fill="#4accd0"/>
<path d="M411.1,549.6C413.1,549.3 410,548.4 409.1,547.7C408.2,547 406.2,547 405.6,545.6C405,544.1 405,540.5 405.6,538.9C406.2,537.4 408,537.2 409.1,536.3C410.2,535.4 411.9,534.4 412.1,533.6C412.3,532.9 410.4,532.6 410.1,531.7C409.8,530.9 410.4,529.3 410.1,528.3C409.9,527.3 408.6,526.6 408.6,525.6C408.6,524.7 409.8,523.6 410.1,522.7C410.4,521.8 411.1,521.2 410.6,520.3C410.1,519.5 407.6,518.5 407.1,517.6C406.6,516.8 407.8,515.9 407.6,515C407.4,514.1 406.4,513.9 406.1,512.3C405.8,510.8 405.9,508.6 405.6,505.7C405.4,502.8 404.9,496.8 404.6,495C404.3,493.3 403.9,493.3 403.6,495C403.3,496.8 402.9,502.8 402.6,505.7C402.4,508.6 402.4,510.8 402.1,512.3C401.8,513.9 400.8,514.1 400.6,515C400.4,515.9 401.6,516.8 401.1,517.6C400.6,518.5 398.1,519.5 397.6,520.3C397.1,521.2 397.8,521.8 398.1,522.7C398.4,523.6 399.6,524.7 399.6,525.6C399.6,526.6 398.4,527.3 398.1,528.3C397.9,529.3 398.4,530.9 398.1,531.7C397.8,532.6 395.9,532.9 396.1,533.6C396.3,534.4 398,535.4 399.1,536.3C400.2,537.2 402,537.4 402.6,538.9C403.2,540.5 403.2,544.1 402.6,545.6C402,547 400,547 399.1,547.7C398.2,548.4 395.1,549.3 397.1,549.6C399.1,549.9 409.1,549.9 411.1,549.6Z" fill="#4accd0" stroke="#111" stroke-width="0.9" stroke-linejoin="round"/>
<line x1="383.3" y1="532.5" x2="424.9" y2="532.5" stroke="#111" stroke-width="1.6"/>
<line x1="383.3" y1="521.7" x2="424.9" y2="521.7" stroke="#111" stroke-width="1.6"/>
<line x1="383.3" y1="514" x2="424.9" y2="514" stroke="#111" stroke-width="1.6"/>
<line x1="383.3" y1="508.1" x2="424.9" y2="508.1" stroke="#111" stroke-width="1.6"/>
<line x1="385.1" y1="503.2" x2="423.1" y2="503.2" stroke="#111" stroke-width="1.3" stroke-dasharray="1.6,0.9"/>
<path d="M384.5,499h0M392,499h0M392,496.4h0M410,499h0M416,499h0M421,499h0" stroke="#111" stroke-width="1.4" stroke-linecap="round"/>
<text transform="translate(522.6,473.6) scale(1,1.18)" font-size="9.6" font-weight="bold" text-anchor="middle" fill="#111">IL1B</text>
<line x1="464.6" y1="479.7" x2="464.6" y2="554.8" stroke="#111" stroke-width="1.3"/>
<line x1="464" y1="554.2" x2="579.5" y2="554.2" stroke="#111" stroke-width="1.3"/>
<line x1="462" y1="550.9" x2="464.6" y2="550.9" stroke="#111" stroke-width="0.9"/>
<text x="461.4" y="553.7" font-size="8" text-anchor="end" fill="#333">0</text>
<line x1="462" y1="533.7" x2="464.6" y2="533.7" stroke="#111" stroke-width="0.9"/>
<text x="461.4" y="536.5" font-size="8" text-anchor="end" fill="#333">1</text>
<line x1="462" y1="516.5" x2="464.6" y2="516.5" stroke="#111" stroke-width="0.9"/>
<text x="461.4" y="519.3" font-size="8" text-anchor="end" fill="#333">2</text>
<line x1="462" y1="499.3" x2="464.6" y2="499.3" stroke="#111" stroke-width="0.9"/>
<text x="461.4" y="502.1" font-size="8" text-anchor="end" fill="#333">3</text>
<line x1="462" y1="482.1" x2="464.6" y2="482.1" stroke="#111" stroke-width="0.9"/>
<text x="461.4" y="484.9" font-size="8" text-anchor="end" fill="#333">4</text>
<line x1="497.2" y1="554.2" x2="497.2" y2="556.4" stroke="#111" stroke-width="0.9"/>
<line x1="548.7" y1="554.2" x2="548.7" y2="556.4" stroke="#111" stroke-width="0.9"/>
<text transform="translate(449,517.5) rotate(-90)" font-size="8.8" text-anchor="middle" fill="#222" textLength="73.8" lengthAdjust="spacingAndGlyphs">Expression Level</text>
<path d="M521,550.9C527.6,550.7 515.8,550.1 513.2,549.5C510.6,549 507.6,548.2 505.2,547.5C502.8,546.7 499.4,546 498.7,545.2C497.9,544.5 500,543.9 500.7,543C501.4,542 502.6,540.7 502.9,539.5C503.1,538.4 502.6,537.4 502.2,536.1C501.8,534.8 501,533.4 500.7,532C500.4,530.5 500.4,529.7 500.2,527.5C499.9,525.4 499.4,522.3 499.2,519.1C498.9,515.8 498.9,510.9 498.7,507.9C498.4,504.9 498,502 497.7,500.8C497.4,499.7 497,499.7 496.7,500.8C496.4,502 495.9,504.9 495.7,507.9C495.4,510.9 495.4,515.8 495.2,519.1C494.9,522.3 494.4,525.4 494.2,527.5C493.9,529.7 494,530.5 493.7,532C493.4,533.4 492.6,534.8 492.2,536.1C491.8,537.4 491.2,538.4 491.5,539.5C491.8,540.7 493,542 493.7,543C494.4,543.9 496.4,544.5 495.7,545.2C494.9,546 491.6,546.7 489.2,547.5C486.8,548.2 483.8,549 481.2,549.5C478.6,550.1 466.8,550.7 473.4,550.9C480,551.1 514.4,551.1 521,550.9Z" fill="#111" stroke="#111" stroke-width="0.9" stroke-linejoin="round"/>
<line x1="476.4" y1="539" x2="518" y2="539" stroke="#111" stroke-width="1.6"/>
<line x1="476.4" y1="532" x2="518" y2="532" stroke="#111" stroke-width="1.6"/>
<line x1="477.2" y1="527.1" x2="517.2" y2="527.1" stroke="#111" stroke-width="1.4" stroke-dasharray="1.6,0.9"/>
<line x1="477.2" y1="523.2" x2="517.2" y2="523.2" stroke="#111" stroke-width="1.4" stroke-dasharray="1.6,0.9"/>
<line x1="477.2" y1="520.1" x2="517.2" y2="520.1" stroke="#111" stroke-width="1.4" stroke-dasharray="1.6,0.9"/>
<path d="M506.4,508.3h0M506.3,503.2h0M495.9,518.1h0M512.4,507.3h0M487.6,510.6h0M478.7,508.6h0M513,513.9h0M508.5,515.3h0M483,507.7h0M486.2,503.8h0M511.4,502h0M498.7,502.7h0M514,515h0M512.2,502.3h0M484.5,512h0M489.7,517.2h0M504,518h0M509.3,513.1h0M496.5,513.2h0M515.3,516.9h0M510.3,505.6h0M492.1,505.4h0M480,517.8h0M485.7,502.8h0M514,502.9h0M498.1,512.6h0M506.6,516.7h0M479.6,504.5h0M491.1,516.8h0M491.1,503.6h0M490.1,509.2h0M481.2,515h0M516.1,506.7h0M515.7,517.5h0M487.2,511.7h0M495.5,504.7h0M513,516.9h0M510.1,509.9h0M514.3,506.4h0M482.3,505.3h0" stroke="#111" stroke-width="1.4" stroke-linecap="round"/>
<path d="M571.5,550.9C576.3,550.8 558.2,550.5 554.7,550C551.2,549.6 551,549.3 550.2,548.3C549.4,547.3 549.7,545.6 549.9,544C550.2,542.5 551.7,540.5 551.7,539C551.8,537.6 550.3,536.6 550.2,535.4C550.1,534.2 550.8,533.4 550.9,532C551,530.6 551.1,529 550.9,527C550.7,525 550.1,523.1 549.9,519.9C549.7,516.8 549.8,511.9 549.9,507.9C550,503.9 550.8,499.9 550.7,495.9C550.6,491.8 549.6,485.8 549.2,483.8C548.8,481.8 548.6,481.8 548.2,483.8C547.8,485.8 546.8,491.8 546.7,495.9C546.6,499.9 547.4,503.9 547.5,507.9C547.6,511.9 547.7,516.8 547.5,519.9C547.3,523.1 546.7,525 546.5,527C546.3,529 546.4,530.6 546.5,532C546.6,533.4 547.3,534.2 547.2,535.4C547.1,536.6 545.7,537.6 545.7,539C545.8,540.5 547.2,542.5 547.5,544C547.8,545.6 548,547.3 547.2,548.3C546.4,549.3 546.2,549.6 542.7,550C539.2,550.5 521.1,550.8 525.9,550.9C530.7,551 566.7,551 571.5,550.9Z" fill="#111" stroke="#111" stroke-width="0.9" stroke-linejoin="round"/>
<line x1="527.9" y1="550.9" x2="569.5" y2="550.9" stroke="#111" stroke-width="1.6"/>
<line x1="527.9" y1="539" x2="569.5" y2="539" stroke="#111" stroke-width="1.6"/>
<line x1="527.9" y1="532" x2="569.5" y2="532" stroke="#111" stroke-width="1.6"/>
<line x1="527.9" y1="527.1" x2="569.5" y2="527.1" stroke="#111" stroke-width="1.6"/>
<line x1="527.9" y1="523.2" x2="569.5" y2="523.2" stroke="#111" stroke-width="1.6"/>
<line x1="528.7" y1="520.1" x2="568.7" y2="520.1" stroke="#111" stroke-width="1.4" stroke-dasharray="1.6,0.9"/>
<path d="M562.5,515.2h0M568.7,509.9h0M546.8,499.7h0M547.9,504.3h0M534.6,510.5h0M567.1,499.6h0M542.2,508.4h0M560,513.4h0M560.1,511.6h0M555.3,505.3h0M556.9,511.2h0M559.5,509.2h0M566.5,512.8h0M529.2,507.3h0M555.6,513.4h0M554.6,503h0M554.5,511.8h0M542.7,502.8h0M556.2,502.1h0M549.4,500.1h0M562.2,515.4h0M556.4,509.4h0M535.6,504.6h0M555.3,507.2h0M559.7,506.5h0M529.8,504.3h0M554.7,509.7h0M553.9,504.9h0M537.7,508.9h0M541.4,515.4h0M530.1,514.5h0M553.2,511.1h0M564.8,513.3h0M539.8,510.5h0M562,515.9h0M553.2,517.2h0M542.3,508h0M561.4,500h0M554.4,502.7h0M552.5,515.6h0M567.4,500.2h0M564.4,511.2h0M551.3,516.3h0M553.9,515.9h0M546,510.9h0M562.5,484.7h0" stroke="#111" stroke-width="1.4" stroke-linecap="round"/>
<text transform="translate(88.8,619.8) scale(1,1.18)" font-size="9.6" font-weight="bold" text-anchor="middle" fill="#111">FOS</text>
<line x1="32.2" y1="626.2" x2="32.2" y2="701.5" stroke="#111" stroke-width="1.3"/>
<line x1="31.6" y1="700.9" x2="146" y2="700.9" stroke="#111" stroke-width="1.3"/>
<line x1="29.6" y1="697.6" x2="32.2" y2="697.6" stroke="#111" stroke-width="0.9"/>
<text x="29" y="700.4" font-size="8" text-anchor="end" fill="#333">0</text>
<line x1="29.6" y1="682.8" x2="32.2" y2="682.8" stroke="#111" stroke-width="0.9"/>
<text x="29" y="685.6" font-size="8" text-anchor="end" fill="#333">1</text>
<line x1="29.6" y1="668" x2="32.2" y2="668" stroke="#111" stroke-width="0.9"/>
<text x="29" y="670.8" font-size="8" text-anchor="end" fill="#333">2</text>
<line x1="29.6" y1="653.2" x2="32.2" y2="653.2" stroke="#111" stroke-width="0.9"/>
<text x="29" y="656" font-size="8" text-anchor="end" fill="#333">3</text>
<line x1="29.6" y1="638.4" x2="32.2" y2="638.4" stroke="#111" stroke-width="0.9"/>
<text x="29" y="641.2" font-size="8" text-anchor="end" fill="#333">4</text>
<line x1="63.1" y1="700.9" x2="63.1" y2="703.1" stroke="#111" stroke-width="0.9"/>
<line x1="115" y1="700.9" x2="115" y2="703.1" stroke="#111" stroke-width="0.9"/>
<path d="M39.6,697.4 Q44,692.4 63.1,691.6 Q82.2,692.4 86.6,697.4 Z" fill="#5a1c1c" stroke="#2a0a0a" stroke-width="0.7"/>
<path d="M82.5,662.8h0M80.1,654.5h0M82.8,663.2h0M55.7,661.7h0M54.3,660.3h0M68.1,664.9h0M74.6,663.1h0M64.4,666.2h0M74.7,654.6h0M48.9,663.5h0M67.5,662.8h0M67.4,658.6h0M73.8,664.9h0M56.4,659.6h0M61.6,659.7h0M66.8,656.8h0M61.3,663.7h0M65,655h0M60.1,656.8h0M68.5,657.6h0M58.4,655h0M50.7,655.6h0M45.3,656.3h0M60.3,657.6h0M79.9,656.4h0M65.1,660.5h0M48.9,662.4h0M45.4,656.1h0M75.1,656.3h0M72.2,666.6h0M71.4,653.6h0M51.6,656h0M71.8,654.2h0M80.2,662.6h0M59.6,658.6h0M44.4,658.4h0M45.6,661.4h0M73,659.6h0M60.3,664.7h0M62.7,659.3h0M44.9,662h0M68.5,664.6h0M65.4,655.2h0M65.2,663h0M63.8,656.8h0M57.8,663.8h0M71.8,664.4h0M70,665.1h0M67,664.7h0M62.3,655.3h0M43.8,656.7h0M48.8,666.2h0M51.7,657.6h0M69.9,654.5h0M68.2,664.6h0M56.3,663.7h0M58.4,661.8h0M69.2,656.3h0M77.5,661.1h0M66.1,659.3h0M46.6,661.2h0M44.2,664.3h0M73.8,660.1h0M79.1,660.7h0M61.7,660.8h0M49.1,664.5h0M78.7,661.4h0M54,663.1h0M52.2,662.9h0M80.5,666h0M70.8,654.9h0M81.4,660.3h0M54.5,658.2h0M49.3,657.1h0M52,665.9h0M82.5,661.4h0M61.8,662.4h0M72,657h0M70.2,663.8h0M60.3,658.8h0M45.1,666.7h0M44.4,661.4h0M63.9,654h0M45.5,665.7h0M81,660h0M44.7,663.4h0M53.1,665.7h0M44.7,662.3h0M50,654.3h0M64.4,661.1h0M47,662.6h0M67.1,655.2h0M43.3,663.9h0M66,660.3h0M72.4,659h0M61,662.9h0M47.3,663.6h0M74.3,665.7h0M47.9,662.2h0M46.1,663.4h0M52.7,658.9h0M44.6,657.5h0M57.9,662.6h0M55.5,661.4h0M79.3,659.6h0M66.2,656.9h0M69.5,656.6h0M71.3,657.2h0M58.3,656h0M49.5,665.5h0M54.3,657.7h0M65.4,656.5h0M47.9,665.8h0M81.5,655.8h0M60.2,663.5h0M43.1,662.4h0M72.4,655.8h0M49.6,660h0M81.1,661.1h0M55.6,665.4h0M60.4,660.7h0M81,656.9h0M67,654h0M59.8,655.9h0M43.9,654.3h0M78.8,660.4h0M54,663.6h0M57.2,659.6h0M57,663.3h0M77,654.4h0M59,658.5h0M62.7,655.7h0M46.6,664.6h0M50.8,655.4h0M70.6,662.7h0M75.4,658.6h0M63.6,666.5h0M58.6,664h0M55.4,666.1h0M71.4,660.4h0M76,654.5h0M70.1,657.8h0M57.5,656.5h0M64,657.8h0M46.2,665.4h0M73.7,659.4h0M80.7,662.5h0M45.6,657.7h0M81.8,658.4h0M77,658.1h0M51.2,658.8h0M52.4,655.6h0M58.7,659.3h0M49.9,661.7h0M79.9,655.3h0M47.1,661.8h0M71.9,659.5h0M51.3,655.2h0M68.1,663.5h0M68.5,664.6h0M45.2,663.7h0M78.6,656.3h0M60,661.3h0M55,655h0M82.2,658.7h0M47.3,666.2h0M50.1,658.7h0M69.1,659.2h0M45.1,657.3h0M81.8,655.9h0M69.1,656.2h0M71.2,663.9h0M46.7,660.3h0M46.4,664.3h0M46.9,659h0M76.1,657.5h0M80.5,657.9h0M82.2,658.3h0M45.2,665h0M61.4,662h0M46,657.1h0M58,659.4h0M58,659.2h0M82.1,660.6h0M73.8,665.8h0M47.4,662.8h0M72.8,662.4h0M54.5,661.7h0M74.9,657.8h0M56.4,663.1h0M44.7,659.9h0M69.9,663.2h0M46.5,663.1h0M64.8,654h0M46.4,654.7h0M42.8,656.5h0M43.3,661.8h0M58.3,660.8h0M51.6,666.2h0M61.9,660.6h0M81.7,663.2h0M44.8,660h0M60.4,656.8h0M69.1,655.3h0M43.6,666.3h0M78.4,661.6h0M58.1,655.4h0M79.2,656.7h0M59.9,657.1h0M51.5,654h0M61.9,662.9h0M47.7,657.9h0M45.6,660.7h0M78.9,655h0M76.6,666.7h0M48.2,658.8h0M81,654.6h0M60.2,664h0M57.9,657.3h0M63.9,665h0M46.3,657.4h0M58,658.3h0M66.4,660.9h0M65.9,663.3h0M72.6,659.4h0M71.5,660.1h0M59.8,656.8h0M75.1,658.5h0M44.2,660.1h0M43.5,662h0M69.4,661.2h0M64.3,662h0M81.5,655.1h0M49.4,663.1h0M61,665.7h0M58.5,660.2h0M65.2,663h0M57,664.8h0M51.1,659.4h0M46.2,665.6h0M82.3,664.5h0M74.7,663.2h0M76.6,663.3h0M68.4,661.4h0M78.5,663.2h0M49.9,654.9h0M72.9,665.9h0M44.4,666.7h0M78.3,659.9h0M47.4,659.3h0M67.7,658.6h0M47.2,654.2h0M46.4,657.6h0M69.2,661h0M45.4,657.6h0M47.5,656.1h0M54.8,662.9h0M63.7,657.3h0M49,660.4h0M81.4,663h0M57.1,665.1h0M68.1,661.3h0M48.3,664.3h0M60.9,657.9h0M48.5,654.9h0M64.6,660.6h0M69.8,659.5h0M76.9,656.5h0M53.2,665h0M53.4,655.4h0M81.8,658.2h0M56.4,656.5h0M77.2,658.6h0M82.5,665.8h0M72.3,658.3h0M56.1,661.1h0M72,665.6h0M45.2,655.4h0M81.3,664.5h0M63.4,654.9h0M51.9,660.9h0M54.5,659.1h0M80.9,660.4h0M46.8,660.9h0M64.6,664.7h0M64.9,654.1h0M65.2,663.5h0M51.2,661.1h0M58.3,655.1h0M56,655.2h0M48.3,659.5h0M61.7,654.7h0M66.1,655h0M73.1,662.8h0M73.7,660.7h0M50.9,665h0M46.8,657.7h0M49.5,664.5h0M68,661.2h0M71.2,664.2h0M52.9,659.1h0M72.1,665.6h0M56.4,657h0M62.6,658.8h0M54.2,654.8h0M48,655.4h0M82.6,661h0M73.6,658.5h0M81.3,666.4h0M69.7,655.7h0M70.3,655.9h0M63.3,657.5h0M75.2,658.5h0M42.6,660.5h0M76.9,656.4h0M62.2,659.5h0M82.5,664.3h0M76.6,663.6h0M69,661.5h0M43,663.2h0M73.1,659.2h0M55.2,661.2h0M67.1,662h0M70.7,660.6h0M77.1,663h0M43.2,666h0M61.4,665.1h0M62.1,656.4h0M75.2,666.4h0M76.8,658.8h0M77.5,657.6h0M78.9,666.7h0M45.3,663.9h0M57.7,664.9h0M42.7,663.7h0M72.5,662.7h0M81.7,664.7h0M51.5,657.8h0M59.4,660.5h0M74.1,660.9h0M70.6,655.9h0M80.2,655.8h0M69.7,661.4h0M71.9,655.4h0M56,663.9h0M74.1,657.7h0M77.1,659.7h0M67.4,665.2h0M54.4,664.3h0M60,664.3h0M65.1,666.8h0M56,656.4h0M48.8,665.1h0M67.3,666h0M75.5,660.5h0M67.5,655h0M60.1,664.3h0M52,656h0M45.5,656.3h0M69.9,663.8h0M72.5,665.3h0M77.7,662.7h0M70.4,662.3h0M46,660.1h0M68.7,654.6h0M61.8,660h0M54,664.6h0M70.2,665.4h0M46.3,662.7h0M54.6,654.5h0M81.3,661.8h0M51.2,662.4h0M46.6,661h0M70.7,662.4h0M45,655.3h0M53.4,663.2h0M56.8,660.2h0M66,655.8h0M67.8,658.2h0M48,661.1h0M55.1,655.4h0M66.8,658.7h0M72.7,660.5h0M73.6,665.5h0M45.9,665.8h0M69.5,662.6h0M49.2,660.6h0M63.5,658.1h0M68,656.2h0M62.1,664.1h0M47.2,659h0M74.7,662.2h0M58.6,655h0M47.9,654.2h0M61.4,657.2h0M59.5,664.7h0M53.1,661.6h0M67.8,661h0M44.1,663.2h0M52.6,658.2h0M63.2,659.5h0M55.2,656.6h0M49.3,659.2h0M63.1,665.8h0M44.5,659.7h0M74.9,653.9h0M43.9,660.5h0M83,664h0M45.3,663.1h0M72.9,654.3h0M74.7,655.8h0M53.7,664h0M72.1,664.3h0M55.1,666.7h0M72.5,656h0M65.4,655h0M54.2,658.9h0M61.4,662.9h0M52.7,665.4h0M62.6,654.7h0M66.4,647.7h0M56.5,650.9h0M73.6,646.8h0M45.4,652.8h0M45.3,651.9h0M52.5,652.2h0M55.2,649.4h0M78.3,652h0M70.5,649.3h0M76.5,650.1h0M47.9,648.1h0M64.7,649.8h0M57.6,647.9h0M75.3,649.5h0M66.9,649.5h0M55.1,651.4h0M68.3,648.8h0M65.3,650.1h0M78.5,652.7h0M55.7,649.5h0M50.9,651.7h0M48,646.4h0M67.6,647.9h0M55.2,652.4h0M54.4,650.3h0M50.5,650.1h0M62.3,648.1h0M79.5,647.8h0M63.3,653.7h0M69.7,651.1h0M67.2,649.1h0M70.6,646.6h0M53.4,648.3h0M47.3,649.1h0M62.8,652.1h0M72.6,648h0M61,646.3h0M56.8,646h0M48.1,646.4h0M64.5,648.9h0M50.4,646.9h0M70.3,649.3h0M74.9,647.1h0M78,650.8h0M57.1,648h0M69.1,649.7h0M70.8,647.3h0M62.9,650h0M46.9,649.7h0M63.1,651h0M78.5,652.2h0M74.3,651.3h0M65.6,648.8h0M56.9,649.9h0M45.1,650.7h0M56.4,652.9h0M57.9,646.1h0M67.7,651.5h0M64,652.8h0M73.4,652.5h0" stroke="#111" stroke-width="1.2" stroke-linecap="round"/>
<path d="M75.7,697.6C79.3,696.7 72.4,694 72.2,692.3C72,690.5 74.3,689.8 74.8,687.2C75.3,684.7 75,680.6 75.1,676.9C75.2,673.2 75.6,668.2 75.5,665C75.4,661.8 75.4,660 74.3,657.6C73.2,655.3 70.7,653 69.1,651C67.5,649 65.5,648.6 64.6,645.8C63.7,643 64,635.9 63.7,634C63.4,632 62.9,632 62.5,634C62.1,635.9 62.5,643 61.6,645.8C60.7,648.6 58.7,649 57.1,651C55.5,653 53,655.3 51.9,657.6C50.8,660 50.8,661.8 50.7,665C50.6,668.2 51,673.2 51.1,676.9C51.2,680.6 50.9,684.7 51.4,687.2C51.9,689.8 54.1,690.5 54,692.3C53.9,694 46.9,696.7 50.5,697.6C54.1,698.5 72.1,698.5 75.7,697.6Z" fill="#f9606a" stroke="#111" stroke-width="0.9" stroke-linejoin="round"/>
<line x1="42.7" y1="687.3" x2="83.5" y2="687.3" stroke="#111" stroke-width="1.6"/>
<line x1="42.7" y1="681.3" x2="83.5" y2="681.3" stroke="#111" stroke-width="1.6"/>
<line x1="42.7" y1="677.1" x2="83.5" y2="677.1" stroke="#111" stroke-width="1.6"/>
<line x1="42.7" y1="673.8" x2="83.5" y2="673.8" stroke="#111" stroke-width="1.6"/>
<line x1="42.7" y1="671.1" x2="83.5" y2="671.1" stroke="#111" stroke-width="1.6"/>
<path d="M69.5,659.4h0M58.7,652.7h0M72.6,665.7h0M57.3,666.9h0M68.8,655.1h0M58.5,666.4h0M72.9,651.4h0M64.4,650.3h0M61.3,665.2h0M58.6,659.5h0M58.5,659h0M61.2,662.2h0M75,662.7h0M67.3,658.1h0M59.9,657.8h0M54,666h0M67.3,666.2h0M58.6,662.7h0M71.6,663.1h0M53.1,665.7h0M58.1,657.3h0M72.4,666.1h0M52.3,655.6h0M65.3,652.7h0M52.6,662.7h0M61.8,663.9h0M62.9,652.1h0M73.8,664.6h0M72.4,658.5h0M58.8,650.9h0M73.5,653.1h0M57.8,665.5h0M67.4,651.4h0M59.4,660.6h0M63.5,662.8h0M61,662.5h0M69.1,657.2h0M72.2,665.7h0M68.8,663.5h0M62.5,656.7h0M55.8,659.3h0M52,665h0M59.5,651h0M69.9,662h0M72.3,664.1h0M62.1,665.5h0M59.7,656h0M65.7,661.6h0M67.4,658.6h0M61.6,651.3h0M66,651.4h0M68.2,653.4h0M54.9,659.4h0M59,655.1h0M51.6,666.2h0M61.6,660.8h0M67.9,651.5h0M55.5,650.5h0M58,656.3h0M68.1,656.3h0M58,653.1h0M58.8,654.3h0M74.6,661.3h0M64.6,659h0M52.9,661.9h0M65.5,657.4h0M71.6,656.8h0M61.2,658.4h0M69.3,660.5h0M74,664.5h0M46,644.3h0M83,634h0M55,648.8h0" stroke="#111" stroke-width="1.2" stroke-linecap="round"/>
<line x1="42.7" y1="668.8" x2="83.5" y2="668.8" stroke="#111" stroke-width="1.4" stroke-dasharray="1.6,0.9"/>
<line x1="42.7" y1="666.8" x2="83.5" y2="666.8" stroke="#111" stroke-width="1.4" stroke-dasharray="1.6,0.9"/>
<line x1="42.7" y1="665.1" x2="83.5" y2="665.1" stroke="#111" stroke-width="1.4" stroke-dasharray="1.6,0.9"/>
<line x1="42.7" y1="663.5" x2="83.5" y2="663.5" stroke="#111" stroke-width="1.4" stroke-dasharray="1.6,0.9"/>
<path d="M94,697.6 Q108.7,695.8 115,692.4 Q121.3,695.8 136,697.6 Z" fill="#fff" stroke="#111" stroke-width="0.9"/>
<path d="M111,697 L115,693.2 L119,697 Z" fill="#4accd0"/>
<path d="M115.6,693.2C116.2,692.8 117.1,691.7 118,690.9C118.9,690.2 120.4,689.5 121,688.7C121.6,688 121.5,687.4 121.5,686.5C121.5,685.6 120.8,684.4 121,683.5C121.2,682.7 122.3,682.1 123,681.3C123.7,680.6 124.6,680 125.3,679.1C126,678.2 126.7,677.1 127.4,676.1C128.1,675.2 128.9,674.2 129.5,673.2C130.1,672.2 136.1,670.7 131,670.2C125.9,669.7 104.1,669.7 99,670.2C93.9,670.7 99.9,672.2 100.5,673.2C101.1,674.2 101.9,675.2 102.6,676.1C103.3,677.1 104,678.2 104.7,679.1C105.4,680 106.3,680.6 107,681.3C107.7,682.1 108.8,682.7 109,683.5C109.2,684.4 108.5,685.6 108.5,686.5C108.5,687.4 108.4,688 109,688.7C109.6,689.5 111.1,690.2 112,690.9C112.9,691.7 113.8,692.8 114.4,693.2C115,693.5 115,693.5 115.6,693.2Z" fill="#4accd0" stroke="#111" stroke-width="0.9" stroke-linejoin="round"/>
<line x1="94" y1="687.3" x2="136" y2="687.3" stroke="#111" stroke-width="1.6"/>
<line x1="94" y1="681.3" x2="136" y2="681.3" stroke="#111" stroke-width="1.6"/>
<line x1="94" y1="677.1" x2="136" y2="677.1" stroke="#111" stroke-width="1.6"/>
<line x1="94" y1="673.8" x2="136" y2="673.8" stroke="#111" stroke-width="1.6"/>
<line x1="94" y1="671.1" x2="136" y2="671.1" stroke="#111" stroke-width="1.6"/>
<path d="M92.5,666.5C93.8,668.5 95.2,670.1 99,671C102.8,671.8 109.7,671.7 115,671.7C120.3,671.7 127.2,671.8 131,671C134.8,670.1 136.2,668.5 137.5,666.5C138.8,664.5 139.1,662.1 138.7,659.1C138.3,656.2 137.3,651.1 135,648.8C132.7,646.4 128.3,645.8 125,645.1C121.7,644.3 118.3,644.3 115,644.3C111.7,644.3 108.3,644.3 105,645.1C101.7,645.8 97.3,646.4 95,648.8C92.7,651.1 91.7,656.2 91.3,659.1C90.9,662.1 91.2,664.5 92.5,666.5Z" fill="#151515"/>
<path d="M116.8,642.2h0M100.4,643.3h0M109.3,642h0M124.4,641.7h0M101,645.5h0M121.4,647h0M96.1,646.4h0M118.4,642.1h0M123.8,646.7h0M107.5,643.4h0M119.1,644.2h0M115,643.5h0M111.5,643h0M110.7,642.3h0M109.6,647.4h0M114.6,643.2h0M109.3,646.1h0M112.2,643h0M116.4,648.8h0M103.3,641.2h0M131.5,643.9h0M120.4,643.3h0M110.8,645.4h0M98.7,643h0M103.2,647.8h0M124.7,644.2h0M110,647h0M130.4,647.4h0M106.1,642.9h0M118.5,640.5h0M132.3,643.4h0M103.7,647.5h0M96.1,648.2h0M114.8,646.1h0M121.7,643.6h0M116,643.8h0M120.2,643.7h0M99.7,641.1h0M127.7,640.7h0M119.1,641.1h0M110.3,642.2h0M123,641.9h0M109.8,646.7h0M104,645h0M102.7,639.8h0M110.7,642.3h0M106.4,642.8h0M104.4,647h0M130,644.7h0M106,640.5h0M108,648.2h0M127.8,645.9h0M103,642.5h0M105.5,647.1h0M121.8,647.3h0M105.7,645.9h0M112.7,647.4h0M105.7,644.3h0M128.5,646.7h0M104.6,640.8h0M129.6,644.5h0M105.8,644.2h0M129.6,645.7h0M97.2,644.8h0M110.1,645.1h0M113.8,649h0M122.2,640.4h0M134,643.6h0M114.8,645h0M118.7,643.7h0M112,631h0M127,636.9h0M106,638.4h0" stroke="#111" stroke-width="1.1" stroke-linecap="round"/>
<path d="M113.9,647.3 L115,629.5 L116.1,647.3 Z" fill="#111"/>
<text transform="translate(233.6,619.8) scale(1,1.18)" font-size="9.6" font-weight="bold" text-anchor="middle" fill="#111">TREM1</text>
<line x1="177.6" y1="626.2" x2="177.6" y2="701.5" stroke="#111" stroke-width="1.3"/>
<line x1="177" y1="700.9" x2="303.6" y2="700.9" stroke="#111" stroke-width="1.3"/>
<line x1="175" y1="697.6" x2="177.6" y2="697.6" stroke="#111" stroke-width="0.9"/>
<text x="174.4" y="700.4" font-size="8" text-anchor="end" fill="#333">0</text>
<line x1="175" y1="679" x2="177.6" y2="679" stroke="#111" stroke-width="0.9"/>
<text x="174.4" y="681.8" font-size="8" text-anchor="end" fill="#333">1</text>
<line x1="175" y1="660.4" x2="177.6" y2="660.4" stroke="#111" stroke-width="0.9"/>
<text x="174.4" y="663.2" font-size="8" text-anchor="end" fill="#333">2</text>
<line x1="175" y1="641.8" x2="177.6" y2="641.8" stroke="#111" stroke-width="0.9"/>
<text x="174.4" y="644.6" font-size="8" text-anchor="end" fill="#333">3</text>
<line x1="217.7" y1="700.9" x2="217.7" y2="703.1" stroke="#111" stroke-width="0.9"/>
<line x1="272" y1="700.9" x2="272" y2="703.1" stroke="#111" stroke-width="0.9"/>
<line x1="183.9" y1="697.6" x2="196.7" y2="697.6" stroke="#aaa" stroke-width="1.2"/>
<line x1="209.6" y1="697.6" x2="230.6" y2="697.6" stroke="#555" stroke-width="1.2"/>
<line x1="217.7" y1="697.6" x2="217.7" y2="671.6" stroke="#111" stroke-width="1.3"/>
<line x1="187.4" y1="684.7" x2="234.1" y2="684.7" stroke="#333" stroke-width="1.1" stroke-dasharray="2.5,1"/>
<path d="M188,671.6h0M196,677.1h0M201,671.6h0M215,677.1h0M223,677.1h0M187,684.7h0" stroke="#111" stroke-width="1.4" stroke-linecap="round"/>
<path d="M236.4,697.6 Q252.8,695.2 259.8,690.7 Q266.8,695.2 283.2,697.6 Z" fill="#fff" stroke="#111" stroke-width="0.9"/>
<path d="M257.3,697 L259.8,691.5 L262.3,697 Z" fill="#4accd0"/>
<path d="M260.6,692C261.1,691.6 261.1,690.2 261.8,689.2C262.5,688.3 263.8,687.2 264.8,686.4C265.8,685.7 268.1,685.4 267.8,684.8C267.5,684.1 263.5,683.5 262.8,682.7C262.1,681.9 263.1,680.9 263.8,679.9C264.5,679 267.1,678.1 266.8,677.1C266.6,676.2 263.2,675.6 262.3,674.4C261.4,673.1 261.5,672 261.3,669.7C261.1,667.4 261.2,666.9 261,660.4C260.8,653.9 260.6,635.6 260.3,630.6C260,625.7 259.6,625.7 259.3,630.6C259,635.6 258.8,653.9 258.6,660.4C258.4,666.9 258.5,667.4 258.3,669.7C258.1,672 258.2,673.1 257.3,674.4C256.4,675.6 253.1,676.2 252.8,677.1C252.6,678.1 255.1,679 255.8,679.9C256.5,680.9 257.5,681.9 256.8,682.7C256.1,683.5 252.1,684.1 251.8,684.8C251.5,685.4 253.8,685.7 254.8,686.4C255.8,687.2 257.1,688.3 257.8,689.2C258.5,690.2 258.5,691.6 259,692C259.5,692.5 260.1,692.5 260.6,692Z" fill="#fff" stroke="#111" stroke-width="0.9" stroke-linejoin="round"/>
<line x1="238.5" y1="684.7" x2="281.1" y2="684.7" stroke="#111" stroke-width="1.6"/>
<line x1="238.5" y1="677.2" x2="281.1" y2="677.2" stroke="#111" stroke-width="1.6"/>
<line x1="238.5" y1="671.8" x2="281.1" y2="671.8" stroke="#111" stroke-width="1.6"/>
<line x1="238.5" y1="667.7" x2="281.1" y2="667.7" stroke="#111" stroke-width="1.6"/>
<line x1="238.5" y1="664.3" x2="281.1" y2="664.3" stroke="#111" stroke-width="1.6"/>
<line x1="239.8" y1="661.4" x2="279.8" y2="661.4" stroke="#111" stroke-width="1.3" stroke-dasharray="1.6,0.9"/>
<line x1="239.8" y1="658.9" x2="279.8" y2="658.9" stroke="#111" stroke-width="1.3" stroke-dasharray="1.6,0.9"/>
<path d="M259.3,655.8h0M279.6,653.3h0M242.7,659.9h0M262.1,654.1h0M249.8,659.4h0M269.6,659.1h0M264.6,658.9h0M265.8,654.5h0M269,654.8h0M255,657.2h0M257.2,653.9h0M243.1,655.5h0M271.4,655.9h0M254.9,658.5h0M276.8,657.4h0M253.6,658.3h0M255.5,658.9h0M274.5,655.8h0M255.2,656h0M246.9,656.3h0M247.7,656.7h0M265.5,654h0M265,658.7h0M258.6,658.1h0M274.9,655.6h0M262.3,656.5h0M249.7,658.9h0M267,659.1h0M257.9,656.5h0M278.1,658.7h0M269.4,659.2h0M270.9,659.3h0M268.1,658.8h0M263.7,653.3h0M245.1,655.4h0M245.9,654.8h0M276.7,653.1h0M267.8,660.3h0M268.4,654.5h0M276.9,655.7h0M247,651.7h0M275.5,636.8h0M266.4,650.6h0M250.2,642.8h0M267.9,635.5h0M256,642h0M258.7,646.1h0M246.7,635.2h0M254.2,635h0M244.3,632.1h0M258.6,644.5h0M264.5,634.1h0M270.5,647.3h0M270.7,648.9h0" stroke="#111" stroke-width="1.1" stroke-linecap="round"/>
<line x1="259.8" y1="675.3" x2="259.8" y2="630.6" stroke="#111" stroke-width="1.3"/>
<text transform="translate(378.2,619.8) scale(1,1.18)" font-size="9.6" font-weight="bold" text-anchor="middle" fill="#111">NFKBIA</text>
<line x1="321.3" y1="626.3" x2="321.3" y2="701.8" stroke="#111" stroke-width="1.3"/>
<line x1="320.7" y1="701.2" x2="435.1" y2="701.2" stroke="#111" stroke-width="1.3"/>
<line x1="318.7" y1="697.4" x2="321.3" y2="697.4" stroke="#111" stroke-width="0.9"/>
<text x="318.1" y="700.2" font-size="8" text-anchor="end" fill="#333">0</text>
<line x1="318.7" y1="680.3" x2="321.3" y2="680.3" stroke="#111" stroke-width="0.9"/>
<text x="318.1" y="683.1" font-size="8" text-anchor="end" fill="#333">1</text>
<line x1="318.7" y1="663.2" x2="321.3" y2="663.2" stroke="#111" stroke-width="0.9"/>
<text x="318.1" y="666" font-size="8" text-anchor="end" fill="#333">2</text>
<line x1="318.7" y1="646.1" x2="321.3" y2="646.1" stroke="#111" stroke-width="0.9"/>
<text x="318.1" y="648.9" font-size="8" text-anchor="end" fill="#333">3</text>
<line x1="318.7" y1="629" x2="321.3" y2="629" stroke="#111" stroke-width="0.9"/>
<text x="318.1" y="631.8" font-size="8" text-anchor="end" fill="#333">4</text>
<line x1="352.4" y1="701.2" x2="352.4" y2="703.4" stroke="#111" stroke-width="0.9"/>
<line x1="404.1" y1="701.2" x2="404.1" y2="703.4" stroke="#111" stroke-width="0.9"/>
<path d="M329.4,697.4 Q345.5,695.3 352.4,691.4 Q359.3,695.3 375.4,697.4 Z" fill="#fff" stroke="#111" stroke-width="0.9"/>
<path d="M339.9,696.8 L352.4,692.2 L364.9,696.8 Z" fill="#f9606a"/>
<path d="M364.4,694C367.4,693.6 358.6,692.4 358.4,691.4C358.1,690.4 361.5,689 362.9,688C364.3,687 366.3,686.6 366.7,685.6C367.1,684.6 365.7,683.7 365,682C364.3,680.3 363.3,678.2 362.3,675.2C361.3,672.2 360.1,667.8 359,664.1C357.9,660.3 356.7,656.1 355.7,652.9C354.7,649.8 353.6,646.5 353,645.2C352.4,644 352.4,644 351.8,645.2C351.1,646.5 350.1,649.8 349.1,652.9C348.1,656.1 346.9,660.3 345.8,664.1C344.7,667.8 343.5,672.2 342.5,675.2C341.5,678.2 340.5,680.3 339.8,682C339.1,683.7 337.7,684.6 338.1,685.6C338.4,686.6 340.5,687 341.9,688C343.3,689 346.6,690.4 346.4,691.4C346.1,692.4 337.4,693.6 340.4,694C343.4,694.4 361.4,694.4 364.4,694Z" fill="#f9606a" stroke="#111" stroke-width="0.9" stroke-linejoin="round"/>
<line x1="331.8" y1="685.5" x2="373" y2="685.5" stroke="#111" stroke-width="1.6"/>
<line x1="331.8" y1="678.6" x2="373" y2="678.6" stroke="#111" stroke-width="1.6"/>
<line x1="331.8" y1="673.7" x2="373" y2="673.7" stroke="#111" stroke-width="1.6"/>
<line x1="331.8" y1="669.9" x2="373" y2="669.9" stroke="#111" stroke-width="1.6"/>
<line x1="331.8" y1="666.8" x2="373" y2="666.8" stroke="#111" stroke-width="1.6"/>
<line x1="331.8" y1="664.1" x2="373" y2="664.1" stroke="#111" stroke-width="1.6"/>
<line x1="332.4" y1="661.8" x2="372.4" y2="661.8" stroke="#111" stroke-width="1.3" stroke-dasharray="1.6,0.9"/>
<line x1="332.4" y1="659.8" x2="372.4" y2="659.8" stroke="#111" stroke-width="1.3" stroke-dasharray="1.6,0.9"/>
<line x1="332.4" y1="658" x2="372.4" y2="658" stroke="#111" stroke-width="1.3" stroke-dasharray="1.6,0.9"/>
<path d="M368.1,659.3h0M371.8,651.5h0M354.3,653.7h0M371,654.2h0M359.7,658.8h0M359.2,656.8h0M347.9,650.1h0M339.3,658h0M367.4,661.4h0M342,656.4h0M342.2,648.5h0M337.7,654.5h0M337.2,656.1h0M344.4,653.2h0M359.2,646.6h0M345.9,650.5h0M360.1,656.2h0M362.5,651.1h0M347.1,661h0M343.7,662.4h0M367.2,655.4h0M333.1,661.3h0M350.5,650.9h0M346.8,654.4h0M370.5,662.7h0M340.5,661.8h0M362.3,654.7h0M365.3,660.5h0M362.3,661.1h0M347.8,658.2h0M350.2,658.6h0M370.1,661.3h0M342.2,645.9h0M339.2,656.1h0M366.1,653.4h0M370.6,654.4h0M366.7,659.4h0M372.2,650h0M362.5,652.8h0M345.4,659.8h0M333.7,654.3h0M357.4,646.2h0M357.6,655.5h0M368.5,655.2h0M361.4,650h0M352,659.6h0M370.4,659.5h0M365.8,649.2h0M339.5,662.9h0M346.6,651.1h0" stroke="#111" stroke-width="1" stroke-linecap="round"/>
<path d="M380.5,697.4 Q397,695.6 404.1,692.3 Q411.2,695.6 427.7,697.4 Z" fill="#fff" stroke="#111" stroke-width="0.9"/>
<path d="M394.8,696.8 L404.1,693.1 L413.4,696.8 Z" fill="#4accd0"/>
<path d="M406.8,693.1C408.4,692.5 409.2,690.4 411.2,689.2C413.3,687.9 418.2,686.9 419.1,685.6C420,684.3 416.7,682.3 416.7,681.2C416.7,680 418.5,679.6 419.1,678.6C419.7,677.6 420.1,676.6 420.1,675.2C420.1,673.7 419.3,672 419.1,670C418.9,668 419.1,664.9 418.9,663.2C418.7,661.5 422.9,660.3 418.1,659.8C413.3,659.2 394.9,659.2 390.1,659.8C385.3,660.3 389.5,661.5 389.3,663.2C389.1,664.9 389.3,668 389.1,670C388.9,672 388.1,673.7 388.1,675.2C388.1,676.6 388.5,677.6 389.1,678.6C389.7,679.6 391.5,680 391.5,681.2C391.5,682.3 388.2,684.3 389.1,685.6C390,686.9 394.9,687.9 397,689.2C399.1,690.4 399.8,692.5 401.4,693.1C403,693.8 405.2,693.8 406.8,693.1Z" fill="#4accd0" stroke="#111" stroke-width="0.9" stroke-linejoin="round"/>
<line x1="382.7" y1="685.5" x2="425.5" y2="685.5" stroke="#111" stroke-width="1.6"/>
<line x1="382.7" y1="678.6" x2="425.5" y2="678.6" stroke="#111" stroke-width="1.6"/>
<line x1="382.7" y1="673.7" x2="425.5" y2="673.7" stroke="#111" stroke-width="1.6"/>
<line x1="382.7" y1="669.9" x2="425.5" y2="669.9" stroke="#111" stroke-width="1.6"/>
<line x1="382.7" y1="666.8" x2="425.5" y2="666.8" stroke="#111" stroke-width="1.6"/>
<line x1="382.7" y1="664.1" x2="425.5" y2="664.1" stroke="#111" stroke-width="1.6"/>
<path d="M382.7,662.3C386.3,665.3 397,663.5 404.1,663.5C411.2,663.5 421.9,665.3 425.5,662.3C429.1,659.4 427.2,649.4 425.5,646.1C423.8,642.8 418.6,643 415,642.7C411.4,642.4 407.8,644.4 404.1,644.4C400.4,644.4 396.6,642.4 393,642.7C389.4,643 384.4,642.8 382.7,646.1C381,649.4 379.1,659.4 382.7,662.3Z" fill="#161616"/>
<rect x="382.7" y="662.3" width="42.8" height="2.6" fill="#444"/>
<path d="M410.4,645.9h0M406.6,641h0M394.8,646.9h0M387,646.8h0M406.6,641.8h0M409.5,640.2h0M422.9,644.3h0M416.8,645.9h0M411.9,644.1h0M406.5,641.3h0M420.2,646.9h0M395.8,641.3h0M406,645.9h0M395.7,643h0M393.6,643.3h0M389.1,644h0M386.3,639.8h0M388.9,643.7h0M386.3,643.1h0M396,647.1h0M391.2,640.4h0M396.7,639.4h0M418.7,644.9h0M421.6,641.9h0M403.3,645.3h0M408.7,643.6h0M404.4,641.9h0M391.8,643.2h0M392.6,644.8h0M385.4,643.1h0M404.5,639.5h0M412,643.4h0M407.3,643.7h0M401.1,641.9h0M409.6,644h0M403.8,642.8h0M402.5,646.2h0M417.9,641h0M391.9,639.2h0M415.8,645.6h0M401,631.6h0M397,635.8h0M413,637.5h0" stroke="#111" stroke-width="1" stroke-linecap="round"/>
<path d="M403,646.1 L404.1,629.9 L405.2,646.1 Z" fill="#111"/>
<text transform="translate(522.6,619.8) scale(1,1.18)" font-size="9.6" font-weight="bold" text-anchor="middle" fill="#111">NFKB2</text>
<line x1="466.3" y1="626.3" x2="466.3" y2="701.3" stroke="#111" stroke-width="1.3"/>
<line x1="465.7" y1="700.7" x2="579.5" y2="700.7" stroke="#111" stroke-width="1.3"/>
<line x1="463.7" y1="697.4" x2="466.3" y2="697.4" stroke="#111" stroke-width="0.9"/>
<text x="463.1" y="700.2" font-size="8" text-anchor="end" fill="#333">0.0</text>
<line x1="463.7" y1="681.3" x2="466.3" y2="681.3" stroke="#111" stroke-width="0.9"/>
<text x="463.1" y="684.1" font-size="8" text-anchor="end" fill="#333">0.5</text>
<line x1="463.7" y1="665.2" x2="466.3" y2="665.2" stroke="#111" stroke-width="0.9"/>
<text x="463.1" y="668" font-size="8" text-anchor="end" fill="#333">1.0</text>
<line x1="463.7" y1="649.1" x2="466.3" y2="649.1" stroke="#111" stroke-width="0.9"/>
<text x="463.1" y="651.9" font-size="8" text-anchor="end" fill="#333">1.5</text>
<line x1="463.7" y1="633" x2="466.3" y2="633" stroke="#111" stroke-width="0.9"/>
<text x="463.1" y="635.8" font-size="8" text-anchor="end" fill="#333">2.0</text>
<line x1="497.4" y1="700.7" x2="497.4" y2="702.9" stroke="#111" stroke-width="0.9"/>
<line x1="548.4" y1="700.7" x2="548.4" y2="702.9" stroke="#111" stroke-width="0.9"/>
<text transform="translate(449,663.5) rotate(-90)" font-size="8.8" text-anchor="middle" fill="#222" textLength="73.8" lengthAdjust="spacingAndGlyphs">Expression Level</text>
<path d="M497.7,697.4C497.8,692.6 497.6,674.1 497.7,668.4C497.8,662.8 498.5,664.9 498.6,663.6C498.7,662.2 498.4,661.7 498.3,660.4C498.1,659 497.8,656.8 497.7,655.5C497.6,654.3 497.6,653.1 497.5,652.6C497.4,652.2 497.4,652.2 497.3,652.6C497.2,653.1 497.2,654.3 497.1,655.5C497,656.8 496.6,659 496.5,660.4C496.4,661.7 496.1,662.2 496.2,663.6C496.3,664.9 496.9,662.8 497.1,668.4C497.2,674.1 497,692.6 497.1,697.4C497.2,702.2 497.6,702.2 497.7,697.4Z" fill="#111" stroke="#111" stroke-width="0.7" stroke-linejoin="round"/>
<line x1="476.4" y1="697.4" x2="518.4" y2="697.4" stroke="#111" stroke-width="1.6"/>
<line x1="477" y1="675.1" x2="517.8" y2="675.1" stroke="#111" stroke-width="1.6"/>
<line x1="476.4" y1="662" x2="518.4" y2="662" stroke="#111" stroke-width="1.4" stroke-dasharray="1.6,0.9"/>
<path d="M479.5,652.8h0M494,652.8h0M497,652.8h0M505,652.8h0M507,652.8h0" stroke="#111" stroke-width="1.4" stroke-linecap="round"/>
<path d="M525,697.4 Q541.4,695.1 548.4,691 Q555.4,695.1 571.8,697.4 Z" fill="#fff" stroke="#111" stroke-width="0.9"/>
<path d="M543.4,696.8 L548.4,691.8 L553.4,696.8 Z" fill="#4accd0"/>
<path d="M549.9,692.6C550.3,691.8 549.4,689.9 549.4,687.7C549.4,685.6 549.3,681.8 549.9,679.7C550.5,677.6 552.9,676.5 552.9,675.2C552.9,673.8 550.3,673.3 549.9,671.6C549.5,670 550,666.8 550.4,665.2C550.8,663.6 552.4,663.1 552.4,662C552.4,660.9 550.6,660.3 550.4,658.8C550.2,657.2 551.5,654.3 551.4,652.6C551.3,651 550.3,652.6 549.9,649.1C549.5,645.6 549.1,634.3 548.8,631.4C548.5,628.4 548.3,628.4 548,631.4C547.7,634.3 547.3,645.6 546.9,649.1C546.5,652.6 545.5,651 545.4,652.6C545.3,654.3 546.6,657.2 546.4,658.8C546.2,660.3 544.4,660.9 544.4,662C544.4,663.1 546,663.6 546.4,665.2C546.8,666.8 547.3,670 546.9,671.6C546.5,673.3 543.9,673.8 543.9,675.2C543.9,676.5 546.3,677.6 546.9,679.7C547.5,681.8 547.4,685.6 547.4,687.7C547.4,689.9 546.5,691.8 546.9,692.6C547.3,693.4 549.5,693.4 549.9,692.6Z" fill="#fff" stroke="#111" stroke-width="0.9" stroke-linejoin="round"/>
<line x1="527.1" y1="675.1" x2="569.7" y2="675.1" stroke="#111" stroke-width="1.6"/>
<line x1="527.1" y1="662" x2="569.7" y2="662" stroke="#111" stroke-width="1.6"/>
<line x1="527.1" y1="652.8" x2="569.7" y2="652.8" stroke="#111" stroke-width="1.6" stroke-dasharray="1.6,0.9"/>
<line x1="538.4" y1="645.6" x2="558.4" y2="645.6" stroke="#111" stroke-width="1.3" stroke-dasharray="1.6,0.9"/>
<ellipse cx="548.4" cy="662" rx="3.8" ry="2.6" fill="#111"/>
<ellipse cx="548.4" cy="652.8" rx="3.2" ry="2.4" fill="#111"/>
<path d="M567,631.4h0M557,636.2h0M561,639.4h0" stroke="#111" stroke-width="1.4" stroke-linecap="round"/>
<rect x="587.4" y="573.5" width="13.1" height="12.8" fill="#f9606a" stroke="#333" stroke-width="0.9"/>
<rect x="587.4" y="589.8" width="13.1" height="12.8" fill="#4accd0" stroke="#222" stroke-width="0.9"/>
<text x="604.2" y="584.5" font-size="12" fill="#222">Relapse</text>
<text x="604.2" y="599.5" font-size="12" fill="#222">CCR</text>
<circle cx="356.6" cy="739.8" r="3.5" fill="#c9252b"/>
<path d="M353.1,743.8 L360.1,743.8 C362.9,743.8 364,744.6 364.5,746.8 L366.5,756.4 C366.8,758.4 364,759.4 363.5,757.6 L361.5,750.6 L361,750.6 L361,772.5 C361,773.9 357.5,773.9 357.5,772.5 L357.5,760 L355.7,760 L355.7,772.5 C355.7,773.9 352.2,773.9 352.2,772.5 L352.2,750.6 L351.7,750.6 L349.7,757.6 C349.2,759.4 346.4,758.4 346.7,756.4 L348.7,746.8 C349.2,744.6 350.3,743.8 353.1,743.8Z" fill="#c9252b"/>
<path d="M356.2,746.6 l0.6,1.4 M356.7,749.3 l0.8,1.6 M356,752.6 h0.8" stroke="#fff" stroke-width="0.5" opacity="0.8" fill="none"/>
<circle cx="380.9" cy="739.8" r="3.5" fill="#8c1c1e"/>
<path d="M377.4,743.8 L384.4,743.8 C387.2,743.8 388.3,744.6 388.8,746.8 L390.8,756.4 C391.1,758.4 388.3,759.4 387.8,757.6 L385.8,750.6 L385.3,750.6 L385.3,772.5 C385.3,773.9 381.8,773.9 381.8,772.5 L381.8,760 L380,760 L380,772.5 C380,773.9 376.5,773.9 376.5,772.5 L376.5,750.6 L376,750.6 L374,757.6 C373.5,759.4 370.7,758.4 371,756.4 L373,746.8 C373.5,744.6 374.6,743.8 377.4,743.8Z" fill="#8c1c1e"/>
<path d="M380.5,746.6 l0.6,1.4 M381,749.3 l0.8,1.6 M380.3,752.6 h0.8" stroke="#fff" stroke-width="0.5" opacity="0.8" fill="none"/>
<circle cx="403.4" cy="739.8" r="3.5" fill="#e32a2a"/>
<path d="M399.9,743.8 L406.9,743.8 C409.7,743.8 410.8,744.6 411.3,746.8 L413.3,756.4 C413.6,758.4 410.8,759.4 410.3,757.6 L408.3,750.6 L407.8,750.6 L407.8,772.5 C407.8,773.9 404.3,773.9 404.3,772.5 L404.3,760 L402.5,760 L402.5,772.5 C402.5,773.9 399,773.9 399,772.5 L399,750.6 L398.5,750.6 L396.5,757.6 C396,759.4 393.2,758.4 393.5,756.4 L395.5,746.8 C396,744.6 397.1,743.8 399.9,743.8Z" fill="#e32a2a"/>
<path d="M403,746.6 l0.6,1.4 M403.5,749.3 l0.8,1.6 M402.8,752.6 h0.8" stroke="#fff" stroke-width="0.5" opacity="0.8" fill="none"/>
<circle cx="429.4" cy="739.8" r="3.5" fill="#ec651c"/>
<path d="M425.9,743.8 L432.9,743.8 C435.7,743.8 436.8,744.6 437.3,746.8 L439.3,756.4 C439.6,758.4 436.8,759.4 436.3,757.6 L434.3,750.6 L433.8,750.6 L433.8,772.5 C433.8,773.9 430.3,773.9 430.3,772.5 L430.3,760 L428.5,760 L428.5,772.5 C428.5,773.9 425,773.9 425,772.5 L425,750.6 L424.5,750.6 L422.5,757.6 C422,759.4 419.2,758.4 419.5,756.4 L421.5,746.8 C422,744.6 423.1,743.8 425.9,743.8Z" fill="#ec651c"/>
<path d="M429,746.6 l0.6,1.4 M429.5,749.3 l0.8,1.6 M428.8,752.6 h0.8" stroke="#fff" stroke-width="0.5" opacity="0.8" fill="none"/>
<circle cx="451.9" cy="739.8" r="3.5" fill="#8c1c1e"/>
<path d="M448.4,743.8 L455.4,743.8 C458.2,743.8 459.3,744.6 459.8,746.8 L461.8,756.4 C462.1,758.4 459.3,759.4 458.8,757.6 L456.8,750.6 L456.3,750.6 L456.3,772.5 C456.3,773.9 452.8,773.9 452.8,772.5 L452.8,760 L451,760 L451,772.5 C451,773.9 447.5,773.9 447.5,772.5 L447.5,750.6 L447,750.6 L445,757.6 C444.5,759.4 441.7,758.4 442,756.4 L444,746.8 C444.5,744.6 445.6,743.8 448.4,743.8Z" fill="#8c1c1e"/>
<path d="M451.5,746.6 l0.6,1.4 M452,749.3 l0.8,1.6 M451.3,752.6 h0.8" stroke="#fff" stroke-width="0.5" opacity="0.8" fill="none"/>
<circle cx="473.4" cy="739.8" r="3.5" fill="#d32a2d"/>
<path d="M469.9,743.8 L476.9,743.8 C479.7,743.8 480.8,744.6 481.3,746.8 L483.3,756.4 C483.6,758.4 480.8,759.4 480.3,757.6 L478.3,750.6 L477.8,750.6 L477.8,772.5 C477.8,773.9 474.3,773.9 474.3,772.5 L474.3,760 L472.5,760 L472.5,772.5 C472.5,773.9 469,773.9 469,772.5 L469,750.6 L468.5,750.6 L466.5,757.6 C466,759.4 463.2,758.4 463.5,756.4 L465.5,746.8 C466,744.6 467.1,743.8 469.9,743.8Z" fill="#d32a2d"/>
<path d="M473,746.6 l0.6,1.4 M473.5,749.3 l0.8,1.6 M472.8,752.6 h0.8" stroke="#fff" stroke-width="0.5" opacity="0.8" fill="none"/>
<circle cx="495.9" cy="739.8" r="3.5" fill="#1e3a6d"/>
<path d="M492.4,743.8 L499.4,743.8 C502.2,743.8 503.3,744.6 503.8,746.8 L505.8,756.4 C506.1,758.4 503.3,759.4 502.8,757.6 L500.8,750.6 L500.3,750.6 L500.3,772.5 C500.3,773.9 496.8,773.9 496.8,772.5 L496.8,760 L495,760 L495,772.5 C495,773.9 491.5,773.9 491.5,772.5 L491.5,750.6 L491,750.6 L489,757.6 C488.5,759.4 485.7,758.4 486,756.4 L488,746.8 C488.5,744.6 489.6,743.8 492.4,743.8Z" fill="#1e3a6d"/>
<path d="M495.5,746.6 l0.6,1.4 M496,749.3 l0.8,1.6 M495.3,752.6 h0.8" stroke="#fff" stroke-width="0.5" opacity="0.8" fill="none"/>
<circle cx="521.7" cy="739.8" r="3.5" fill="#4170bf"/>
<path d="M518.2,743.8 L525.2,743.8 C528,743.8 529.1,744.6 529.6,746.8 L531.6,756.4 C531.9,758.4 529.1,759.4 528.6,757.6 L526.6,750.6 L526.1,750.6 L526.1,772.5 C526.1,773.9 522.6,773.9 522.6,772.5 L522.6,760 L520.8,760 L520.8,772.5 C520.8,773.9 517.3,773.9 517.3,772.5 L517.3,750.6 L516.8,750.6 L514.8,757.6 C514.3,759.4 511.5,758.4 511.8,756.4 L513.8,746.8 C514.3,744.6 515.4,743.8 518.2,743.8Z" fill="#4170bf"/>
<path d="M521.3,746.6 l0.6,1.4 M521.8,749.3 l0.8,1.6 M521.1,752.6 h0.8" stroke="#fff" stroke-width="0.5" opacity="0.8" fill="none"/>
<circle cx="544.7" cy="739.8" r="3.5" fill="#4170bf"/>
<path d="M541.2,743.8 L548.2,743.8 C551,743.8 552.1,744.6 552.6,746.8 L554.6,756.4 C554.9,758.4 552.1,759.4 551.6,757.6 L549.6,750.6 L549.1,750.6 L549.1,772.5 C549.1,773.9 545.6,773.9 545.6,772.5 L545.6,760 L543.8,760 L543.8,772.5 C543.8,773.9 540.3,773.9 540.3,772.5 L540.3,750.6 L539.8,750.6 L537.8,757.6 C537.3,759.4 534.5,758.4 534.8,756.4 L536.8,746.8 C537.3,744.6 538.4,743.8 541.2,743.8Z" fill="#4170bf"/>
<path d="M544.3,746.6 l0.6,1.4 M544.8,749.3 l0.8,1.6 M544.1,752.6 h0.8" stroke="#fff" stroke-width="0.5" opacity="0.8" fill="none"/>
<circle cx="567.2" cy="739.8" r="3.5" fill="#2b3b99"/>
<path d="M563.7,743.8 L570.7,743.8 C573.5,743.8 574.6,744.6 575.1,746.8 L577.1,756.4 C577.4,758.4 574.6,759.4 574.1,757.6 L572.1,750.6 L571.6,750.6 L571.6,772.5 C571.6,773.9 568.1,773.9 568.1,772.5 L568.1,760 L566.3,760 L566.3,772.5 C566.3,773.9 562.8,773.9 562.8,772.5 L562.8,750.6 L562.3,750.6 L560.3,757.6 C559.8,759.4 557,758.4 557.3,756.4 L559.3,746.8 C559.8,744.6 560.9,743.8 563.7,743.8Z" fill="#2b3b99"/>
<path d="M566.8,746.6 l0.6,1.4 M567.3,749.3 l0.8,1.6 M566.6,752.6 h0.8" stroke="#fff" stroke-width="0.5" opacity="0.8" fill="none"/>
<circle cx="589.4" cy="739.8" r="3.5" fill="#2b3b99"/>
<path d="M585.9,743.8 L592.9,743.8 C595.7,743.8 596.8,744.6 597.3,746.8 L599.3,756.4 C599.6,758.4 596.8,759.4 596.3,757.6 L594.3,750.6 L593.8,750.6 L593.8,772.5 C593.8,773.9 590.3,773.9 590.3,772.5 L590.3,760 L588.5,760 L588.5,772.5 C588.5,773.9 585,773.9 585,772.5 L585,750.6 L584.5,750.6 L582.5,757.6 C582,759.4 579.2,758.4 579.5,756.4 L581.5,746.8 C582,744.6 583.1,743.8 585.9,743.8Z" fill="#2b3b99"/>
<path d="M589,746.6 l0.6,1.4 M589.5,749.3 l0.8,1.6 M588.8,752.6 h0.8" stroke="#fff" stroke-width="0.5" opacity="0.8" fill="none"/>
<circle cx="611.1" cy="740.5" r="3.5" fill="#25338a"/>
<path d="M607.6,744.5 L614.6,744.5 C617.4,744.5 618.5,745.3 619,747.5 L621,757.1 C621.3,759.1 618.5,760.1 618,758.3 L616,751.3 L615.5,751.3 L615.5,773.2 C615.5,774.6 612,774.6 612,773.2 L612,760.7 L610.2,760.7 L610.2,773.2 C610.2,774.6 606.7,774.6 606.7,773.2 L606.7,751.3 L606.2,751.3 L604.2,758.3 C603.7,760.1 600.9,759.1 601.2,757.1 L603.2,747.5 C603.7,745.3 604.8,744.5 607.6,744.5Z" fill="#25338a"/>
<path d="M610.7,747.3 l0.6,1.4 M611.2,750 l0.8,1.6 M610.5,753.3 h0.8" stroke="#fff" stroke-width="0.5" opacity="0.8" fill="none"/>
<circle cx="634.1" cy="739.8" r="3.5" fill="#46a6cd"/>
<path d="M630.6,743.8 L637.6,743.8 C640.4,743.8 641.5,744.6 642,746.8 L644,756.4 C644.3,758.4 641.5,759.4 641,757.6 L639,750.6 L638.5,750.6 L638.5,772.5 C638.5,773.9 635,773.9 635,772.5 L635,760 L633.2,760 L633.2,772.5 C633.2,773.9 629.7,773.9 629.7,772.5 L629.7,750.6 L629.2,750.6 L627.2,757.6 C626.7,759.4 623.9,758.4 624.2,756.4 L626.2,746.8 C626.7,744.6 627.8,743.8 630.6,743.8Z" fill="#46a6cd"/>
<path d="M633.7,746.6 l0.6,1.4 M634.2,749.3 l0.8,1.6 M633.5,752.6 h0.8" stroke="#fff" stroke-width="0.5" opacity="0.8" fill="none"/>
<circle cx="657.9" cy="739.8" r="3.5" fill="#3f6fbf"/>
<path d="M654.4,743.8 L661.4,743.8 C664.2,743.8 665.3,744.6 665.8,746.8 L667.8,756.4 C668.1,758.4 665.3,759.4 664.8,757.6 L662.8,750.6 L662.3,750.6 L662.3,772.5 C662.3,773.9 658.8,773.9 658.8,772.5 L658.8,760 L657,760 L657,772.5 C657,773.9 653.5,773.9 653.5,772.5 L653.5,750.6 L653,750.6 L651,757.6 C650.5,759.4 647.7,758.4 648,756.4 L650,746.8 C650.5,744.6 651.6,743.8 654.4,743.8Z" fill="#3f6fbf"/>
<text x="658.2" y="751.5" font-size="4.6" font-weight="bold" fill="#fff" text-anchor="middle" opacity="0.9">14</text>
</svg></body></html>
